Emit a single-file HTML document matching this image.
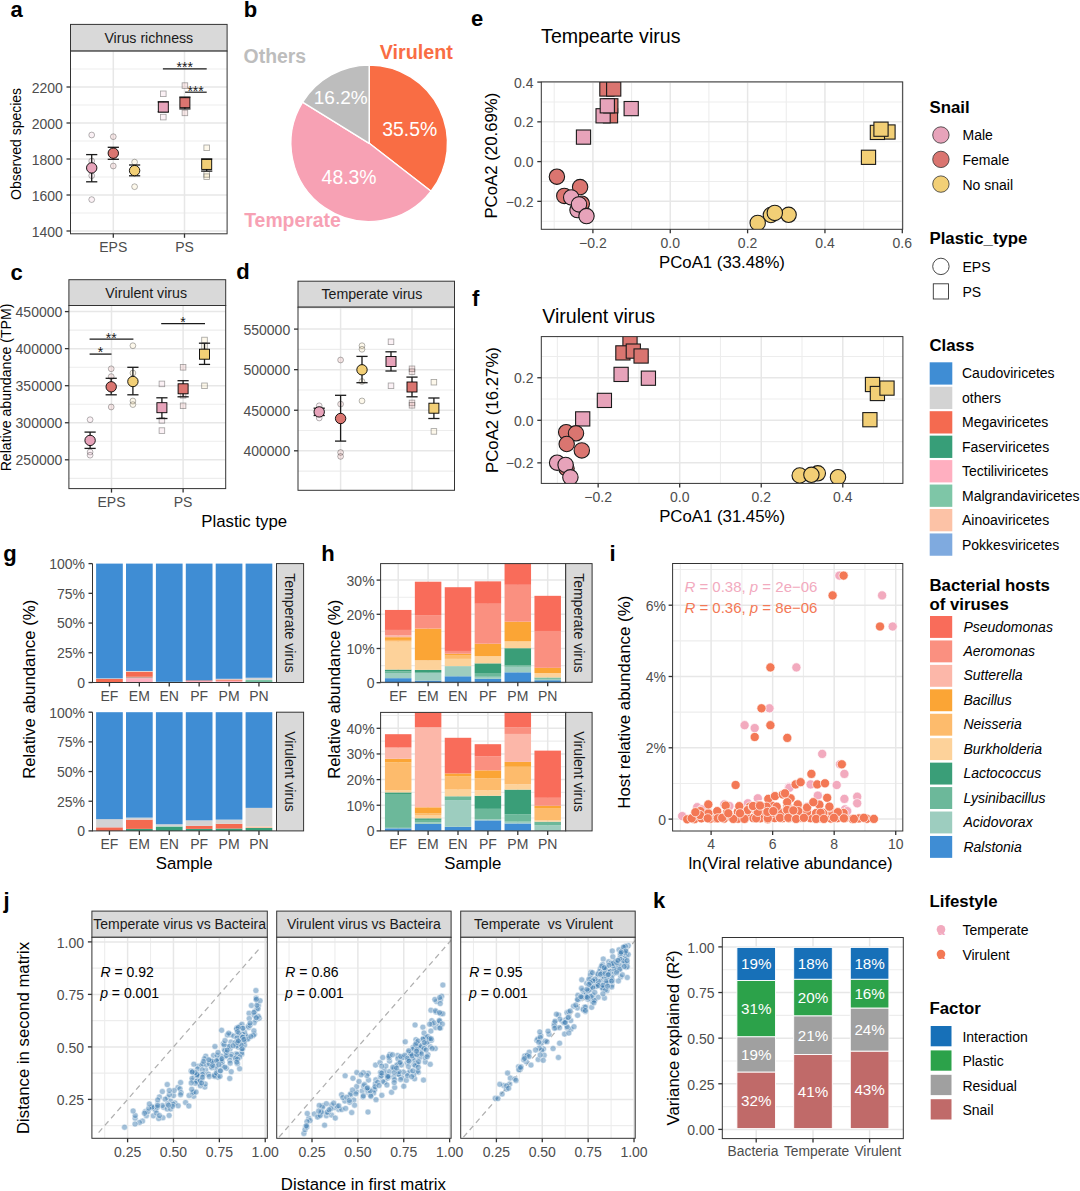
<!DOCTYPE html>
<html><head><meta charset="utf-8"><title>Figure</title>
<style>
html,body{margin:0;padding:0;background:#fff;}
body{width:1080px;height:1191px;overflow:hidden;}
svg{display:block;}
svg text{font-family:"Liberation Sans", Arial, sans-serif;}
</style></head>
<body>
<svg width="1080" height="1191" viewBox="0 0 1080 1191">
<rect x="0" y="0" width="1080" height="1191" fill="#fff"/>
<text x="10.5" y="16.7" font-size="22" font-weight="bold">a</text>
<rect x="70.5" y="24.4" width="156.6" height="26.7" fill="#D9D9D9" stroke="#333333" stroke-width="1"/>
<text x="148.8" y="42.75" font-size="14.2" text-anchor="middle" fill="#1A1A1A">Virus richness</text>
<rect x="70.5" y="51.1" width="156.6" height="182.7" fill="#fff"/>
<line x1="70.5" y1="69" x2="227.1" y2="69" stroke="#EDEDED" stroke-width="1.1"/>
<line x1="70.5" y1="87" x2="227.1" y2="87" stroke="#E7E7E7" stroke-width="1.5"/>
<line x1="70.5" y1="105" x2="227.1" y2="105" stroke="#EDEDED" stroke-width="1.1"/>
<line x1="70.5" y1="123" x2="227.1" y2="123" stroke="#E7E7E7" stroke-width="1.5"/>
<line x1="70.5" y1="141" x2="227.1" y2="141" stroke="#EDEDED" stroke-width="1.1"/>
<line x1="70.5" y1="159" x2="227.1" y2="159" stroke="#E7E7E7" stroke-width="1.5"/>
<line x1="70.5" y1="177" x2="227.1" y2="177" stroke="#EDEDED" stroke-width="1.1"/>
<line x1="70.5" y1="195" x2="227.1" y2="195" stroke="#E7E7E7" stroke-width="1.5"/>
<line x1="70.5" y1="213" x2="227.1" y2="213" stroke="#EDEDED" stroke-width="1.1"/>
<line x1="70.5" y1="231" x2="227.1" y2="231" stroke="#E7E7E7" stroke-width="1.5"/>
<line x1="113.3" y1="51.1" x2="113.3" y2="233.8" stroke="#E7E7E7" stroke-width="1.5"/>
<line x1="184.5" y1="51.1" x2="184.5" y2="233.8" stroke="#E7E7E7" stroke-width="1.5"/>
<line x1="66.5" y1="87" x2="70.5" y2="87" stroke="#333333" stroke-width="1.3"/>
<text x="62.8" y="92.5" font-size="14" text-anchor="end" fill="#4D4D4D">2200</text>
<line x1="66.5" y1="123" x2="70.5" y2="123" stroke="#333333" stroke-width="1.3"/>
<text x="62.8" y="128.5" font-size="14" text-anchor="end" fill="#4D4D4D">2000</text>
<line x1="66.5" y1="159" x2="70.5" y2="159" stroke="#333333" stroke-width="1.3"/>
<text x="62.8" y="164.5" font-size="14" text-anchor="end" fill="#4D4D4D">1800</text>
<line x1="66.5" y1="195" x2="70.5" y2="195" stroke="#333333" stroke-width="1.3"/>
<text x="62.8" y="200.5" font-size="14" text-anchor="end" fill="#4D4D4D">1600</text>
<line x1="66.5" y1="231" x2="70.5" y2="231" stroke="#333333" stroke-width="1.3"/>
<text x="62.8" y="236.5" font-size="14" text-anchor="end" fill="#4D4D4D">1400</text>
<line x1="113.3" y1="233.8" x2="113.3" y2="237.8" stroke="#333333" stroke-width="1.3"/>
<line x1="184.5" y1="233.8" x2="184.5" y2="237.8" stroke="#333333" stroke-width="1.3"/>
<circle cx="91.7" cy="135" r="2.9" fill="#E7A3BA" stroke="#333" stroke-width="0.8" fill-opacity="0.15" stroke-opacity="0.45"/>
<circle cx="91.7" cy="161" r="2.9" fill="#E7A3BA" stroke="#333" stroke-width="0.8" fill-opacity="0.15" stroke-opacity="0.45"/>
<circle cx="91.7" cy="175.7" r="2.9" fill="#E7A3BA" stroke="#333" stroke-width="0.8" fill-opacity="0.15" stroke-opacity="0.45"/>
<circle cx="91.7" cy="199.6" r="2.9" fill="#E7A3BA" stroke="#333" stroke-width="0.8" fill-opacity="0.15" stroke-opacity="0.45"/>
<line x1="91.7" y1="154.6" x2="91.7" y2="181.8" stroke="#1a1a1a" stroke-width="1.3"/>
<line x1="86.1" y1="154.6" x2="97.3" y2="154.6" stroke="#1a1a1a" stroke-width="1.3"/>
<line x1="86.1" y1="181.8" x2="97.3" y2="181.8" stroke="#1a1a1a" stroke-width="1.3"/>
<circle cx="91.7" cy="167.9" r="5.2" fill="#E7A3BA" stroke="#000" stroke-width="0.9"/>
<circle cx="113.3" cy="136.7" r="2.9" fill="#DA7570" stroke="#333" stroke-width="0.8" fill-opacity="0.15" stroke-opacity="0.45"/>
<circle cx="113.3" cy="166" r="2.9" fill="#DA7570" stroke="#333" stroke-width="0.8" fill-opacity="0.15" stroke-opacity="0.45"/>
<line x1="113.3" y1="147.3" x2="113.3" y2="159.3" stroke="#1a1a1a" stroke-width="1.3"/>
<line x1="107.7" y1="147.3" x2="118.9" y2="147.3" stroke="#1a1a1a" stroke-width="1.3"/>
<line x1="107.7" y1="159.3" x2="118.9" y2="159.3" stroke="#1a1a1a" stroke-width="1.3"/>
<circle cx="113.3" cy="153.2" r="5.2" fill="#DA7570" stroke="#000" stroke-width="0.9"/>
<circle cx="134.6" cy="162.1" r="2.9" fill="#F2CF76" stroke="#333" stroke-width="0.8" fill-opacity="0.15" stroke-opacity="0.45"/>
<circle cx="134.6" cy="186.7" r="2.9" fill="#F2CF76" stroke="#333" stroke-width="0.8" fill-opacity="0.15" stroke-opacity="0.45"/>
<line x1="134.6" y1="165" x2="134.6" y2="175.8" stroke="#1a1a1a" stroke-width="1.3"/>
<line x1="129" y1="165" x2="140.2" y2="165" stroke="#1a1a1a" stroke-width="1.3"/>
<line x1="129" y1="175.8" x2="140.2" y2="175.8" stroke="#1a1a1a" stroke-width="1.3"/>
<circle cx="134.6" cy="170.6" r="5.2" fill="#F2CF76" stroke="#000" stroke-width="0.9"/>
<rect x="160.5" y="91" width="5.6" height="5.6" fill="#E7A3BA" stroke="#333" stroke-width="0.8" fill-opacity="0.15" stroke-opacity="0.45"/>
<rect x="160.5" y="114.3" width="5.6" height="5.6" fill="#E7A3BA" stroke="#333" stroke-width="0.8" fill-opacity="0.15" stroke-opacity="0.45"/>
<line x1="163.3" y1="101.8" x2="163.3" y2="111.8" stroke="#1a1a1a" stroke-width="1.3"/>
<line x1="157.7" y1="101.8" x2="168.9" y2="101.8" stroke="#1a1a1a" stroke-width="1.3"/>
<line x1="157.7" y1="111.8" x2="168.9" y2="111.8" stroke="#1a1a1a" stroke-width="1.3"/>
<rect x="158.3" y="102.1" width="10" height="10" fill="#E7A3BA" stroke="#000" stroke-width="0.9"/>
<rect x="182.1" y="82.8" width="5.6" height="5.6" fill="#DA7570" stroke="#333" stroke-width="0.8" fill-opacity="0.15" stroke-opacity="0.45"/>
<rect x="182.1" y="110.1" width="5.6" height="5.6" fill="#DA7570" stroke="#333" stroke-width="0.8" fill-opacity="0.15" stroke-opacity="0.45"/>
<line x1="184.9" y1="97.1" x2="184.9" y2="108.9" stroke="#1a1a1a" stroke-width="1.3"/>
<line x1="179.3" y1="97.1" x2="190.5" y2="97.1" stroke="#1a1a1a" stroke-width="1.3"/>
<line x1="179.3" y1="108.9" x2="190.5" y2="108.9" stroke="#1a1a1a" stroke-width="1.3"/>
<rect x="179.9" y="97.7" width="10" height="10" fill="#DA7570" stroke="#000" stroke-width="0.9"/>
<rect x="203.9" y="145" width="5.6" height="5.6" fill="#F2CF76" stroke="#333" stroke-width="0.8" fill-opacity="0.15" stroke-opacity="0.45"/>
<rect x="203.9" y="171.6" width="5.6" height="5.6" fill="#F2CF76" stroke="#333" stroke-width="0.8" fill-opacity="0.15" stroke-opacity="0.45"/>
<rect x="203.9" y="173.9" width="5.6" height="5.6" fill="#F2CF76" stroke="#333" stroke-width="0.8" fill-opacity="0.15" stroke-opacity="0.45"/>
<line x1="206.7" y1="158.9" x2="206.7" y2="171.1" stroke="#1a1a1a" stroke-width="1.3"/>
<line x1="201.1" y1="158.9" x2="212.3" y2="158.9" stroke="#1a1a1a" stroke-width="1.3"/>
<line x1="201.1" y1="171.1" x2="212.3" y2="171.1" stroke="#1a1a1a" stroke-width="1.3"/>
<rect x="201.7" y="159.4" width="10" height="10" fill="#F2CF76" stroke="#000" stroke-width="0.9"/>
<rect x="70.5" y="51.1" width="156.6" height="182.7" fill="none" stroke="#333333" stroke-width="1"/>
<line x1="162.9" y1="68.9" x2="206.7" y2="68.9" stroke="#1a1a1a" stroke-width="1.2"/>
<text x="184.8" y="72" font-size="14" text-anchor="middle" fill="#1a1a1a">***</text>
<line x1="185.1" y1="92.2" x2="206.7" y2="92.2" stroke="#1a1a1a" stroke-width="1.2"/>
<text x="195.6" y="95.7" font-size="14" text-anchor="middle" fill="#1a1a1a">***</text>
<text x="113.3" y="252.2" font-size="14" text-anchor="middle" fill="#4D4D4D">EPS</text>
<text x="184.5" y="252.2" font-size="14" text-anchor="middle" fill="#4D4D4D">PS</text>
<text x="21" y="143.9" font-size="14" text-anchor="middle" transform="rotate(-90 21 143.9)">Observed species</text>
<text x="243.8" y="16.7" font-size="22" font-weight="bold">b</text>
<path d="M369.2,143.3 L369.2,65 A78.3,78.3 0 0 1 431.07,191.29 Z" fill="#F96D44" stroke="#fff" stroke-width="1.4" stroke-linejoin="round"/>
<path d="M369.2,143.3 L431.07,191.29 A78.3,78.3 0 0 1 302.57,102.18 Z" fill="#F7A1B4" stroke="#fff" stroke-width="1.4" stroke-linejoin="round"/>
<path d="M369.2,143.3 L302.57,102.18 A78.3,78.3 0 0 1 369.2,65 Z" fill="#BDBDBD" stroke="#fff" stroke-width="1.4" stroke-linejoin="round"/>
<text x="243.6" y="63.3" font-size="19.4" font-weight="bold" fill="#BDBDBD">Others</text>
<text x="379.8" y="58.9" font-size="19.7" font-weight="bold" fill="#F96D44">Virulent</text>
<text x="244.2" y="226.7" font-size="19.4" font-weight="bold" fill="#F7A1B4">Temperate</text>
<text x="313.8" y="104.2" font-size="19" fill="#fff">16.2%</text>
<text x="382.2" y="135.6" font-size="19.4" fill="#fff">35.5%</text>
<text x="321.6" y="184.4" font-size="19.4" fill="#fff">48.3%</text>
<text x="10.5" y="280.4" font-size="22" font-weight="bold">c</text>
<rect x="68.9" y="279.7" width="156.8" height="25.8" fill="#D9D9D9" stroke="#333333" stroke-width="1"/>
<text x="146.2" y="297.6" font-size="14.2" text-anchor="middle" fill="#1A1A1A">Virulent virus</text>
<rect x="68.9" y="305.5" width="156.8" height="183.1" fill="#fff"/>
<line x1="68.9" y1="311.6" x2="225.7" y2="311.6" stroke="#E7E7E7" stroke-width="1.5"/>
<line x1="68.9" y1="330.12" x2="225.7" y2="330.12" stroke="#EDEDED" stroke-width="1.1"/>
<line x1="68.9" y1="348.65" x2="225.7" y2="348.65" stroke="#E7E7E7" stroke-width="1.5"/>
<line x1="68.9" y1="367.18" x2="225.7" y2="367.18" stroke="#EDEDED" stroke-width="1.1"/>
<line x1="68.9" y1="385.7" x2="225.7" y2="385.7" stroke="#E7E7E7" stroke-width="1.5"/>
<line x1="68.9" y1="404.23" x2="225.7" y2="404.23" stroke="#EDEDED" stroke-width="1.1"/>
<line x1="68.9" y1="422.75" x2="225.7" y2="422.75" stroke="#E7E7E7" stroke-width="1.5"/>
<line x1="68.9" y1="441.27" x2="225.7" y2="441.27" stroke="#EDEDED" stroke-width="1.1"/>
<line x1="68.9" y1="459.8" x2="225.7" y2="459.8" stroke="#E7E7E7" stroke-width="1.5"/>
<line x1="68.9" y1="478.33" x2="225.7" y2="478.33" stroke="#EDEDED" stroke-width="1.1"/>
<line x1="111.5" y1="305.5" x2="111.5" y2="488.6" stroke="#E7E7E7" stroke-width="1.5"/>
<line x1="183.1" y1="305.5" x2="183.1" y2="488.6" stroke="#E7E7E7" stroke-width="1.5"/>
<line x1="64.9" y1="311.6" x2="68.9" y2="311.6" stroke="#333333" stroke-width="1.3"/>
<text x="62.3" y="317.1" font-size="14" text-anchor="end" fill="#4D4D4D">450000</text>
<line x1="64.9" y1="348.65" x2="68.9" y2="348.65" stroke="#333333" stroke-width="1.3"/>
<text x="62.3" y="354.15" font-size="14" text-anchor="end" fill="#4D4D4D">400000</text>
<line x1="64.9" y1="385.7" x2="68.9" y2="385.7" stroke="#333333" stroke-width="1.3"/>
<text x="62.3" y="391.2" font-size="14" text-anchor="end" fill="#4D4D4D">350000</text>
<line x1="64.9" y1="422.75" x2="68.9" y2="422.75" stroke="#333333" stroke-width="1.3"/>
<text x="62.3" y="428.25" font-size="14" text-anchor="end" fill="#4D4D4D">300000</text>
<line x1="64.9" y1="459.8" x2="68.9" y2="459.8" stroke="#333333" stroke-width="1.3"/>
<text x="62.3" y="465.3" font-size="14" text-anchor="end" fill="#4D4D4D">250000</text>
<line x1="111.5" y1="488.6" x2="111.5" y2="492.6" stroke="#333333" stroke-width="1.3"/>
<line x1="183.1" y1="488.6" x2="183.1" y2="492.6" stroke="#333333" stroke-width="1.3"/>
<circle cx="90.1" cy="419.7" r="2.9" fill="#E7A3BA" stroke="#333" stroke-width="0.8" fill-opacity="0.15" stroke-opacity="0.45"/>
<circle cx="90.1" cy="452" r="2.9" fill="#E7A3BA" stroke="#333" stroke-width="0.8" fill-opacity="0.15" stroke-opacity="0.45"/>
<circle cx="90.1" cy="455.2" r="2.9" fill="#E7A3BA" stroke="#333" stroke-width="0.8" fill-opacity="0.15" stroke-opacity="0.45"/>
<line x1="90.1" y1="432.1" x2="90.1" y2="448.4" stroke="#1a1a1a" stroke-width="1.3"/>
<line x1="84.5" y1="432.1" x2="95.7" y2="432.1" stroke="#1a1a1a" stroke-width="1.3"/>
<line x1="84.5" y1="448.4" x2="95.7" y2="448.4" stroke="#1a1a1a" stroke-width="1.3"/>
<circle cx="90.1" cy="440.4" r="5.2" fill="#E7A3BA" stroke="#000" stroke-width="0.9"/>
<circle cx="111.2" cy="368.8" r="2.9" fill="#DA7570" stroke="#333" stroke-width="0.8" fill-opacity="0.15" stroke-opacity="0.45"/>
<circle cx="111.2" cy="376.6" r="2.9" fill="#DA7570" stroke="#333" stroke-width="0.8" fill-opacity="0.15" stroke-opacity="0.45"/>
<circle cx="111.2" cy="407" r="2.9" fill="#DA7570" stroke="#333" stroke-width="0.8" fill-opacity="0.15" stroke-opacity="0.45"/>
<line x1="111.2" y1="378.3" x2="111.2" y2="394.8" stroke="#1a1a1a" stroke-width="1.3"/>
<line x1="105.6" y1="378.3" x2="116.8" y2="378.3" stroke="#1a1a1a" stroke-width="1.3"/>
<line x1="105.6" y1="394.8" x2="116.8" y2="394.8" stroke="#1a1a1a" stroke-width="1.3"/>
<circle cx="111.2" cy="386.8" r="5.2" fill="#DA7570" stroke="#000" stroke-width="0.9"/>
<circle cx="132.9" cy="345.7" r="2.9" fill="#F2CF76" stroke="#333" stroke-width="0.8" fill-opacity="0.15" stroke-opacity="0.45"/>
<circle cx="132.9" cy="373" r="2.9" fill="#F2CF76" stroke="#333" stroke-width="0.8" fill-opacity="0.15" stroke-opacity="0.45"/>
<circle cx="132.9" cy="401" r="2.9" fill="#F2CF76" stroke="#333" stroke-width="0.8" fill-opacity="0.15" stroke-opacity="0.45"/>
<circle cx="132.9" cy="404.6" r="2.9" fill="#F2CF76" stroke="#333" stroke-width="0.8" fill-opacity="0.15" stroke-opacity="0.45"/>
<line x1="132.9" y1="367.3" x2="132.9" y2="394.8" stroke="#1a1a1a" stroke-width="1.3"/>
<line x1="127.3" y1="367.3" x2="138.5" y2="367.3" stroke="#1a1a1a" stroke-width="1.3"/>
<line x1="127.3" y1="394.8" x2="138.5" y2="394.8" stroke="#1a1a1a" stroke-width="1.3"/>
<circle cx="132.9" cy="381.5" r="5.2" fill="#F2CF76" stroke="#000" stroke-width="0.9"/>
<rect x="159.1" y="381.1" width="5.6" height="5.6" fill="#E7A3BA" stroke="#333" stroke-width="0.8" fill-opacity="0.15" stroke-opacity="0.45"/>
<rect x="159.1" y="417.6" width="5.6" height="5.6" fill="#E7A3BA" stroke="#333" stroke-width="0.8" fill-opacity="0.15" stroke-opacity="0.45"/>
<rect x="159.1" y="427.8" width="5.6" height="5.6" fill="#E7A3BA" stroke="#333" stroke-width="0.8" fill-opacity="0.15" stroke-opacity="0.45"/>
<line x1="161.9" y1="397.8" x2="161.9" y2="418.5" stroke="#1a1a1a" stroke-width="1.3"/>
<line x1="156.3" y1="397.8" x2="167.5" y2="397.8" stroke="#1a1a1a" stroke-width="1.3"/>
<line x1="156.3" y1="418.5" x2="167.5" y2="418.5" stroke="#1a1a1a" stroke-width="1.3"/>
<rect x="156.9" y="402.7" width="10" height="10" fill="#E7A3BA" stroke="#000" stroke-width="0.9"/>
<rect x="180.3" y="364.5" width="5.6" height="5.6" fill="#DA7570" stroke="#333" stroke-width="0.8" fill-opacity="0.15" stroke-opacity="0.45"/>
<rect x="180.3" y="392.5" width="5.6" height="5.6" fill="#DA7570" stroke="#333" stroke-width="0.8" fill-opacity="0.15" stroke-opacity="0.45"/>
<rect x="180.3" y="403" width="5.6" height="5.6" fill="#DA7570" stroke="#333" stroke-width="0.8" fill-opacity="0.15" stroke-opacity="0.45"/>
<line x1="183.1" y1="380.7" x2="183.1" y2="396.8" stroke="#1a1a1a" stroke-width="1.3"/>
<line x1="177.5" y1="380.7" x2="188.7" y2="380.7" stroke="#1a1a1a" stroke-width="1.3"/>
<line x1="177.5" y1="396.8" x2="188.7" y2="396.8" stroke="#1a1a1a" stroke-width="1.3"/>
<rect x="178.1" y="383.8" width="10" height="10" fill="#DA7570" stroke="#000" stroke-width="0.9"/>
<rect x="201.7" y="337.2" width="5.6" height="5.6" fill="#F2CF76" stroke="#333" stroke-width="0.8" fill-opacity="0.15" stroke-opacity="0.45"/>
<rect x="201.7" y="343.4" width="5.6" height="5.6" fill="#F2CF76" stroke="#333" stroke-width="0.8" fill-opacity="0.15" stroke-opacity="0.45"/>
<rect x="201.7" y="383" width="5.6" height="5.6" fill="#F2CF76" stroke="#333" stroke-width="0.8" fill-opacity="0.15" stroke-opacity="0.45"/>
<line x1="204.5" y1="343.2" x2="204.5" y2="364.4" stroke="#1a1a1a" stroke-width="1.3"/>
<line x1="198.9" y1="343.2" x2="210.1" y2="343.2" stroke="#1a1a1a" stroke-width="1.3"/>
<line x1="198.9" y1="364.4" x2="210.1" y2="364.4" stroke="#1a1a1a" stroke-width="1.3"/>
<rect x="199.5" y="349.2" width="10" height="10" fill="#F2CF76" stroke="#000" stroke-width="0.9"/>
<rect x="68.9" y="305.5" width="156.8" height="183.1" fill="none" stroke="#333333" stroke-width="1"/>
<line x1="89.6" y1="339.1" x2="133.4" y2="339.1" stroke="#1a1a1a" stroke-width="1.3"/>
<text x="111.2" y="343.3" font-size="14" text-anchor="middle" fill="#1a1a1a">**</text>
<line x1="89.6" y1="354.1" x2="111.5" y2="354.1" stroke="#1a1a1a" stroke-width="1.3"/>
<text x="100.4" y="357.3" font-size="14" text-anchor="middle" fill="#1a1a1a">*</text>
<line x1="161.2" y1="323.6" x2="205" y2="323.6" stroke="#1a1a1a" stroke-width="1.3"/>
<text x="183.1" y="327.4" font-size="14" text-anchor="middle" fill="#1a1a1a">*</text>
<text x="111.5" y="506.8" font-size="14" text-anchor="middle" fill="#4D4D4D">EPS</text>
<text x="183.1" y="506.8" font-size="14" text-anchor="middle" fill="#4D4D4D">PS</text>
<text x="11.3" y="387.5" font-size="14.1" text-anchor="middle" transform="rotate(-90 11.3 387.5)">Relative abundance (TPM)</text>
<text x="201.3" y="527" font-size="16.8">Plastic type</text>
<text x="236.2" y="278.7" font-size="22" font-weight="bold">d</text>
<rect x="298" y="281.2" width="156.5" height="26" fill="#D9D9D9" stroke="#333333" stroke-width="1"/>
<text x="371.9" y="299.2" font-size="14.2" text-anchor="middle" fill="#1A1A1A">Temperate virus</text>
<rect x="298" y="307.2" width="156.5" height="183.1" fill="#fff"/>
<line x1="298" y1="308.81" x2="454.5" y2="308.81" stroke="#EDEDED" stroke-width="1.1"/>
<line x1="298" y1="329.1" x2="454.5" y2="329.1" stroke="#E7E7E7" stroke-width="1.5"/>
<line x1="298" y1="349.39" x2="454.5" y2="349.39" stroke="#EDEDED" stroke-width="1.1"/>
<line x1="298" y1="369.67" x2="454.5" y2="369.67" stroke="#E7E7E7" stroke-width="1.5"/>
<line x1="298" y1="389.96" x2="454.5" y2="389.96" stroke="#EDEDED" stroke-width="1.1"/>
<line x1="298" y1="410.24" x2="454.5" y2="410.24" stroke="#E7E7E7" stroke-width="1.5"/>
<line x1="298" y1="430.53" x2="454.5" y2="430.53" stroke="#EDEDED" stroke-width="1.1"/>
<line x1="298" y1="450.81" x2="454.5" y2="450.81" stroke="#E7E7E7" stroke-width="1.5"/>
<line x1="298" y1="471.1" x2="454.5" y2="471.1" stroke="#EDEDED" stroke-width="1.1"/>
<line x1="340.6" y1="307.2" x2="340.6" y2="490.3" stroke="#E7E7E7" stroke-width="1.5"/>
<line x1="412" y1="307.2" x2="412" y2="490.3" stroke="#E7E7E7" stroke-width="1.5"/>
<line x1="294" y1="329.1" x2="298" y2="329.1" stroke="#333333" stroke-width="1.3"/>
<text x="290.2" y="334.6" font-size="14" text-anchor="end" fill="#4D4D4D">550000</text>
<line x1="294" y1="369.67" x2="298" y2="369.67" stroke="#333333" stroke-width="1.3"/>
<text x="290.2" y="375.17" font-size="14" text-anchor="end" fill="#4D4D4D">500000</text>
<line x1="294" y1="410.24" x2="298" y2="410.24" stroke="#333333" stroke-width="1.3"/>
<text x="290.2" y="415.74" font-size="14" text-anchor="end" fill="#4D4D4D">450000</text>
<line x1="294" y1="450.81" x2="298" y2="450.81" stroke="#333333" stroke-width="1.3"/>
<text x="290.2" y="456.31" font-size="14" text-anchor="end" fill="#4D4D4D">400000</text>
<circle cx="319.2" cy="405.8" r="2.9" fill="#E7A3BA" stroke="#333" stroke-width="0.8" fill-opacity="0.15" stroke-opacity="0.45"/>
<circle cx="319.2" cy="418" r="2.9" fill="#E7A3BA" stroke="#333" stroke-width="0.8" fill-opacity="0.15" stroke-opacity="0.45"/>
<line x1="319.2" y1="408.2" x2="319.2" y2="415.5" stroke="#1a1a1a" stroke-width="1.3"/>
<line x1="313.6" y1="408.2" x2="324.8" y2="408.2" stroke="#1a1a1a" stroke-width="1.3"/>
<line x1="313.6" y1="415.5" x2="324.8" y2="415.5" stroke="#1a1a1a" stroke-width="1.3"/>
<circle cx="319.2" cy="411.9" r="5.2" fill="#E7A3BA" stroke="#000" stroke-width="0.9"/>
<circle cx="340.6" cy="360" r="2.9" fill="#DA7570" stroke="#333" stroke-width="0.8" fill-opacity="0.15" stroke-opacity="0.45"/>
<circle cx="340.6" cy="404.1" r="2.9" fill="#DA7570" stroke="#333" stroke-width="0.8" fill-opacity="0.15" stroke-opacity="0.45"/>
<circle cx="340.6" cy="452.5" r="2.9" fill="#DA7570" stroke="#333" stroke-width="0.8" fill-opacity="0.15" stroke-opacity="0.45"/>
<circle cx="340.6" cy="456.4" r="2.9" fill="#DA7570" stroke="#333" stroke-width="0.8" fill-opacity="0.15" stroke-opacity="0.45"/>
<line x1="340.6" y1="395.3" x2="340.6" y2="441.1" stroke="#1a1a1a" stroke-width="1.3"/>
<line x1="335" y1="395.3" x2="346.2" y2="395.3" stroke="#1a1a1a" stroke-width="1.3"/>
<line x1="335" y1="441.1" x2="346.2" y2="441.1" stroke="#1a1a1a" stroke-width="1.3"/>
<circle cx="340.6" cy="418.5" r="5.2" fill="#DA7570" stroke="#000" stroke-width="0.9"/>
<circle cx="362" cy="345.7" r="2.9" fill="#F2CF76" stroke="#333" stroke-width="0.8" fill-opacity="0.15" stroke-opacity="0.45"/>
<circle cx="362" cy="349.3" r="2.9" fill="#F2CF76" stroke="#333" stroke-width="0.8" fill-opacity="0.15" stroke-opacity="0.45"/>
<circle cx="362" cy="381.5" r="2.9" fill="#F2CF76" stroke="#333" stroke-width="0.8" fill-opacity="0.15" stroke-opacity="0.45"/>
<circle cx="362" cy="400.9" r="2.9" fill="#F2CF76" stroke="#333" stroke-width="0.8" fill-opacity="0.15" stroke-opacity="0.45"/>
<line x1="362" y1="356.4" x2="362" y2="382.7" stroke="#1a1a1a" stroke-width="1.3"/>
<line x1="356.4" y1="356.4" x2="367.6" y2="356.4" stroke="#1a1a1a" stroke-width="1.3"/>
<line x1="356.4" y1="382.7" x2="367.6" y2="382.7" stroke="#1a1a1a" stroke-width="1.3"/>
<circle cx="362" cy="369.8" r="5.2" fill="#F2CF76" stroke="#000" stroke-width="0.9"/>
<rect x="388.2" y="339" width="5.6" height="5.6" fill="#E7A3BA" stroke="#333" stroke-width="0.8" fill-opacity="0.15" stroke-opacity="0.45"/>
<rect x="388.2" y="383" width="5.6" height="5.6" fill="#E7A3BA" stroke="#333" stroke-width="0.8" fill-opacity="0.15" stroke-opacity="0.45"/>
<line x1="391" y1="351.8" x2="391" y2="371" stroke="#1a1a1a" stroke-width="1.3"/>
<line x1="385.4" y1="351.8" x2="396.6" y2="351.8" stroke="#1a1a1a" stroke-width="1.3"/>
<line x1="385.4" y1="371" x2="396.6" y2="371" stroke="#1a1a1a" stroke-width="1.3"/>
<rect x="386" y="356.5" width="10" height="10" fill="#E7A3BA" stroke="#000" stroke-width="0.9"/>
<rect x="409.2" y="366" width="5.6" height="5.6" fill="#DA7570" stroke="#333" stroke-width="0.8" fill-opacity="0.15" stroke-opacity="0.45"/>
<rect x="409.2" y="368.9" width="5.6" height="5.6" fill="#DA7570" stroke="#333" stroke-width="0.8" fill-opacity="0.15" stroke-opacity="0.45"/>
<rect x="409.2" y="400.1" width="5.6" height="5.6" fill="#DA7570" stroke="#333" stroke-width="0.8" fill-opacity="0.15" stroke-opacity="0.45"/>
<rect x="409.2" y="402.5" width="5.6" height="5.6" fill="#DA7570" stroke="#333" stroke-width="0.8" fill-opacity="0.15" stroke-opacity="0.45"/>
<line x1="412" y1="377.1" x2="412" y2="396.8" stroke="#1a1a1a" stroke-width="1.3"/>
<line x1="406.4" y1="377.1" x2="417.6" y2="377.1" stroke="#1a1a1a" stroke-width="1.3"/>
<line x1="406.4" y1="396.8" x2="417.6" y2="396.8" stroke="#1a1a1a" stroke-width="1.3"/>
<rect x="407" y="382" width="10" height="10" fill="#DA7570" stroke="#000" stroke-width="0.9"/>
<rect x="431.1" y="379.4" width="5.6" height="5.6" fill="#F2CF76" stroke="#333" stroke-width="0.8" fill-opacity="0.15" stroke-opacity="0.45"/>
<rect x="431.1" y="428.6" width="5.6" height="5.6" fill="#F2CF76" stroke="#333" stroke-width="0.8" fill-opacity="0.15" stroke-opacity="0.45"/>
<line x1="433.9" y1="398" x2="433.9" y2="418.5" stroke="#1a1a1a" stroke-width="1.3"/>
<line x1="428.3" y1="398" x2="439.5" y2="398" stroke="#1a1a1a" stroke-width="1.3"/>
<line x1="428.3" y1="418.5" x2="439.5" y2="418.5" stroke="#1a1a1a" stroke-width="1.3"/>
<rect x="428.9" y="403.2" width="10" height="10" fill="#F2CF76" stroke="#000" stroke-width="0.9"/>
<rect x="298" y="307.2" width="156.5" height="183.1" fill="none" stroke="#333333" stroke-width="1"/>
<text x="471" y="25.6" font-size="22" font-weight="bold">e</text>
<text x="541.1" y="42.7" font-size="19.6">Tempearte virus</text>
<rect x="541.3" y="81.9" width="361.4" height="147.4" fill="#fff"/>
<line x1="541.3" y1="101.96" x2="902.7" y2="101.96" stroke="#EDEDED" stroke-width="1.1"/>
<line x1="541.3" y1="141.72" x2="902.7" y2="141.72" stroke="#EDEDED" stroke-width="1.1"/>
<line x1="541.3" y1="181.48" x2="902.7" y2="181.48" stroke="#EDEDED" stroke-width="1.1"/>
<line x1="541.3" y1="221.24" x2="902.7" y2="221.24" stroke="#EDEDED" stroke-width="1.1"/>
<line x1="554.23" y1="81.9" x2="554.23" y2="229.3" stroke="#EDEDED" stroke-width="1.1"/>
<line x1="631.58" y1="81.9" x2="631.58" y2="229.3" stroke="#EDEDED" stroke-width="1.1"/>
<line x1="708.92" y1="81.9" x2="708.92" y2="229.3" stroke="#EDEDED" stroke-width="1.1"/>
<line x1="786.27" y1="81.9" x2="786.27" y2="229.3" stroke="#EDEDED" stroke-width="1.1"/>
<line x1="863.62" y1="81.9" x2="863.62" y2="229.3" stroke="#EDEDED" stroke-width="1.1"/>
<line x1="541.3" y1="82.08" x2="902.7" y2="82.08" stroke="#E7E7E7" stroke-width="1.5"/>
<line x1="541.3" y1="121.84" x2="902.7" y2="121.84" stroke="#E7E7E7" stroke-width="1.5"/>
<line x1="541.3" y1="161.6" x2="902.7" y2="161.6" stroke="#E7E7E7" stroke-width="1.5"/>
<line x1="541.3" y1="201.36" x2="902.7" y2="201.36" stroke="#E7E7E7" stroke-width="1.5"/>
<line x1="592.9" y1="81.9" x2="592.9" y2="229.3" stroke="#E7E7E7" stroke-width="1.5"/>
<line x1="670.25" y1="81.9" x2="670.25" y2="229.3" stroke="#E7E7E7" stroke-width="1.5"/>
<line x1="747.6" y1="81.9" x2="747.6" y2="229.3" stroke="#E7E7E7" stroke-width="1.5"/>
<line x1="824.95" y1="81.9" x2="824.95" y2="229.3" stroke="#E7E7E7" stroke-width="1.5"/>
<line x1="902.3" y1="81.9" x2="902.3" y2="229.3" stroke="#E7E7E7" stroke-width="1.5"/>
<clipPath id="clipe"><rect x="541.3" y="81.9" width="361.4000000000001" height="147.4"/></clipPath>
<g clip-path="url(#clipe)">
<rect x="599.8" y="81.9" width="14.2" height="14.2" fill="#DA7570" stroke="#1a1a1a" stroke-width="1.1"/>
<rect x="606.6" y="81.9" width="14.2" height="14.2" fill="#DA7570" stroke="#1a1a1a" stroke-width="1.1"/>
<rect x="603.4" y="108.7" width="14.2" height="14.2" fill="#DA7570" stroke="#1a1a1a" stroke-width="1.1"/>
<rect x="596" y="108.7" width="14.2" height="14.2" fill="#E7A3BA" stroke="#1a1a1a" stroke-width="1.1"/>
<rect x="603.7" y="98.7" width="14.2" height="14.2" fill="#DA7570" stroke="#1a1a1a" stroke-width="1.1"/>
<rect x="600.2" y="98.7" width="14.2" height="14.2" fill="#E7A3BA" stroke="#1a1a1a" stroke-width="1.1"/>
<rect x="624.1" y="101.5" width="14.2" height="14.2" fill="#E7A3BA" stroke="#1a1a1a" stroke-width="1.1"/>
<rect x="576.4" y="130" width="14.2" height="14.2" fill="#E7A3BA" stroke="#1a1a1a" stroke-width="1.1"/>
<circle cx="556.9" cy="176.7" r="7.7" fill="#DA7570" stroke="#1a1a1a" stroke-width="1.1"/>
<circle cx="580.1" cy="187.1" r="7.7" fill="#DA7570" stroke="#1a1a1a" stroke-width="1.1"/>
<circle cx="564.3" cy="195.9" r="7.7" fill="#DA7570" stroke="#1a1a1a" stroke-width="1.1"/>
<circle cx="571.2" cy="197.4" r="7.7" fill="#E7A3BA" stroke="#1a1a1a" stroke-width="1.1"/>
<circle cx="581.8" cy="203.7" r="7.7" fill="#DA7570" stroke="#1a1a1a" stroke-width="1.1"/>
<circle cx="577.5" cy="210.1" r="7.7" fill="#E7A3BA" stroke="#1a1a1a" stroke-width="1.1"/>
<circle cx="579" cy="204.4" r="7.7" fill="#E7A3BA" stroke="#1a1a1a" stroke-width="1.1"/>
<circle cx="586.5" cy="216.1" r="7.7" fill="#E7A3BA" stroke="#1a1a1a" stroke-width="1.1"/>
<rect x="880.9" y="124.9" width="14.2" height="14.2" fill="#F2CF76" stroke="#1a1a1a" stroke-width="1.1"/>
<rect x="870.3" y="125.3" width="14.2" height="14.2" fill="#F2CF76" stroke="#1a1a1a" stroke-width="1.1"/>
<rect x="873.9" y="122.1" width="14.2" height="14.2" fill="#F2CF76" stroke="#1a1a1a" stroke-width="1.1"/>
<rect x="861.4" y="150.2" width="14.2" height="14.2" fill="#F2CF76" stroke="#1a1a1a" stroke-width="1.1"/>
<circle cx="770.9" cy="215" r="7.7" fill="#F2CF76" stroke="#1a1a1a" stroke-width="1.1"/>
<circle cx="788.6" cy="214.8" r="7.7" fill="#F2CF76" stroke="#1a1a1a" stroke-width="1.1"/>
<circle cx="774.8" cy="212.9" r="7.7" fill="#F2CF76" stroke="#1a1a1a" stroke-width="1.1"/>
<circle cx="757.7" cy="222.9" r="7.7" fill="#F2CF76" stroke="#1a1a1a" stroke-width="1.1"/>
</g>
<rect x="541.3" y="81.9" width="361.4" height="147.4" fill="none" stroke="#333333" stroke-width="1"/>
<line x1="537.3" y1="82.08" x2="541.3" y2="82.08" stroke="#333333" stroke-width="1.3"/>
<text x="533.5" y="87.68" font-size="14" text-anchor="end" fill="#4D4D4D">0.4</text>
<line x1="537.3" y1="121.84" x2="541.3" y2="121.84" stroke="#333333" stroke-width="1.3"/>
<text x="533.5" y="127.44" font-size="14" text-anchor="end" fill="#4D4D4D">0.2</text>
<line x1="537.3" y1="161.6" x2="541.3" y2="161.6" stroke="#333333" stroke-width="1.3"/>
<text x="533.5" y="167.2" font-size="14" text-anchor="end" fill="#4D4D4D">0.0</text>
<line x1="537.3" y1="201.36" x2="541.3" y2="201.36" stroke="#333333" stroke-width="1.3"/>
<text x="533.5" y="206.96" font-size="14" text-anchor="end" fill="#4D4D4D">−0.2</text>
<line x1="592.9" y1="229.3" x2="592.9" y2="233.3" stroke="#333333" stroke-width="1.3"/>
<text x="592.9" y="248.1" font-size="14" text-anchor="middle" fill="#4D4D4D">−0.2</text>
<line x1="670.25" y1="229.3" x2="670.25" y2="233.3" stroke="#333333" stroke-width="1.3"/>
<text x="670.25" y="248.1" font-size="14" text-anchor="middle" fill="#4D4D4D">0.0</text>
<line x1="747.6" y1="229.3" x2="747.6" y2="233.3" stroke="#333333" stroke-width="1.3"/>
<text x="747.6" y="248.1" font-size="14" text-anchor="middle" fill="#4D4D4D">0.2</text>
<line x1="824.95" y1="229.3" x2="824.95" y2="233.3" stroke="#333333" stroke-width="1.3"/>
<text x="824.95" y="248.1" font-size="14" text-anchor="middle" fill="#4D4D4D">0.4</text>
<line x1="902.3" y1="229.3" x2="902.3" y2="233.3" stroke="#333333" stroke-width="1.3"/>
<text x="902.3" y="248.1" font-size="14" text-anchor="middle" fill="#4D4D4D">0.6</text>
<text x="722" y="267.8" font-size="16.8" text-anchor="middle">PCoA1 (33.48%)</text>
<text x="497" y="155.6" font-size="16.8" text-anchor="middle" transform="rotate(-90 497 155.6)">PCoA2 (20.69%)</text>
<text x="472" y="306.2" font-size="22" font-weight="bold">f</text>
<text x="542.2" y="323.3" font-size="19.6">Virulent virus</text>
<rect x="541.3" y="336.6" width="361.6" height="146.8" fill="#fff"/>
<line x1="541.3" y1="356.46" x2="902.9" y2="356.46" stroke="#EDEDED" stroke-width="1.1"/>
<line x1="541.3" y1="399.02" x2="902.9" y2="399.02" stroke="#EDEDED" stroke-width="1.1"/>
<line x1="541.3" y1="441.58" x2="902.9" y2="441.58" stroke="#EDEDED" stroke-width="1.1"/>
<line x1="557.39" y1="336.6" x2="557.39" y2="483.4" stroke="#EDEDED" stroke-width="1.1"/>
<line x1="638.93" y1="336.6" x2="638.93" y2="483.4" stroke="#EDEDED" stroke-width="1.1"/>
<line x1="720.47" y1="336.6" x2="720.47" y2="483.4" stroke="#EDEDED" stroke-width="1.1"/>
<line x1="802.01" y1="336.6" x2="802.01" y2="483.4" stroke="#EDEDED" stroke-width="1.1"/>
<line x1="883.55" y1="336.6" x2="883.55" y2="483.4" stroke="#EDEDED" stroke-width="1.1"/>
<line x1="541.3" y1="377.74" x2="902.9" y2="377.74" stroke="#E7E7E7" stroke-width="1.5"/>
<line x1="541.3" y1="420.3" x2="902.9" y2="420.3" stroke="#E7E7E7" stroke-width="1.5"/>
<line x1="541.3" y1="462.86" x2="902.9" y2="462.86" stroke="#E7E7E7" stroke-width="1.5"/>
<line x1="598.16" y1="336.6" x2="598.16" y2="483.4" stroke="#E7E7E7" stroke-width="1.5"/>
<line x1="679.7" y1="336.6" x2="679.7" y2="483.4" stroke="#E7E7E7" stroke-width="1.5"/>
<line x1="761.24" y1="336.6" x2="761.24" y2="483.4" stroke="#E7E7E7" stroke-width="1.5"/>
<line x1="842.78" y1="336.6" x2="842.78" y2="483.4" stroke="#E7E7E7" stroke-width="1.5"/>
<clipPath id="clipf"><rect x="541.3" y="336.6" width="361.6" height="146.79999999999995"/></clipPath>
<g clip-path="url(#clipf)">
<rect x="622.9" y="334.7" width="14.2" height="14.2" fill="#DA7570" stroke="#1a1a1a" stroke-width="1.1"/>
<rect x="615.8" y="345.8" width="14.2" height="14.2" fill="#DA7570" stroke="#1a1a1a" stroke-width="1.1"/>
<rect x="626.2" y="344" width="14.2" height="14.2" fill="#DA7570" stroke="#1a1a1a" stroke-width="1.1"/>
<rect x="634" y="348.9" width="14.2" height="14.2" fill="#DA7570" stroke="#1a1a1a" stroke-width="1.1"/>
<rect x="614" y="367.3" width="14.2" height="14.2" fill="#E7A3BA" stroke="#1a1a1a" stroke-width="1.1"/>
<rect x="641.3" y="371.1" width="14.2" height="14.2" fill="#E7A3BA" stroke="#1a1a1a" stroke-width="1.1"/>
<rect x="597.3" y="393.3" width="14.2" height="14.2" fill="#E7A3BA" stroke="#1a1a1a" stroke-width="1.1"/>
<rect x="575.6" y="411.8" width="14.2" height="14.2" fill="#E7A3BA" stroke="#1a1a1a" stroke-width="1.1"/>
<circle cx="566.2" cy="432.2" r="7.7" fill="#DA7570" stroke="#1a1a1a" stroke-width="1.1"/>
<circle cx="576" cy="433.3" r="7.7" fill="#DA7570" stroke="#1a1a1a" stroke-width="1.1"/>
<circle cx="566.7" cy="444" r="7.7" fill="#DA7570" stroke="#1a1a1a" stroke-width="1.1"/>
<circle cx="581.8" cy="450.4" r="7.7" fill="#DA7570" stroke="#1a1a1a" stroke-width="1.1"/>
<circle cx="566.5" cy="468.5" r="7.7" fill="#DA7570" stroke="#1a1a1a" stroke-width="1.1"/>
<circle cx="557.1" cy="462.7" r="7.7" fill="#E7A3BA" stroke="#1a1a1a" stroke-width="1.1"/>
<circle cx="565.6" cy="464.9" r="7.7" fill="#E7A3BA" stroke="#1a1a1a" stroke-width="1.1"/>
<circle cx="570.4" cy="477.3" r="7.7" fill="#E7A3BA" stroke="#1a1a1a" stroke-width="1.1"/>
<rect x="865.4" y="377.4" width="14.2" height="14.2" fill="#F2CF76" stroke="#1a1a1a" stroke-width="1.1"/>
<rect x="870.3" y="386.4" width="14.2" height="14.2" fill="#F2CF76" stroke="#1a1a1a" stroke-width="1.1"/>
<rect x="879.9" y="381" width="14.2" height="14.2" fill="#F2CF76" stroke="#1a1a1a" stroke-width="1.1"/>
<rect x="862.8" y="412.6" width="14.2" height="14.2" fill="#F2CF76" stroke="#1a1a1a" stroke-width="1.1"/>
<circle cx="799.7" cy="475.5" r="7.7" fill="#F2CF76" stroke="#1a1a1a" stroke-width="1.1"/>
<circle cx="817.8" cy="473.3" r="7.7" fill="#F2CF76" stroke="#1a1a1a" stroke-width="1.1"/>
<circle cx="811.4" cy="474.8" r="7.7" fill="#F2CF76" stroke="#1a1a1a" stroke-width="1.1"/>
<circle cx="838" cy="477.2" r="7.7" fill="#F2CF76" stroke="#1a1a1a" stroke-width="1.1"/>
</g>
<rect x="541.3" y="336.6" width="361.6" height="146.8" fill="none" stroke="#333333" stroke-width="1"/>
<line x1="537.3" y1="377.74" x2="541.3" y2="377.74" stroke="#333333" stroke-width="1.3"/>
<text x="533.5" y="383.34" font-size="14" text-anchor="end" fill="#4D4D4D">0.2</text>
<line x1="537.3" y1="420.3" x2="541.3" y2="420.3" stroke="#333333" stroke-width="1.3"/>
<text x="533.5" y="425.9" font-size="14" text-anchor="end" fill="#4D4D4D">0.0</text>
<line x1="537.3" y1="462.86" x2="541.3" y2="462.86" stroke="#333333" stroke-width="1.3"/>
<text x="533.5" y="468.46" font-size="14" text-anchor="end" fill="#4D4D4D">−0.2</text>
<line x1="598.16" y1="483.4" x2="598.16" y2="487.4" stroke="#333333" stroke-width="1.3"/>
<text x="598.16" y="502.3" font-size="14" text-anchor="middle" fill="#4D4D4D">−0.2</text>
<line x1="679.7" y1="483.4" x2="679.7" y2="487.4" stroke="#333333" stroke-width="1.3"/>
<text x="679.7" y="502.3" font-size="14" text-anchor="middle" fill="#4D4D4D">0.0</text>
<line x1="761.24" y1="483.4" x2="761.24" y2="487.4" stroke="#333333" stroke-width="1.3"/>
<text x="761.24" y="502.3" font-size="14" text-anchor="middle" fill="#4D4D4D">0.2</text>
<line x1="842.78" y1="483.4" x2="842.78" y2="487.4" stroke="#333333" stroke-width="1.3"/>
<text x="842.78" y="502.3" font-size="14" text-anchor="middle" fill="#4D4D4D">0.4</text>
<text x="722.1" y="521.7" font-size="16.8" text-anchor="middle">PCoA1 (31.45%)</text>
<text x="498.3" y="410" font-size="16.8" text-anchor="middle" transform="rotate(-90 498.3 410)">PCoA2 (16.27%)</text>
<text x="929.5" y="112.8" font-size="16.8" font-weight="bold">Snail</text>
<circle cx="940.9" cy="135" r="8.2" fill="#E7A3BA" stroke="#333" stroke-width="0.8"/>
<text x="962.5" y="140.4" font-size="14">Male</text>
<circle cx="940.9" cy="159.4" r="8.2" fill="#DA7570" stroke="#333" stroke-width="0.8"/>
<text x="962.5" y="164.8" font-size="14">Female</text>
<circle cx="940.9" cy="184.1" r="8.2" fill="#F2CF76" stroke="#333" stroke-width="0.8"/>
<text x="962.5" y="189.5" font-size="14">No snail</text>
<text x="929.5" y="244.2" font-size="16.8" font-weight="bold">Plastic_type</text>
<circle cx="940.9" cy="266.4" r="8.2" fill="#fff" stroke="#333" stroke-width="0.9"/>
<text x="962.5" y="271.8" font-size="14">EPS</text>
<rect x="933.3" y="283.8" width="15.2" height="15.2" fill="#fff" stroke="#333" stroke-width="0.9"/>
<text x="962.5" y="296.6" font-size="14">PS</text>
<text x="929.5" y="351.2" font-size="16.8" font-weight="bold">Class</text>
<rect x="929.7" y="362.3" width="22.6" height="22.3" fill="#3F8DD4"/>
<text x="962" y="378.4" font-size="14">Caudoviricetes</text>
<rect x="929.7" y="386.75" width="22.6" height="22.3" fill="#D3D3D3"/>
<text x="962" y="402.85" font-size="14">others</text>
<rect x="929.7" y="411.2" width="22.6" height="22.3" fill="#F46A50"/>
<text x="962" y="427.3" font-size="14">Megaviricetes</text>
<rect x="929.7" y="435.65" width="22.6" height="22.3" fill="#379E78"/>
<text x="962" y="451.75" font-size="14">Faserviricetes</text>
<rect x="929.7" y="460.1" width="22.6" height="22.3" fill="#FFAFC0"/>
<text x="962" y="476.2" font-size="14">Tectiliviricetes</text>
<rect x="929.7" y="484.55" width="22.6" height="22.3" fill="#7EC6A7"/>
<text x="962" y="500.65" font-size="14">Malgrandaviricetes</text>
<rect x="929.7" y="509" width="22.6" height="22.3" fill="#FCC2A6"/>
<text x="962" y="525.1" font-size="14">Ainoaviricetes</text>
<rect x="929.7" y="533.45" width="22.6" height="22.3" fill="#7FAADF"/>
<text x="962" y="549.55" font-size="14">Pokkesviricetes</text>
<text x="929.5" y="590.7" font-size="16.8" font-weight="bold">Bacterial hosts</text>
<text x="929.5" y="610.2" font-size="16.8" font-weight="bold">of viruses</text>
<rect x="930" y="616" width="22.2" height="21.9" fill="#F96C5A"/>
<text x="963.4" y="631.6" font-size="14" font-style="italic">Pseudomonas</text>
<rect x="930" y="640.44" width="22.2" height="21.9" fill="#FA9080"/>
<text x="963.4" y="656.04" font-size="14" font-style="italic">Aeromonas</text>
<rect x="930" y="664.88" width="22.2" height="21.9" fill="#FCB7A9"/>
<text x="963.4" y="680.48" font-size="14" font-style="italic">Sutterella</text>
<rect x="930" y="689.32" width="22.2" height="21.9" fill="#FBA535"/>
<text x="963.4" y="704.92" font-size="14" font-style="italic">Bacillus</text>
<rect x="930" y="713.76" width="22.2" height="21.9" fill="#FDBB6C"/>
<text x="963.4" y="729.36" font-size="14" font-style="italic">Neisseria</text>
<rect x="930" y="738.2" width="22.2" height="21.9" fill="#FDD29A"/>
<text x="963.4" y="753.8" font-size="14" font-style="italic">Burkholderia</text>
<rect x="930" y="762.64" width="22.2" height="21.9" fill="#3A9E78"/>
<text x="963.4" y="778.24" font-size="14" font-style="italic">Lactococcus</text>
<rect x="930" y="787.08" width="22.2" height="21.9" fill="#6CB89A"/>
<text x="963.4" y="802.68" font-size="14" font-style="italic">Lysinibacillus</text>
<rect x="930" y="811.52" width="22.2" height="21.9" fill="#9DCDBF"/>
<text x="963.4" y="827.12" font-size="14" font-style="italic">Acidovorax</text>
<rect x="930" y="835.96" width="22.2" height="21.9" fill="#3F8DD4"/>
<text x="963.4" y="851.56" font-size="14" font-style="italic">Ralstonia</text>
<text x="929.5" y="907.1" font-size="16.8" font-weight="bold">Lifestyle</text>
<circle cx="941" cy="929.4" r="4.3" fill="#F2AABE"/>
<text x="941.2" y="934.6" font-size="12.5" text-anchor="middle" font-weight="bold" fill="#F2AABE">a</text>
<text x="962.4" y="934.8" font-size="14">Temperate</text>
<circle cx="941" cy="954.1" r="4.3" fill="#F37855"/>
<text x="941.2" y="959.3" font-size="12.5" text-anchor="middle" font-weight="bold" fill="#F37855">a</text>
<text x="962.4" y="959.5" font-size="14">Virulent</text>
<text x="929.5" y="1014" font-size="16.8" font-weight="bold">Factor</text>
<rect x="930.7" y="1026" width="20.8" height="20.3" fill="#1770B8"/>
<text x="962.4" y="1041.8" font-size="14">Interaction</text>
<rect x="930.7" y="1050.4" width="20.8" height="20.3" fill="#2CA24A"/>
<text x="962.4" y="1066.2" font-size="14">Plastic</text>
<rect x="930.7" y="1074.8" width="20.8" height="20.3" fill="#A0A0A0"/>
<text x="962.4" y="1090.6" font-size="14">Residual</text>
<rect x="930.7" y="1099.2" width="20.8" height="20.3" fill="#C06A69"/>
<text x="962.4" y="1115" font-size="14">Snail</text>
<text x="3.3" y="560.8" font-size="22" font-weight="bold">g</text>
<rect x="96.1" y="678.93" width="26.7" height="3.57" fill="#F46A50"/>
<rect x="96.1" y="678.34" width="26.7" height="0.59" fill="#D3D3D3"/>
<rect x="96.1" y="563.6" width="26.7" height="114.74" fill="#3F8DD4"/>
<rect x="126" y="678.22" width="26.7" height="4.28" fill="#FFAFC0"/>
<rect x="126" y="676.79" width="26.7" height="1.43" fill="#C9A49A"/>
<rect x="126" y="671.68" width="26.7" height="5.11" fill="#F46A50"/>
<rect x="126" y="670.97" width="26.7" height="0.71" fill="#D3D3D3"/>
<rect x="126" y="563.6" width="26.7" height="107.37" fill="#3F8DD4"/>
<rect x="155.9" y="681.79" width="26.7" height="0.71" fill="#379E78"/>
<rect x="155.9" y="563.6" width="26.7" height="118.19" fill="#3F8DD4"/>
<rect x="185.8" y="681.07" width="26.7" height="1.43" fill="#FFAFC0"/>
<rect x="185.8" y="680.36" width="26.7" height="0.71" fill="#F46A50"/>
<rect x="185.8" y="563.6" width="26.7" height="116.76" fill="#3F8DD4"/>
<rect x="215.7" y="680.72" width="26.7" height="1.78" fill="#FFAFC0"/>
<rect x="215.7" y="679.53" width="26.7" height="1.19" fill="#F46A50"/>
<rect x="215.7" y="678.81" width="26.7" height="0.71" fill="#D3D3D3"/>
<rect x="215.7" y="563.6" width="26.7" height="115.21" fill="#3F8DD4"/>
<rect x="245.6" y="681.31" width="26.7" height="1.19" fill="#379E78"/>
<rect x="245.6" y="679.88" width="26.7" height="1.43" fill="#7EC6A7"/>
<rect x="245.6" y="677.74" width="26.7" height="2.14" fill="#D3D3D3"/>
<rect x="245.6" y="563.6" width="26.7" height="114.14" fill="#3F8DD4"/>
<line x1="92.5" y1="563.6" x2="92.5" y2="683" stroke="#333333" stroke-width="1"/>
<line x1="92.5" y1="682.5" x2="276" y2="682.5" stroke="#333333" stroke-width="1"/>
<line x1="88.5" y1="563.6" x2="92.5" y2="563.6" stroke="#333333" stroke-width="1.3"/>
<text x="85" y="569" font-size="14" text-anchor="end" fill="#4D4D4D">100%</text>
<line x1="88.5" y1="593.33" x2="92.5" y2="593.33" stroke="#333333" stroke-width="1.3"/>
<text x="85" y="598.73" font-size="14" text-anchor="end" fill="#4D4D4D">75%</text>
<line x1="88.5" y1="623.05" x2="92.5" y2="623.05" stroke="#333333" stroke-width="1.3"/>
<text x="85" y="628.45" font-size="14" text-anchor="end" fill="#4D4D4D">50%</text>
<line x1="88.5" y1="652.77" x2="92.5" y2="652.77" stroke="#333333" stroke-width="1.3"/>
<text x="85" y="658.17" font-size="14" text-anchor="end" fill="#4D4D4D">25%</text>
<line x1="88.5" y1="682.5" x2="92.5" y2="682.5" stroke="#333333" stroke-width="1.3"/>
<text x="85" y="687.9" font-size="14" text-anchor="end" fill="#4D4D4D">0</text>
<line x1="109.45" y1="682.5" x2="109.45" y2="686.5" stroke="#333333" stroke-width="1.3"/>
<text x="109.45" y="700.7" font-size="14" text-anchor="middle" fill="#4D4D4D">EF</text>
<line x1="139.35" y1="682.5" x2="139.35" y2="686.5" stroke="#333333" stroke-width="1.3"/>
<text x="139.35" y="700.7" font-size="14" text-anchor="middle" fill="#4D4D4D">EM</text>
<line x1="169.25" y1="682.5" x2="169.25" y2="686.5" stroke="#333333" stroke-width="1.3"/>
<text x="169.25" y="700.7" font-size="14" text-anchor="middle" fill="#4D4D4D">EN</text>
<line x1="199.15" y1="682.5" x2="199.15" y2="686.5" stroke="#333333" stroke-width="1.3"/>
<text x="199.15" y="700.7" font-size="14" text-anchor="middle" fill="#4D4D4D">PF</text>
<line x1="229.05" y1="682.5" x2="229.05" y2="686.5" stroke="#333333" stroke-width="1.3"/>
<text x="229.05" y="700.7" font-size="14" text-anchor="middle" fill="#4D4D4D">PM</text>
<line x1="258.95" y1="682.5" x2="258.95" y2="686.5" stroke="#333333" stroke-width="1.3"/>
<text x="258.95" y="700.7" font-size="14" text-anchor="middle" fill="#4D4D4D">PN</text>
<rect x="276.5" y="563.6" width="27.1" height="118.9" fill="#D9D9D9" stroke="#333333" stroke-width="1"/>
<text x="285.1" y="623.05" font-size="14" text-anchor="middle" fill="#1A1A1A" transform="rotate(90 285.1 623.05)">Temperate virus</text>
<rect x="96.1" y="827.34" width="26.7" height="3.56" fill="#F46A50"/>
<rect x="96.1" y="819.15" width="26.7" height="8.19" fill="#D3D3D3"/>
<rect x="96.1" y="712.2" width="26.7" height="106.95" fill="#3F8DD4"/>
<rect x="126" y="828.88" width="26.7" height="2.02" fill="#379E78"/>
<rect x="126" y="819.62" width="26.7" height="9.26" fill="#F46A50"/>
<rect x="126" y="817.61" width="26.7" height="2.02" fill="#D3D3D3"/>
<rect x="126" y="712.2" width="26.7" height="105.41" fill="#3F8DD4"/>
<rect x="155.9" y="826.75" width="26.7" height="4.15" fill="#379E78"/>
<rect x="155.9" y="826.27" width="26.7" height="0.47" fill="#7EC6A7"/>
<rect x="155.9" y="824.25" width="26.7" height="2.02" fill="#D3D3D3"/>
<rect x="155.9" y="712.2" width="26.7" height="112.05" fill="#3F8DD4"/>
<rect x="185.8" y="828.88" width="26.7" height="2.02" fill="#379E78"/>
<rect x="185.8" y="825.8" width="26.7" height="3.09" fill="#F46A50"/>
<rect x="185.8" y="820.34" width="26.7" height="5.46" fill="#D3D3D3"/>
<rect x="185.8" y="712.2" width="26.7" height="108.14" fill="#3F8DD4"/>
<rect x="215.7" y="828.53" width="26.7" height="2.37" fill="#379E78"/>
<rect x="215.7" y="823.78" width="26.7" height="4.75" fill="#F46A50"/>
<rect x="215.7" y="819.62" width="26.7" height="4.15" fill="#D3D3D3"/>
<rect x="215.7" y="712.2" width="26.7" height="107.42" fill="#3F8DD4"/>
<rect x="245.6" y="827.93" width="26.7" height="2.97" fill="#379E78"/>
<rect x="245.6" y="826.39" width="26.7" height="1.54" fill="#FCC2A6"/>
<rect x="245.6" y="807.87" width="26.7" height="18.52" fill="#D3D3D3"/>
<rect x="245.6" y="712.2" width="26.7" height="95.67" fill="#3F8DD4"/>
<line x1="92.5" y1="712.2" x2="92.5" y2="831.4" stroke="#333333" stroke-width="1"/>
<line x1="92.5" y1="830.9" x2="276" y2="830.9" stroke="#333333" stroke-width="1"/>
<line x1="88.5" y1="712.2" x2="92.5" y2="712.2" stroke="#333333" stroke-width="1.3"/>
<text x="85" y="717.6" font-size="14" text-anchor="end" fill="#4D4D4D">100%</text>
<line x1="88.5" y1="741.88" x2="92.5" y2="741.88" stroke="#333333" stroke-width="1.3"/>
<text x="85" y="747.27" font-size="14" text-anchor="end" fill="#4D4D4D">75%</text>
<line x1="88.5" y1="771.55" x2="92.5" y2="771.55" stroke="#333333" stroke-width="1.3"/>
<text x="85" y="776.95" font-size="14" text-anchor="end" fill="#4D4D4D">50%</text>
<line x1="88.5" y1="801.23" x2="92.5" y2="801.23" stroke="#333333" stroke-width="1.3"/>
<text x="85" y="806.62" font-size="14" text-anchor="end" fill="#4D4D4D">25%</text>
<line x1="88.5" y1="830.9" x2="92.5" y2="830.9" stroke="#333333" stroke-width="1.3"/>
<text x="85" y="836.3" font-size="14" text-anchor="end" fill="#4D4D4D">0</text>
<line x1="109.45" y1="830.9" x2="109.45" y2="834.9" stroke="#333333" stroke-width="1.3"/>
<text x="109.45" y="848.5" font-size="14" text-anchor="middle" fill="#4D4D4D">EF</text>
<line x1="139.35" y1="830.9" x2="139.35" y2="834.9" stroke="#333333" stroke-width="1.3"/>
<text x="139.35" y="848.5" font-size="14" text-anchor="middle" fill="#4D4D4D">EM</text>
<line x1="169.25" y1="830.9" x2="169.25" y2="834.9" stroke="#333333" stroke-width="1.3"/>
<text x="169.25" y="848.5" font-size="14" text-anchor="middle" fill="#4D4D4D">EN</text>
<line x1="199.15" y1="830.9" x2="199.15" y2="834.9" stroke="#333333" stroke-width="1.3"/>
<text x="199.15" y="848.5" font-size="14" text-anchor="middle" fill="#4D4D4D">PF</text>
<line x1="229.05" y1="830.9" x2="229.05" y2="834.9" stroke="#333333" stroke-width="1.3"/>
<text x="229.05" y="848.5" font-size="14" text-anchor="middle" fill="#4D4D4D">PM</text>
<line x1="258.95" y1="830.9" x2="258.95" y2="834.9" stroke="#333333" stroke-width="1.3"/>
<text x="258.95" y="848.5" font-size="14" text-anchor="middle" fill="#4D4D4D">PN</text>
<rect x="276.5" y="712.2" width="27.1" height="118.7" fill="#D9D9D9" stroke="#333333" stroke-width="1"/>
<text x="285.1" y="771.55" font-size="14" text-anchor="middle" fill="#1A1A1A" transform="rotate(90 285.1 771.55)">Virulent virus</text>
<text x="184.2" y="869" font-size="16.8" text-anchor="middle">Sample</text>
<text x="35.3" y="689.3" font-size="16.8" text-anchor="middle" transform="rotate(-90 35.3 689.3)">Relative abundance (%)</text>
<text x="321.2" y="560.8" font-size="22" font-weight="bold">h</text>
<rect x="380.6" y="563.6" width="185.1" height="118.7" fill="#fff"/>
<line x1="380.6" y1="665.6" x2="565.7" y2="665.6" stroke="#EDEDED" stroke-width="1.1"/>
<line x1="380.6" y1="631.4" x2="565.7" y2="631.4" stroke="#EDEDED" stroke-width="1.1"/>
<line x1="380.6" y1="597.2" x2="565.7" y2="597.2" stroke="#EDEDED" stroke-width="1.1"/>
<line x1="380.6" y1="580.1" x2="565.7" y2="580.1" stroke="#E7E7E7" stroke-width="1.5"/>
<line x1="380.6" y1="614.3" x2="565.7" y2="614.3" stroke="#E7E7E7" stroke-width="1.5"/>
<line x1="380.6" y1="648.5" x2="565.7" y2="648.5" stroke="#E7E7E7" stroke-width="1.5"/>
<line x1="380.6" y1="682.7" x2="565.7" y2="682.7" stroke="#E7E7E7" stroke-width="1.5"/>
<line x1="398.2" y1="563.6" x2="398.2" y2="682.3" stroke="#E7E7E7" stroke-width="1.5"/>
<line x1="428.1" y1="563.6" x2="428.1" y2="682.3" stroke="#E7E7E7" stroke-width="1.5"/>
<line x1="458" y1="563.6" x2="458" y2="682.3" stroke="#E7E7E7" stroke-width="1.5"/>
<line x1="487.9" y1="563.6" x2="487.9" y2="682.3" stroke="#E7E7E7" stroke-width="1.5"/>
<line x1="517.8" y1="563.6" x2="517.8" y2="682.3" stroke="#E7E7E7" stroke-width="1.5"/>
<line x1="547.7" y1="563.6" x2="547.7" y2="682.3" stroke="#E7E7E7" stroke-width="1.5"/>
<rect x="384.95" y="678.17" width="26.5" height="4.13" fill="#3F8DD4"/>
<rect x="384.95" y="673" width="26.5" height="5.17" fill="#9DCDBF"/>
<rect x="384.95" y="671.28" width="26.5" height="1.72" fill="#6CB89A"/>
<rect x="384.95" y="669.55" width="26.5" height="1.72" fill="#3A9E78"/>
<rect x="384.95" y="641.65" width="26.5" height="27.9" fill="#FDD29A"/>
<rect x="384.95" y="639.93" width="26.5" height="1.72" fill="#FDBB6C"/>
<rect x="384.95" y="637.17" width="26.5" height="2.76" fill="#FBA535"/>
<rect x="384.95" y="635.45" width="26.5" height="1.72" fill="#FCB7A9"/>
<rect x="384.95" y="629.94" width="26.5" height="5.51" fill="#FA9080"/>
<rect x="384.95" y="609.95" width="26.5" height="19.98" fill="#F96C5A"/>
<rect x="414.85" y="680.58" width="26.5" height="1.72" fill="#3F8DD4"/>
<rect x="414.85" y="672.65" width="26.5" height="7.92" fill="#9DCDBF"/>
<rect x="414.85" y="669.9" width="26.5" height="2.76" fill="#3A9E78"/>
<rect x="414.85" y="660.25" width="26.5" height="9.65" fill="#FDD29A"/>
<rect x="414.85" y="628.56" width="26.5" height="31.69" fill="#FBA535"/>
<rect x="414.85" y="615.12" width="26.5" height="13.44" fill="#FA9080"/>
<rect x="414.85" y="581.71" width="26.5" height="33.42" fill="#F96C5A"/>
<rect x="444.75" y="676.27" width="26.5" height="6.03" fill="#3F8DD4"/>
<rect x="444.75" y="666.11" width="26.5" height="10.16" fill="#9DCDBF"/>
<rect x="444.75" y="658.87" width="26.5" height="7.23" fill="#FDD29A"/>
<rect x="444.75" y="655.08" width="26.5" height="3.79" fill="#FDBB6C"/>
<rect x="444.75" y="653.71" width="26.5" height="1.38" fill="#FBA535"/>
<rect x="444.75" y="650.95" width="26.5" height="2.76" fill="#FA9080"/>
<rect x="444.75" y="587.22" width="26.5" height="63.73" fill="#F96C5A"/>
<rect x="474.65" y="678.85" width="26.5" height="3.45" fill="#3F8DD4"/>
<rect x="474.65" y="676.79" width="26.5" height="2.07" fill="#9DCDBF"/>
<rect x="474.65" y="673" width="26.5" height="3.79" fill="#6CB89A"/>
<rect x="474.65" y="663.35" width="26.5" height="9.65" fill="#3A9E78"/>
<rect x="474.65" y="656.12" width="26.5" height="7.23" fill="#FDD29A"/>
<rect x="474.65" y="643.72" width="26.5" height="12.4" fill="#FBA535"/>
<rect x="474.65" y="603.75" width="26.5" height="39.96" fill="#FA9080"/>
<rect x="474.65" y="581.36" width="26.5" height="22.39" fill="#F96C5A"/>
<rect x="504.55" y="672.31" width="26.5" height="9.99" fill="#3F8DD4"/>
<rect x="504.55" y="666.8" width="26.5" height="5.51" fill="#9DCDBF"/>
<rect x="504.55" y="665.42" width="26.5" height="1.38" fill="#6CB89A"/>
<rect x="504.55" y="648.19" width="26.5" height="17.23" fill="#3A9E78"/>
<rect x="504.55" y="641.3" width="26.5" height="6.89" fill="#FDD29A"/>
<rect x="504.55" y="621.67" width="26.5" height="19.64" fill="#FBA535"/>
<rect x="504.55" y="584.81" width="26.5" height="36.86" fill="#FA9080"/>
<rect x="504.55" y="563.6" width="26.5" height="21.21" fill="#F96C5A"/>
<rect x="534.45" y="680.23" width="26.5" height="2.07" fill="#3F8DD4"/>
<rect x="534.45" y="678.85" width="26.5" height="1.38" fill="#9DCDBF"/>
<rect x="534.45" y="677.48" width="26.5" height="1.38" fill="#6CB89A"/>
<rect x="534.45" y="673" width="26.5" height="4.48" fill="#FDD29A"/>
<rect x="534.45" y="667.83" width="26.5" height="5.17" fill="#FBA535"/>
<rect x="534.45" y="630.97" width="26.5" height="36.86" fill="#FA9080"/>
<rect x="534.45" y="595.83" width="26.5" height="35.14" fill="#F96C5A"/>
<rect x="380.6" y="563.6" width="185.1" height="118.7" fill="none" stroke="#333333" stroke-width="1"/>
<line x1="376.6" y1="580.1" x2="380.6" y2="580.1" stroke="#333333" stroke-width="1.3"/>
<text x="374.6" y="585.5" font-size="14" text-anchor="end" fill="#4D4D4D">30%</text>
<line x1="376.6" y1="614.3" x2="380.6" y2="614.3" stroke="#333333" stroke-width="1.3"/>
<text x="374.6" y="619.7" font-size="14" text-anchor="end" fill="#4D4D4D">20%</text>
<line x1="376.6" y1="648.5" x2="380.6" y2="648.5" stroke="#333333" stroke-width="1.3"/>
<text x="374.6" y="653.9" font-size="14" text-anchor="end" fill="#4D4D4D">10%</text>
<line x1="376.6" y1="682.7" x2="380.6" y2="682.7" stroke="#333333" stroke-width="1.3"/>
<text x="374.6" y="688.1" font-size="14" text-anchor="end" fill="#4D4D4D">0</text>
<line x1="398.2" y1="682.3" x2="398.2" y2="686.3" stroke="#333333" stroke-width="1.3"/>
<text x="398.2" y="700.6" font-size="14" text-anchor="middle" fill="#4D4D4D">EF</text>
<line x1="428.1" y1="682.3" x2="428.1" y2="686.3" stroke="#333333" stroke-width="1.3"/>
<text x="428.1" y="700.6" font-size="14" text-anchor="middle" fill="#4D4D4D">EM</text>
<line x1="458" y1="682.3" x2="458" y2="686.3" stroke="#333333" stroke-width="1.3"/>
<text x="458" y="700.6" font-size="14" text-anchor="middle" fill="#4D4D4D">EN</text>
<line x1="487.9" y1="682.3" x2="487.9" y2="686.3" stroke="#333333" stroke-width="1.3"/>
<text x="487.9" y="700.6" font-size="14" text-anchor="middle" fill="#4D4D4D">PF</text>
<line x1="517.8" y1="682.3" x2="517.8" y2="686.3" stroke="#333333" stroke-width="1.3"/>
<text x="517.8" y="700.6" font-size="14" text-anchor="middle" fill="#4D4D4D">PM</text>
<line x1="547.7" y1="682.3" x2="547.7" y2="686.3" stroke="#333333" stroke-width="1.3"/>
<text x="547.7" y="700.6" font-size="14" text-anchor="middle" fill="#4D4D4D">PN</text>
<rect x="565.7" y="563.6" width="26.4" height="118.7" fill="#D9D9D9" stroke="#333333" stroke-width="1"/>
<text x="574.3" y="622.95" font-size="14" text-anchor="middle" fill="#1A1A1A" transform="rotate(90 574.3 622.95)">Temperate virus</text>
<rect x="380.6" y="712.4" width="185.1" height="118.5" fill="#fff"/>
<line x1="380.6" y1="818.07" x2="565.7" y2="818.07" stroke="#EDEDED" stroke-width="1.1"/>
<line x1="380.6" y1="792.42" x2="565.7" y2="792.42" stroke="#EDEDED" stroke-width="1.1"/>
<line x1="380.6" y1="766.77" x2="565.7" y2="766.77" stroke="#EDEDED" stroke-width="1.1"/>
<line x1="380.6" y1="741.12" x2="565.7" y2="741.12" stroke="#EDEDED" stroke-width="1.1"/>
<line x1="380.6" y1="715.48" x2="565.7" y2="715.48" stroke="#EDEDED" stroke-width="1.1"/>
<line x1="380.6" y1="728.3" x2="565.7" y2="728.3" stroke="#E7E7E7" stroke-width="1.5"/>
<line x1="380.6" y1="753.95" x2="565.7" y2="753.95" stroke="#E7E7E7" stroke-width="1.5"/>
<line x1="380.6" y1="779.6" x2="565.7" y2="779.6" stroke="#E7E7E7" stroke-width="1.5"/>
<line x1="380.6" y1="805.25" x2="565.7" y2="805.25" stroke="#E7E7E7" stroke-width="1.5"/>
<line x1="380.6" y1="830.9" x2="565.7" y2="830.9" stroke="#E7E7E7" stroke-width="1.5"/>
<line x1="398.2" y1="712.4" x2="398.2" y2="830.9" stroke="#E7E7E7" stroke-width="1.5"/>
<line x1="428.1" y1="712.4" x2="428.1" y2="830.9" stroke="#E7E7E7" stroke-width="1.5"/>
<line x1="458" y1="712.4" x2="458" y2="830.9" stroke="#E7E7E7" stroke-width="1.5"/>
<line x1="487.9" y1="712.4" x2="487.9" y2="830.9" stroke="#E7E7E7" stroke-width="1.5"/>
<line x1="517.8" y1="712.4" x2="517.8" y2="830.9" stroke="#E7E7E7" stroke-width="1.5"/>
<line x1="547.7" y1="712.4" x2="547.7" y2="830.9" stroke="#E7E7E7" stroke-width="1.5"/>
<rect x="384.95" y="828.33" width="26.5" height="2.57" fill="#3F8DD4"/>
<rect x="384.95" y="827.82" width="26.5" height="0.51" fill="#9DCDBF"/>
<rect x="384.95" y="793.96" width="26.5" height="33.86" fill="#6CB89A"/>
<rect x="384.95" y="792.42" width="26.5" height="1.54" fill="#3A9E78"/>
<rect x="384.95" y="790.37" width="26.5" height="2.05" fill="#FDD29A"/>
<rect x="384.95" y="762.41" width="26.5" height="27.96" fill="#FDBB6C"/>
<rect x="384.95" y="758.82" width="26.5" height="3.59" fill="#FBA535"/>
<rect x="384.95" y="747.54" width="26.5" height="11.29" fill="#FCB7A9"/>
<rect x="384.95" y="734.2" width="26.5" height="13.34" fill="#F96C5A"/>
<rect x="414.85" y="823.97" width="26.5" height="6.93" fill="#3F8DD4"/>
<rect x="414.85" y="822.18" width="26.5" height="1.8" fill="#9DCDBF"/>
<rect x="414.85" y="819.87" width="26.5" height="2.31" fill="#6CB89A"/>
<rect x="414.85" y="818.33" width="26.5" height="1.54" fill="#3A9E78"/>
<rect x="414.85" y="815" width="26.5" height="3.33" fill="#FDD29A"/>
<rect x="414.85" y="813.46" width="26.5" height="1.54" fill="#FDBB6C"/>
<rect x="414.85" y="807.3" width="26.5" height="6.16" fill="#FBA535"/>
<rect x="414.85" y="727.27" width="26.5" height="80.03" fill="#FCB7A9"/>
<rect x="414.85" y="712.4" width="26.5" height="14.87" fill="#F96C5A"/>
<rect x="444.75" y="826.8" width="26.5" height="4.1" fill="#3F8DD4"/>
<rect x="444.75" y="800.12" width="26.5" height="26.68" fill="#9DCDBF"/>
<rect x="444.75" y="796.27" width="26.5" height="3.85" fill="#6CB89A"/>
<rect x="444.75" y="789.6" width="26.5" height="6.67" fill="#FDD29A"/>
<rect x="444.75" y="776.52" width="26.5" height="13.08" fill="#FDBB6C"/>
<rect x="444.75" y="773.44" width="26.5" height="3.08" fill="#FBA535"/>
<rect x="444.75" y="737.79" width="26.5" height="35.65" fill="#F96C5A"/>
<rect x="474.65" y="820.38" width="26.5" height="10.52" fill="#3F8DD4"/>
<rect x="474.65" y="819.1" width="26.5" height="1.28" fill="#9DCDBF"/>
<rect x="474.65" y="808.84" width="26.5" height="10.26" fill="#6CB89A"/>
<rect x="474.65" y="795.76" width="26.5" height="13.08" fill="#3A9E78"/>
<rect x="474.65" y="790.37" width="26.5" height="5.39" fill="#FDD29A"/>
<rect x="474.65" y="778.32" width="26.5" height="12.06" fill="#FDBB6C"/>
<rect x="474.65" y="770.37" width="26.5" height="7.95" fill="#FBA535"/>
<rect x="474.65" y="756.26" width="26.5" height="14.11" fill="#FA9080"/>
<rect x="474.65" y="744.2" width="26.5" height="12.06" fill="#F96C5A"/>
<rect x="504.55" y="823.46" width="26.5" height="7.44" fill="#3F8DD4"/>
<rect x="504.55" y="821.67" width="26.5" height="1.8" fill="#9DCDBF"/>
<rect x="504.55" y="814.23" width="26.5" height="7.44" fill="#6CB89A"/>
<rect x="504.55" y="789.6" width="26.5" height="24.62" fill="#3A9E78"/>
<rect x="504.55" y="784.22" width="26.5" height="5.39" fill="#FDD29A"/>
<rect x="504.55" y="766.77" width="26.5" height="17.44" fill="#FDBB6C"/>
<rect x="504.55" y="761.9" width="26.5" height="4.87" fill="#FBA535"/>
<rect x="504.55" y="733.94" width="26.5" height="27.96" fill="#FCB7A9"/>
<rect x="504.55" y="727.27" width="26.5" height="6.67" fill="#FA9080"/>
<rect x="504.55" y="712.4" width="26.5" height="14.87" fill="#F96C5A"/>
<rect x="534.45" y="825.26" width="26.5" height="5.64" fill="#9DCDBF"/>
<rect x="534.45" y="821.67" width="26.5" height="3.59" fill="#6CB89A"/>
<rect x="534.45" y="820.38" width="26.5" height="1.28" fill="#FDD29A"/>
<rect x="534.45" y="808.07" width="26.5" height="12.31" fill="#FDBB6C"/>
<rect x="534.45" y="805.76" width="26.5" height="2.31" fill="#FBA535"/>
<rect x="534.45" y="797.81" width="26.5" height="7.95" fill="#FA9080"/>
<rect x="534.45" y="750.62" width="26.5" height="47.2" fill="#F96C5A"/>
<rect x="380.6" y="712.4" width="185.1" height="118.5" fill="none" stroke="#333333" stroke-width="1"/>
<line x1="376.6" y1="728.3" x2="380.6" y2="728.3" stroke="#333333" stroke-width="1.3"/>
<text x="374.6" y="733.7" font-size="14" text-anchor="end" fill="#4D4D4D">40%</text>
<line x1="376.6" y1="753.95" x2="380.6" y2="753.95" stroke="#333333" stroke-width="1.3"/>
<text x="374.6" y="759.35" font-size="14" text-anchor="end" fill="#4D4D4D">30%</text>
<line x1="376.6" y1="779.6" x2="380.6" y2="779.6" stroke="#333333" stroke-width="1.3"/>
<text x="374.6" y="785" font-size="14" text-anchor="end" fill="#4D4D4D">20%</text>
<line x1="376.6" y1="805.25" x2="380.6" y2="805.25" stroke="#333333" stroke-width="1.3"/>
<text x="374.6" y="810.65" font-size="14" text-anchor="end" fill="#4D4D4D">10%</text>
<line x1="376.6" y1="830.9" x2="380.6" y2="830.9" stroke="#333333" stroke-width="1.3"/>
<text x="374.6" y="836.3" font-size="14" text-anchor="end" fill="#4D4D4D">0</text>
<line x1="398.2" y1="830.9" x2="398.2" y2="834.9" stroke="#333333" stroke-width="1.3"/>
<text x="398.2" y="849.2" font-size="14" text-anchor="middle" fill="#4D4D4D">EF</text>
<line x1="428.1" y1="830.9" x2="428.1" y2="834.9" stroke="#333333" stroke-width="1.3"/>
<text x="428.1" y="849.2" font-size="14" text-anchor="middle" fill="#4D4D4D">EM</text>
<line x1="458" y1="830.9" x2="458" y2="834.9" stroke="#333333" stroke-width="1.3"/>
<text x="458" y="849.2" font-size="14" text-anchor="middle" fill="#4D4D4D">EN</text>
<line x1="487.9" y1="830.9" x2="487.9" y2="834.9" stroke="#333333" stroke-width="1.3"/>
<text x="487.9" y="849.2" font-size="14" text-anchor="middle" fill="#4D4D4D">PF</text>
<line x1="517.8" y1="830.9" x2="517.8" y2="834.9" stroke="#333333" stroke-width="1.3"/>
<text x="517.8" y="849.2" font-size="14" text-anchor="middle" fill="#4D4D4D">PM</text>
<line x1="547.7" y1="830.9" x2="547.7" y2="834.9" stroke="#333333" stroke-width="1.3"/>
<text x="547.7" y="849.2" font-size="14" text-anchor="middle" fill="#4D4D4D">PN</text>
<rect x="565.7" y="712.4" width="26.4" height="118.5" fill="#D9D9D9" stroke="#333333" stroke-width="1"/>
<text x="574.3" y="771.65" font-size="14" text-anchor="middle" fill="#1A1A1A" transform="rotate(90 574.3 771.65)">Virulent virus</text>
<text x="472.8" y="868.6" font-size="16.8" text-anchor="middle">Sample</text>
<text x="340.3" y="689.3" font-size="16.8" text-anchor="middle" transform="rotate(-90 340.3 689.3)">Relative abundance (%)</text>
<text x="609.5" y="560.7" font-size="22" font-weight="bold">i</text>
<rect x="672.6" y="563.5" width="230.2" height="267.5" fill="#fff"/>
<line x1="672.6" y1="783.45" x2="902.8" y2="783.45" stroke="#EDEDED" stroke-width="1.1"/>
<line x1="672.6" y1="712.15" x2="902.8" y2="712.15" stroke="#EDEDED" stroke-width="1.1"/>
<line x1="672.6" y1="640.85" x2="902.8" y2="640.85" stroke="#EDEDED" stroke-width="1.1"/>
<line x1="672.6" y1="569.55" x2="902.8" y2="569.55" stroke="#EDEDED" stroke-width="1.1"/>
<line x1="680.33" y1="563.5" x2="680.33" y2="831" stroke="#EDEDED" stroke-width="1.1"/>
<line x1="741.87" y1="563.5" x2="741.87" y2="831" stroke="#EDEDED" stroke-width="1.1"/>
<line x1="803.41" y1="563.5" x2="803.41" y2="831" stroke="#EDEDED" stroke-width="1.1"/>
<line x1="864.95" y1="563.5" x2="864.95" y2="831" stroke="#EDEDED" stroke-width="1.1"/>
<line x1="672.6" y1="819.1" x2="902.8" y2="819.1" stroke="#E7E7E7" stroke-width="1.5"/>
<line x1="672.6" y1="747.8" x2="902.8" y2="747.8" stroke="#E7E7E7" stroke-width="1.5"/>
<line x1="672.6" y1="676.5" x2="902.8" y2="676.5" stroke="#E7E7E7" stroke-width="1.5"/>
<line x1="672.6" y1="605.2" x2="902.8" y2="605.2" stroke="#E7E7E7" stroke-width="1.5"/>
<line x1="711.1" y1="563.5" x2="711.1" y2="831" stroke="#E7E7E7" stroke-width="1.5"/>
<line x1="772.64" y1="563.5" x2="772.64" y2="831" stroke="#E7E7E7" stroke-width="1.5"/>
<line x1="834.18" y1="563.5" x2="834.18" y2="831" stroke="#E7E7E7" stroke-width="1.5"/>
<line x1="895.72" y1="563.5" x2="895.72" y2="831" stroke="#E7E7E7" stroke-width="1.5"/>
<circle cx="839.4" cy="575.6" r="4.6" fill="#F2AABE" stroke="#fff" stroke-width="0.7"/>
<circle cx="882.1" cy="595.4" r="4.6" fill="#F2AABE" stroke="#fff" stroke-width="0.7"/>
<circle cx="892.7" cy="626.5" r="4.6" fill="#F2AABE" stroke="#fff" stroke-width="0.7"/>
<circle cx="796.4" cy="667.4" r="4.6" fill="#F2AABE" stroke="#fff" stroke-width="0.7"/>
<circle cx="769.5" cy="708.3" r="4.6" fill="#F2AABE" stroke="#fff" stroke-width="0.7"/>
<circle cx="744.6" cy="725.2" r="4.6" fill="#F2AABE" stroke="#fff" stroke-width="0.7"/>
<circle cx="754.7" cy="728.1" r="4.6" fill="#F2AABE" stroke="#fff" stroke-width="0.7"/>
<circle cx="822.2" cy="753.9" r="4.6" fill="#F2AABE" stroke="#fff" stroke-width="0.7"/>
<circle cx="840" cy="764.3" r="4.6" fill="#F2AABE" stroke="#fff" stroke-width="0.7"/>
<circle cx="844.4" cy="773.9" r="4.6" fill="#F2AABE" stroke="#fff" stroke-width="0.7"/>
<circle cx="682.2" cy="816.1" r="4.6" fill="#F2AABE" stroke="#fff" stroke-width="0.7"/>
<circle cx="697.2" cy="807.2" r="4.6" fill="#F2AABE" stroke="#fff" stroke-width="0.7"/>
<circle cx="701.7" cy="809.4" r="4.6" fill="#F2AABE" stroke="#fff" stroke-width="0.7"/>
<circle cx="724.4" cy="804.4" r="4.6" fill="#F2AABE" stroke="#fff" stroke-width="0.7"/>
<circle cx="729.4" cy="806.1" r="4.6" fill="#F2AABE" stroke="#fff" stroke-width="0.7"/>
<circle cx="739.4" cy="809.4" r="4.6" fill="#F2AABE" stroke="#fff" stroke-width="0.7"/>
<circle cx="747.8" cy="803.3" r="4.6" fill="#F2AABE" stroke="#fff" stroke-width="0.7"/>
<circle cx="757.8" cy="798.3" r="4.6" fill="#F2AABE" stroke="#fff" stroke-width="0.7"/>
<circle cx="788.9" cy="787.2" r="4.6" fill="#F2AABE" stroke="#fff" stroke-width="0.7"/>
<circle cx="789.4" cy="787.8" r="4.6" fill="#F2AABE" stroke="#fff" stroke-width="0.7"/>
<circle cx="810.6" cy="784.4" r="4.6" fill="#F2AABE" stroke="#fff" stroke-width="0.7"/>
<circle cx="836.7" cy="785" r="4.6" fill="#F2AABE" stroke="#fff" stroke-width="0.7"/>
<circle cx="817.8" cy="795.6" r="4.6" fill="#F2AABE" stroke="#fff" stroke-width="0.7"/>
<circle cx="844.4" cy="798.9" r="4.6" fill="#F2AABE" stroke="#fff" stroke-width="0.7"/>
<circle cx="857.2" cy="796.7" r="4.6" fill="#F2AABE" stroke="#fff" stroke-width="0.7"/>
<circle cx="857.2" cy="803.3" r="4.6" fill="#F2AABE" stroke="#fff" stroke-width="0.7"/>
<circle cx="819.4" cy="804.4" r="4.6" fill="#F2AABE" stroke="#fff" stroke-width="0.7"/>
<circle cx="845" cy="809.4" r="4.6" fill="#F2AABE" stroke="#fff" stroke-width="0.7"/>
<circle cx="847.2" cy="811.1" r="4.6" fill="#F2AABE" stroke="#fff" stroke-width="0.7"/>
<circle cx="807.2" cy="806.7" r="4.6" fill="#F2AABE" stroke="#fff" stroke-width="0.7"/>
<circle cx="712" cy="815" r="4.6" fill="#F2AABE" stroke="#fff" stroke-width="0.7"/>
<circle cx="760" cy="812" r="4.6" fill="#F2AABE" stroke="#fff" stroke-width="0.7"/>
<circle cx="800" cy="815" r="4.6" fill="#F2AABE" stroke="#fff" stroke-width="0.7"/>
<circle cx="687.18" cy="819.32" r="4.6" fill="#F37855" stroke="#fff" stroke-width="0.7"/>
<circle cx="694.43" cy="819.15" r="4.6" fill="#F37855" stroke="#fff" stroke-width="0.7"/>
<circle cx="701.3" cy="818.36" r="4.6" fill="#F37855" stroke="#fff" stroke-width="0.7"/>
<circle cx="710.29" cy="818.86" r="4.6" fill="#F37855" stroke="#fff" stroke-width="0.7"/>
<circle cx="716.25" cy="818.45" r="4.6" fill="#F37855" stroke="#fff" stroke-width="0.7"/>
<circle cx="723.99" cy="818.65" r="4.6" fill="#F37855" stroke="#fff" stroke-width="0.7"/>
<circle cx="731.79" cy="817.87" r="4.6" fill="#F37855" stroke="#fff" stroke-width="0.7"/>
<circle cx="738.13" cy="818.71" r="4.6" fill="#F37855" stroke="#fff" stroke-width="0.7"/>
<circle cx="744.84" cy="818.17" r="4.6" fill="#F37855" stroke="#fff" stroke-width="0.7"/>
<circle cx="753.23" cy="818.11" r="4.6" fill="#F37855" stroke="#fff" stroke-width="0.7"/>
<circle cx="760.35" cy="818.29" r="4.6" fill="#F37855" stroke="#fff" stroke-width="0.7"/>
<circle cx="767.74" cy="819.29" r="4.6" fill="#F37855" stroke="#fff" stroke-width="0.7"/>
<circle cx="774.68" cy="818.12" r="4.6" fill="#F37855" stroke="#fff" stroke-width="0.7"/>
<circle cx="782.54" cy="818.15" r="4.6" fill="#F37855" stroke="#fff" stroke-width="0.7"/>
<circle cx="788.9" cy="818.28" r="4.6" fill="#F37855" stroke="#fff" stroke-width="0.7"/>
<circle cx="795.31" cy="818.46" r="4.6" fill="#F37855" stroke="#fff" stroke-width="0.7"/>
<circle cx="802.03" cy="817.97" r="4.6" fill="#F37855" stroke="#fff" stroke-width="0.7"/>
<circle cx="810.55" cy="818.21" r="4.6" fill="#F37855" stroke="#fff" stroke-width="0.7"/>
<circle cx="818.12" cy="818.28" r="4.6" fill="#F37855" stroke="#fff" stroke-width="0.7"/>
<circle cx="823.2" cy="818.46" r="4.6" fill="#F37855" stroke="#fff" stroke-width="0.7"/>
<circle cx="830.86" cy="818.57" r="4.6" fill="#F37855" stroke="#fff" stroke-width="0.7"/>
<circle cx="837.28" cy="818.16" r="4.6" fill="#F37855" stroke="#fff" stroke-width="0.7"/>
<circle cx="845.15" cy="818.08" r="4.6" fill="#F37855" stroke="#fff" stroke-width="0.7"/>
<circle cx="852.5" cy="819.08" r="4.6" fill="#F37855" stroke="#fff" stroke-width="0.7"/>
<circle cx="858.93" cy="818.47" r="4.6" fill="#F37855" stroke="#fff" stroke-width="0.7"/>
<circle cx="866.96" cy="818.82" r="4.6" fill="#F37855" stroke="#fff" stroke-width="0.7"/>
<circle cx="700.43" cy="811.1" r="4.6" fill="#F37855" stroke="#fff" stroke-width="0.7"/>
<circle cx="708.37" cy="813.35" r="4.6" fill="#F37855" stroke="#fff" stroke-width="0.7"/>
<circle cx="717.22" cy="811.13" r="4.6" fill="#F37855" stroke="#fff" stroke-width="0.7"/>
<circle cx="727.19" cy="812.12" r="4.6" fill="#F37855" stroke="#fff" stroke-width="0.7"/>
<circle cx="737.81" cy="811.84" r="4.6" fill="#F37855" stroke="#fff" stroke-width="0.7"/>
<circle cx="746.02" cy="813.46" r="4.6" fill="#F37855" stroke="#fff" stroke-width="0.7"/>
<circle cx="756.43" cy="811.26" r="4.6" fill="#F37855" stroke="#fff" stroke-width="0.7"/>
<circle cx="765.44" cy="811.74" r="4.6" fill="#F37855" stroke="#fff" stroke-width="0.7"/>
<circle cx="772.03" cy="813.12" r="4.6" fill="#F37855" stroke="#fff" stroke-width="0.7"/>
<circle cx="780.49" cy="812.63" r="4.6" fill="#F37855" stroke="#fff" stroke-width="0.7"/>
<circle cx="788.96" cy="811.93" r="4.6" fill="#F37855" stroke="#fff" stroke-width="0.7"/>
<circle cx="798.55" cy="811.78" r="4.6" fill="#F37855" stroke="#fff" stroke-width="0.7"/>
<circle cx="807.13" cy="811.78" r="4.6" fill="#F37855" stroke="#fff" stroke-width="0.7"/>
<circle cx="816.08" cy="813.1" r="4.6" fill="#F37855" stroke="#fff" stroke-width="0.7"/>
<circle cx="823.71" cy="812.75" r="4.6" fill="#F37855" stroke="#fff" stroke-width="0.7"/>
<circle cx="832.39" cy="812.76" r="4.6" fill="#F37855" stroke="#fff" stroke-width="0.7"/>
<circle cx="843.55" cy="812.96" r="4.6" fill="#F37855" stroke="#fff" stroke-width="0.7"/>
<circle cx="725.68" cy="805.59" r="4.6" fill="#F37855" stroke="#fff" stroke-width="0.7"/>
<circle cx="739.29" cy="806.16" r="4.6" fill="#F37855" stroke="#fff" stroke-width="0.7"/>
<circle cx="749.87" cy="806.66" r="4.6" fill="#F37855" stroke="#fff" stroke-width="0.7"/>
<circle cx="760.09" cy="805.57" r="4.6" fill="#F37855" stroke="#fff" stroke-width="0.7"/>
<circle cx="772.36" cy="805.73" r="4.6" fill="#F37855" stroke="#fff" stroke-width="0.7"/>
<circle cx="787.35" cy="805.28" r="4.6" fill="#F37855" stroke="#fff" stroke-width="0.7"/>
<circle cx="796.74" cy="806.35" r="4.6" fill="#F37855" stroke="#fff" stroke-width="0.7"/>
<circle cx="807.06" cy="807.48" r="4.6" fill="#F37855" stroke="#fff" stroke-width="0.7"/>
<circle cx="819.36" cy="804.69" r="4.6" fill="#F37855" stroke="#fff" stroke-width="0.7"/>
<circle cx="829.69" cy="807.39" r="4.6" fill="#F37855" stroke="#fff" stroke-width="0.7"/>
<circle cx="843.6" cy="575.6" r="4.6" fill="#F37855" stroke="#fff" stroke-width="0.7"/>
<circle cx="832.6" cy="595.4" r="4.6" fill="#F37855" stroke="#fff" stroke-width="0.7"/>
<circle cx="880" cy="626.5" r="4.6" fill="#F37855" stroke="#fff" stroke-width="0.7"/>
<circle cx="770.4" cy="667.4" r="4.6" fill="#F37855" stroke="#fff" stroke-width="0.7"/>
<circle cx="761.5" cy="708.3" r="4.6" fill="#F37855" stroke="#fff" stroke-width="0.7"/>
<circle cx="770.4" cy="725.2" r="4.6" fill="#F37855" stroke="#fff" stroke-width="0.7"/>
<circle cx="754.7" cy="737" r="4.6" fill="#F37855" stroke="#fff" stroke-width="0.7"/>
<circle cx="787.3" cy="737.9" r="4.6" fill="#F37855" stroke="#fff" stroke-width="0.7"/>
<circle cx="841.8" cy="764.3" r="4.6" fill="#F37855" stroke="#fff" stroke-width="0.7"/>
<circle cx="811.4" cy="773.9" r="4.6" fill="#F37855" stroke="#fff" stroke-width="0.7"/>
<circle cx="735.6" cy="785" r="4.6" fill="#F37855" stroke="#fff" stroke-width="0.7"/>
<circle cx="708.3" cy="804.4" r="4.6" fill="#F37855" stroke="#fff" stroke-width="0.7"/>
<circle cx="691.7" cy="818.3" r="4.6" fill="#F37855" stroke="#fff" stroke-width="0.7"/>
<circle cx="700" cy="815" r="4.6" fill="#F37855" stroke="#fff" stroke-width="0.7"/>
<circle cx="707.8" cy="818.3" r="4.6" fill="#F37855" stroke="#fff" stroke-width="0.7"/>
<circle cx="717.8" cy="818.3" r="4.6" fill="#F37855" stroke="#fff" stroke-width="0.7"/>
<circle cx="722.2" cy="817.8" r="4.6" fill="#F37855" stroke="#fff" stroke-width="0.7"/>
<circle cx="733.3" cy="818.9" r="4.6" fill="#F37855" stroke="#fff" stroke-width="0.7"/>
<circle cx="744.4" cy="818.9" r="4.6" fill="#F37855" stroke="#fff" stroke-width="0.7"/>
<circle cx="747.8" cy="810" r="4.6" fill="#F37855" stroke="#fff" stroke-width="0.7"/>
<circle cx="752.8" cy="806.7" r="4.6" fill="#F37855" stroke="#fff" stroke-width="0.7"/>
<circle cx="758.9" cy="805" r="4.6" fill="#F37855" stroke="#fff" stroke-width="0.7"/>
<circle cx="756.1" cy="818.3" r="4.6" fill="#F37855" stroke="#fff" stroke-width="0.7"/>
<circle cx="767.8" cy="818.3" r="4.6" fill="#F37855" stroke="#fff" stroke-width="0.7"/>
<circle cx="768.3" cy="798.9" r="4.6" fill="#F37855" stroke="#fff" stroke-width="0.7"/>
<circle cx="775" cy="796.1" r="4.6" fill="#F37855" stroke="#fff" stroke-width="0.7"/>
<circle cx="776.7" cy="806.7" r="4.6" fill="#F37855" stroke="#fff" stroke-width="0.7"/>
<circle cx="782.8" cy="794.4" r="4.6" fill="#F37855" stroke="#fff" stroke-width="0.7"/>
<circle cx="780" cy="817.8" r="4.6" fill="#F37855" stroke="#fff" stroke-width="0.7"/>
<circle cx="786.7" cy="809.4" r="4.6" fill="#F37855" stroke="#fff" stroke-width="0.7"/>
<circle cx="766.7" cy="806.7" r="4.6" fill="#F37855" stroke="#fff" stroke-width="0.7"/>
<circle cx="728.3" cy="813.3" r="4.6" fill="#F37855" stroke="#fff" stroke-width="0.7"/>
<circle cx="795.6" cy="784.4" r="4.6" fill="#F37855" stroke="#fff" stroke-width="0.7"/>
<circle cx="800.6" cy="782.2" r="4.6" fill="#F37855" stroke="#fff" stroke-width="0.7"/>
<circle cx="817.2" cy="784.4" r="4.6" fill="#F37855" stroke="#fff" stroke-width="0.7"/>
<circle cx="825" cy="783.3" r="4.6" fill="#F37855" stroke="#fff" stroke-width="0.7"/>
<circle cx="827.2" cy="797.8" r="4.6" fill="#F37855" stroke="#fff" stroke-width="0.7"/>
<circle cx="813.3" cy="802.2" r="4.6" fill="#F37855" stroke="#fff" stroke-width="0.7"/>
<circle cx="829.4" cy="806.7" r="4.6" fill="#F37855" stroke="#fff" stroke-width="0.7"/>
<circle cx="820.6" cy="812.8" r="4.6" fill="#F37855" stroke="#fff" stroke-width="0.7"/>
<circle cx="837.8" cy="812.2" r="4.6" fill="#F37855" stroke="#fff" stroke-width="0.7"/>
<circle cx="790.6" cy="798.3" r="4.6" fill="#F37855" stroke="#fff" stroke-width="0.7"/>
<circle cx="787.2" cy="802.2" r="4.6" fill="#F37855" stroke="#fff" stroke-width="0.7"/>
<circle cx="797.8" cy="804.4" r="4.6" fill="#F37855" stroke="#fff" stroke-width="0.7"/>
<circle cx="787.2" cy="810" r="4.6" fill="#F37855" stroke="#fff" stroke-width="0.7"/>
<circle cx="793.9" cy="811.1" r="4.6" fill="#F37855" stroke="#fff" stroke-width="0.7"/>
<circle cx="798.3" cy="811.1" r="4.6" fill="#F37855" stroke="#fff" stroke-width="0.7"/>
<circle cx="788.3" cy="817.8" r="4.6" fill="#F37855" stroke="#fff" stroke-width="0.7"/>
<circle cx="796.1" cy="818.9" r="4.6" fill="#F37855" stroke="#fff" stroke-width="0.7"/>
<circle cx="803.9" cy="817.8" r="4.6" fill="#F37855" stroke="#fff" stroke-width="0.7"/>
<circle cx="816.1" cy="818.9" r="4.6" fill="#F37855" stroke="#fff" stroke-width="0.7"/>
<circle cx="823.9" cy="818.9" r="4.6" fill="#F37855" stroke="#fff" stroke-width="0.7"/>
<circle cx="833.9" cy="817.8" r="4.6" fill="#F37855" stroke="#fff" stroke-width="0.7"/>
<circle cx="843.9" cy="818.3" r="4.6" fill="#F37855" stroke="#fff" stroke-width="0.7"/>
<circle cx="853.9" cy="818.9" r="4.6" fill="#F37855" stroke="#fff" stroke-width="0.7"/>
<circle cx="863.9" cy="817.8" r="4.6" fill="#F37855" stroke="#fff" stroke-width="0.7"/>
<circle cx="873.9" cy="818.9" r="4.6" fill="#F37855" stroke="#fff" stroke-width="0.7"/>
<circle cx="785" cy="793.3" r="4.6" fill="#F37855" stroke="#fff" stroke-width="0.7"/>
<circle cx="740" cy="813.3" r="4.6" fill="#F37855" stroke="#fff" stroke-width="0.7"/>
<circle cx="757.8" cy="811.9" r="4.6" fill="#F37855" stroke="#fff" stroke-width="0.7"/>
<circle cx="767.4" cy="811.9" r="4.6" fill="#F37855" stroke="#fff" stroke-width="0.7"/>
<circle cx="773.3" cy="811.1" r="4.6" fill="#F37855" stroke="#fff" stroke-width="0.7"/>
<circle cx="695.4" cy="812.2" r="4.6" fill="#F37855" stroke="#fff" stroke-width="0.7"/>
<circle cx="793.3" cy="810.4" r="4.6" fill="#F37855" stroke="#fff" stroke-width="0.7"/>
<circle cx="753" cy="806" r="4.6" fill="#F37855" stroke="#fff" stroke-width="0.7"/>
<circle cx="760" cy="805.6" r="4.6" fill="#F37855" stroke="#fff" stroke-width="0.7"/>
<rect x="672.6" y="563.5" width="230.2" height="267.5" fill="none" stroke="#333333" stroke-width="1"/>
<line x1="668.6" y1="819.1" x2="672.6" y2="819.1" stroke="#333333" stroke-width="1.3"/>
<text x="666" y="824.5" font-size="14" text-anchor="end" fill="#4D4D4D">0</text>
<line x1="668.6" y1="747.8" x2="672.6" y2="747.8" stroke="#333333" stroke-width="1.3"/>
<text x="666" y="753.2" font-size="14" text-anchor="end" fill="#4D4D4D">2%</text>
<line x1="668.6" y1="676.5" x2="672.6" y2="676.5" stroke="#333333" stroke-width="1.3"/>
<text x="666" y="681.9" font-size="14" text-anchor="end" fill="#4D4D4D">4%</text>
<line x1="668.6" y1="605.2" x2="672.6" y2="605.2" stroke="#333333" stroke-width="1.3"/>
<text x="666" y="610.6" font-size="14" text-anchor="end" fill="#4D4D4D">6%</text>
<line x1="711.1" y1="831" x2="711.1" y2="835" stroke="#333333" stroke-width="1.3"/>
<text x="711.1" y="849" font-size="14" text-anchor="middle" fill="#4D4D4D">4</text>
<line x1="772.64" y1="831" x2="772.64" y2="835" stroke="#333333" stroke-width="1.3"/>
<text x="772.64" y="849" font-size="14" text-anchor="middle" fill="#4D4D4D">6</text>
<line x1="834.18" y1="831" x2="834.18" y2="835" stroke="#333333" stroke-width="1.3"/>
<text x="834.18" y="849" font-size="14" text-anchor="middle" fill="#4D4D4D">8</text>
<line x1="895.72" y1="831" x2="895.72" y2="835" stroke="#333333" stroke-width="1.3"/>
<text x="895.72" y="849" font-size="14" text-anchor="middle" fill="#4D4D4D">10</text>
<text x="790.6" y="869.3" font-size="16.8" text-anchor="middle">ln(Viral relative abundance)</text>
<text x="629.8" y="702.2" font-size="16.9" text-anchor="middle" transform="rotate(-90 629.8 702.2)">Host relative abundance (%)</text>
<text x="684.4" y="591.9" font-size="15" fill="#F2AABE"><tspan font-style="italic">R</tspan> = 0.38, <tspan font-style="italic">p</tspan> = 2e−06</text>
<text x="684.4" y="612.6" font-size="15" fill="#F37855"><tspan font-style="italic">R</tspan> = 0.36, <tspan font-style="italic">p</tspan> = 8e−06</text>
<text x="3.5" y="908" font-size="22" font-weight="bold">j</text>
<rect x="91.9" y="911.1" width="175.4" height="26.2" fill="#D9D9D9" stroke="#333333" stroke-width="1"/>
<text x="179.6" y="928.9" font-size="14" text-anchor="middle" fill="#1A1A1A">Temperate virus vs Bacteira</text>
<rect x="91.9" y="937.3" width="175.4" height="201" fill="#fff"/>
<line x1="91.9" y1="1125.65" x2="267.3" y2="1125.65" stroke="#EDEDED" stroke-width="1.1"/>
<line x1="104.66" y1="937.3" x2="104.66" y2="1138.3" stroke="#EDEDED" stroke-width="1.1"/>
<line x1="91.9" y1="1073.15" x2="267.3" y2="1073.15" stroke="#EDEDED" stroke-width="1.1"/>
<line x1="150.54" y1="937.3" x2="150.54" y2="1138.3" stroke="#EDEDED" stroke-width="1.1"/>
<line x1="91.9" y1="1020.65" x2="267.3" y2="1020.65" stroke="#EDEDED" stroke-width="1.1"/>
<line x1="196.41" y1="937.3" x2="196.41" y2="1138.3" stroke="#EDEDED" stroke-width="1.1"/>
<line x1="91.9" y1="968.15" x2="267.3" y2="968.15" stroke="#EDEDED" stroke-width="1.1"/>
<line x1="242.29" y1="937.3" x2="242.29" y2="1138.3" stroke="#EDEDED" stroke-width="1.1"/>
<line x1="91.9" y1="1099.4" x2="267.3" y2="1099.4" stroke="#E7E7E7" stroke-width="1.5"/>
<line x1="127.6" y1="937.3" x2="127.6" y2="1138.3" stroke="#E7E7E7" stroke-width="1.5"/>
<line x1="91.9" y1="1046.9" x2="267.3" y2="1046.9" stroke="#E7E7E7" stroke-width="1.5"/>
<line x1="173.47" y1="937.3" x2="173.47" y2="1138.3" stroke="#E7E7E7" stroke-width="1.5"/>
<line x1="91.9" y1="994.4" x2="267.3" y2="994.4" stroke="#E7E7E7" stroke-width="1.5"/>
<line x1="219.35" y1="937.3" x2="219.35" y2="1138.3" stroke="#E7E7E7" stroke-width="1.5"/>
<line x1="91.9" y1="941.9" x2="267.3" y2="941.9" stroke="#E7E7E7" stroke-width="1.5"/>
<line x1="265.23" y1="937.3" x2="265.23" y2="1138.3" stroke="#E7E7E7" stroke-width="1.5"/>
<clipPath id="clipj0"><rect x="91.9" y="937.3" width="175.4" height="201.0"/></clipPath>
<g clip-path="url(#clipj0)">
<line x1="98.61" y1="1132.58" x2="260.64" y2="947.15" stroke="#B0B0B0" stroke-width="1.25" stroke-dasharray="5.5,4"/>
<circle cx="173.49" cy="1095.58" r="3" fill="#4682B4" stroke="#fff" stroke-width="0.6" fill-opacity="0.5" stroke-opacity="0.8"/>
<circle cx="214.1" cy="1076.35" r="3" fill="#4682B4" stroke="#fff" stroke-width="0.6" fill-opacity="0.5" stroke-opacity="0.8"/>
<circle cx="249.07" cy="1013.22" r="3" fill="#4682B4" stroke="#fff" stroke-width="0.6" fill-opacity="0.5" stroke-opacity="0.8"/>
<circle cx="152.91" cy="1108.23" r="3" fill="#4682B4" stroke="#fff" stroke-width="0.6" fill-opacity="0.5" stroke-opacity="0.8"/>
<circle cx="244.17" cy="1041.76" r="3" fill="#4682B4" stroke="#fff" stroke-width="0.6" fill-opacity="0.5" stroke-opacity="0.8"/>
<circle cx="162.33" cy="1091.58" r="3" fill="#4682B4" stroke="#fff" stroke-width="0.6" fill-opacity="0.5" stroke-opacity="0.8"/>
<circle cx="169.13" cy="1115.43" r="3" fill="#4682B4" stroke="#fff" stroke-width="0.6" fill-opacity="0.5" stroke-opacity="0.8"/>
<circle cx="193.72" cy="1096.26" r="3" fill="#4682B4" stroke="#fff" stroke-width="0.6" fill-opacity="0.5" stroke-opacity="0.8"/>
<circle cx="238.13" cy="1041.23" r="3" fill="#4682B4" stroke="#fff" stroke-width="0.6" fill-opacity="0.5" stroke-opacity="0.8"/>
<circle cx="198.2" cy="1081.28" r="3" fill="#4682B4" stroke="#fff" stroke-width="0.6" fill-opacity="0.5" stroke-opacity="0.8"/>
<circle cx="135.16" cy="1118.27" r="3" fill="#4682B4" stroke="#fff" stroke-width="0.6" fill-opacity="0.5" stroke-opacity="0.8"/>
<circle cx="189.08" cy="1095.53" r="3" fill="#4682B4" stroke="#fff" stroke-width="0.6" fill-opacity="0.5" stroke-opacity="0.8"/>
<circle cx="241.74" cy="1054.2" r="3" fill="#4682B4" stroke="#fff" stroke-width="0.6" fill-opacity="0.5" stroke-opacity="0.8"/>
<circle cx="239" cy="1037.35" r="3" fill="#4682B4" stroke="#fff" stroke-width="0.6" fill-opacity="0.5" stroke-opacity="0.8"/>
<circle cx="241.59" cy="1053.04" r="3" fill="#4682B4" stroke="#fff" stroke-width="0.6" fill-opacity="0.5" stroke-opacity="0.8"/>
<circle cx="248.43" cy="1038.03" r="3" fill="#4682B4" stroke="#fff" stroke-width="0.6" fill-opacity="0.5" stroke-opacity="0.8"/>
<circle cx="222.16" cy="1065.84" r="3" fill="#4682B4" stroke="#fff" stroke-width="0.6" fill-opacity="0.5" stroke-opacity="0.8"/>
<circle cx="244.86" cy="1035.23" r="3" fill="#4682B4" stroke="#fff" stroke-width="0.6" fill-opacity="0.5" stroke-opacity="0.8"/>
<circle cx="230.95" cy="1042.1" r="3" fill="#4682B4" stroke="#fff" stroke-width="0.6" fill-opacity="0.5" stroke-opacity="0.8"/>
<circle cx="204.8" cy="1086.99" r="3" fill="#4682B4" stroke="#fff" stroke-width="0.6" fill-opacity="0.5" stroke-opacity="0.8"/>
<circle cx="258.39" cy="1005.52" r="3" fill="#4682B4" stroke="#fff" stroke-width="0.6" fill-opacity="0.5" stroke-opacity="0.8"/>
<circle cx="217.18" cy="1075.38" r="3" fill="#4682B4" stroke="#fff" stroke-width="0.6" fill-opacity="0.5" stroke-opacity="0.8"/>
<circle cx="199.39" cy="1083.17" r="3" fill="#4682B4" stroke="#fff" stroke-width="0.6" fill-opacity="0.5" stroke-opacity="0.8"/>
<circle cx="185.56" cy="1102.54" r="3" fill="#4682B4" stroke="#fff" stroke-width="0.6" fill-opacity="0.5" stroke-opacity="0.8"/>
<circle cx="198.04" cy="1066.18" r="3" fill="#4682B4" stroke="#fff" stroke-width="0.6" fill-opacity="0.5" stroke-opacity="0.8"/>
<circle cx="167.63" cy="1097.77" r="3" fill="#4682B4" stroke="#fff" stroke-width="0.6" fill-opacity="0.5" stroke-opacity="0.8"/>
<circle cx="225.26" cy="1056.39" r="3" fill="#4682B4" stroke="#fff" stroke-width="0.6" fill-opacity="0.5" stroke-opacity="0.8"/>
<circle cx="192.47" cy="1092.9" r="3" fill="#4682B4" stroke="#fff" stroke-width="0.6" fill-opacity="0.5" stroke-opacity="0.8"/>
<circle cx="162.91" cy="1117.79" r="3" fill="#4682B4" stroke="#fff" stroke-width="0.6" fill-opacity="0.5" stroke-opacity="0.8"/>
<circle cx="170.86" cy="1101.21" r="3" fill="#4682B4" stroke="#fff" stroke-width="0.6" fill-opacity="0.5" stroke-opacity="0.8"/>
<circle cx="245.79" cy="1035.58" r="3" fill="#4682B4" stroke="#fff" stroke-width="0.6" fill-opacity="0.5" stroke-opacity="0.8"/>
<circle cx="216.32" cy="1073.28" r="3" fill="#4682B4" stroke="#fff" stroke-width="0.6" fill-opacity="0.5" stroke-opacity="0.8"/>
<circle cx="227.83" cy="1046.72" r="3" fill="#4682B4" stroke="#fff" stroke-width="0.6" fill-opacity="0.5" stroke-opacity="0.8"/>
<circle cx="237.03" cy="1027.63" r="3" fill="#4682B4" stroke="#fff" stroke-width="0.6" fill-opacity="0.5" stroke-opacity="0.8"/>
<circle cx="165.17" cy="1099.18" r="3" fill="#4682B4" stroke="#fff" stroke-width="0.6" fill-opacity="0.5" stroke-opacity="0.8"/>
<circle cx="198.15" cy="1074.24" r="3" fill="#4682B4" stroke="#fff" stroke-width="0.6" fill-opacity="0.5" stroke-opacity="0.8"/>
<circle cx="153.34" cy="1115.85" r="3" fill="#4682B4" stroke="#fff" stroke-width="0.6" fill-opacity="0.5" stroke-opacity="0.8"/>
<circle cx="209.48" cy="1060.38" r="3" fill="#4682B4" stroke="#fff" stroke-width="0.6" fill-opacity="0.5" stroke-opacity="0.8"/>
<circle cx="201.8" cy="1079.07" r="3" fill="#4682B4" stroke="#fff" stroke-width="0.6" fill-opacity="0.5" stroke-opacity="0.8"/>
<circle cx="163.55" cy="1107.18" r="3" fill="#4682B4" stroke="#fff" stroke-width="0.6" fill-opacity="0.5" stroke-opacity="0.8"/>
<circle cx="239.63" cy="1068.72" r="3" fill="#4682B4" stroke="#fff" stroke-width="0.6" fill-opacity="0.5" stroke-opacity="0.8"/>
<circle cx="205.21" cy="1083.97" r="3" fill="#4682B4" stroke="#fff" stroke-width="0.6" fill-opacity="0.5" stroke-opacity="0.8"/>
<circle cx="201.61" cy="1065.28" r="3" fill="#4682B4" stroke="#fff" stroke-width="0.6" fill-opacity="0.5" stroke-opacity="0.8"/>
<circle cx="205.76" cy="1069.94" r="3" fill="#4682B4" stroke="#fff" stroke-width="0.6" fill-opacity="0.5" stroke-opacity="0.8"/>
<circle cx="239.95" cy="1026.17" r="3" fill="#4682B4" stroke="#fff" stroke-width="0.6" fill-opacity="0.5" stroke-opacity="0.8"/>
<circle cx="155.52" cy="1109.95" r="3" fill="#4682B4" stroke="#fff" stroke-width="0.6" fill-opacity="0.5" stroke-opacity="0.8"/>
<circle cx="167.15" cy="1108.99" r="3" fill="#4682B4" stroke="#fff" stroke-width="0.6" fill-opacity="0.5" stroke-opacity="0.8"/>
<circle cx="256.2" cy="1019.51" r="3" fill="#4682B4" stroke="#fff" stroke-width="0.6" fill-opacity="0.5" stroke-opacity="0.8"/>
<circle cx="226.45" cy="1068.3" r="3" fill="#4682B4" stroke="#fff" stroke-width="0.6" fill-opacity="0.5" stroke-opacity="0.8"/>
<circle cx="194.55" cy="1075.46" r="3" fill="#4682B4" stroke="#fff" stroke-width="0.6" fill-opacity="0.5" stroke-opacity="0.8"/>
<circle cx="142.5" cy="1121.12" r="3" fill="#4682B4" stroke="#fff" stroke-width="0.6" fill-opacity="0.5" stroke-opacity="0.8"/>
<circle cx="191.09" cy="1071.12" r="3" fill="#4682B4" stroke="#fff" stroke-width="0.6" fill-opacity="0.5" stroke-opacity="0.8"/>
<circle cx="146.38" cy="1115.63" r="3" fill="#4682B4" stroke="#fff" stroke-width="0.6" fill-opacity="0.5" stroke-opacity="0.8"/>
<circle cx="170.55" cy="1108.88" r="3" fill="#4682B4" stroke="#fff" stroke-width="0.6" fill-opacity="0.5" stroke-opacity="0.8"/>
<circle cx="202.75" cy="1064.03" r="3" fill="#4682B4" stroke="#fff" stroke-width="0.6" fill-opacity="0.5" stroke-opacity="0.8"/>
<circle cx="205.74" cy="1056.17" r="3" fill="#4682B4" stroke="#fff" stroke-width="0.6" fill-opacity="0.5" stroke-opacity="0.8"/>
<circle cx="224.35" cy="1049.57" r="3" fill="#4682B4" stroke="#fff" stroke-width="0.6" fill-opacity="0.5" stroke-opacity="0.8"/>
<circle cx="197.53" cy="1068.98" r="3" fill="#4682B4" stroke="#fff" stroke-width="0.6" fill-opacity="0.5" stroke-opacity="0.8"/>
<circle cx="236.18" cy="1053.72" r="3" fill="#4682B4" stroke="#fff" stroke-width="0.6" fill-opacity="0.5" stroke-opacity="0.8"/>
<circle cx="215.38" cy="1065.37" r="3" fill="#4682B4" stroke="#fff" stroke-width="0.6" fill-opacity="0.5" stroke-opacity="0.8"/>
<circle cx="236.05" cy="1043.4" r="3" fill="#4682B4" stroke="#fff" stroke-width="0.6" fill-opacity="0.5" stroke-opacity="0.8"/>
<circle cx="192.85" cy="1080.3" r="3" fill="#4682B4" stroke="#fff" stroke-width="0.6" fill-opacity="0.5" stroke-opacity="0.8"/>
<circle cx="159.41" cy="1096.96" r="3" fill="#4682B4" stroke="#fff" stroke-width="0.6" fill-opacity="0.5" stroke-opacity="0.8"/>
<circle cx="178" cy="1087.46" r="3" fill="#4682B4" stroke="#fff" stroke-width="0.6" fill-opacity="0.5" stroke-opacity="0.8"/>
<circle cx="239.34" cy="1041.29" r="3" fill="#4682B4" stroke="#fff" stroke-width="0.6" fill-opacity="0.5" stroke-opacity="0.8"/>
<circle cx="193.47" cy="1092.2" r="3" fill="#4682B4" stroke="#fff" stroke-width="0.6" fill-opacity="0.5" stroke-opacity="0.8"/>
<circle cx="211.32" cy="1062.07" r="3" fill="#4682B4" stroke="#fff" stroke-width="0.6" fill-opacity="0.5" stroke-opacity="0.8"/>
<circle cx="256.73" cy="1008.83" r="3" fill="#4682B4" stroke="#fff" stroke-width="0.6" fill-opacity="0.5" stroke-opacity="0.8"/>
<circle cx="192.08" cy="1078.41" r="3" fill="#4682B4" stroke="#fff" stroke-width="0.6" fill-opacity="0.5" stroke-opacity="0.8"/>
<circle cx="229.76" cy="1078.47" r="3" fill="#4682B4" stroke="#fff" stroke-width="0.6" fill-opacity="0.5" stroke-opacity="0.8"/>
<circle cx="244.49" cy="1031.98" r="3" fill="#4682B4" stroke="#fff" stroke-width="0.6" fill-opacity="0.5" stroke-opacity="0.8"/>
<circle cx="219.98" cy="1059.32" r="3" fill="#4682B4" stroke="#fff" stroke-width="0.6" fill-opacity="0.5" stroke-opacity="0.8"/>
<circle cx="180.6" cy="1082.52" r="3" fill="#4682B4" stroke="#fff" stroke-width="0.6" fill-opacity="0.5" stroke-opacity="0.8"/>
<circle cx="202.28" cy="1069.94" r="3" fill="#4682B4" stroke="#fff" stroke-width="0.6" fill-opacity="0.5" stroke-opacity="0.8"/>
<circle cx="151.92" cy="1107.34" r="3" fill="#4682B4" stroke="#fff" stroke-width="0.6" fill-opacity="0.5" stroke-opacity="0.8"/>
<circle cx="139.45" cy="1122.45" r="3" fill="#4682B4" stroke="#fff" stroke-width="0.6" fill-opacity="0.5" stroke-opacity="0.8"/>
<circle cx="254.87" cy="1011.24" r="3" fill="#4682B4" stroke="#fff" stroke-width="0.6" fill-opacity="0.5" stroke-opacity="0.8"/>
<circle cx="203.78" cy="1073.87" r="3" fill="#4682B4" stroke="#fff" stroke-width="0.6" fill-opacity="0.5" stroke-opacity="0.8"/>
<circle cx="236.14" cy="1042.28" r="3" fill="#4682B4" stroke="#fff" stroke-width="0.6" fill-opacity="0.5" stroke-opacity="0.8"/>
<circle cx="167.24" cy="1084.54" r="3" fill="#4682B4" stroke="#fff" stroke-width="0.6" fill-opacity="0.5" stroke-opacity="0.8"/>
<circle cx="237.12" cy="1054.48" r="3" fill="#4682B4" stroke="#fff" stroke-width="0.6" fill-opacity="0.5" stroke-opacity="0.8"/>
<circle cx="158.69" cy="1118.54" r="3" fill="#4682B4" stroke="#fff" stroke-width="0.6" fill-opacity="0.5" stroke-opacity="0.8"/>
<circle cx="231.19" cy="1071.66" r="3" fill="#4682B4" stroke="#fff" stroke-width="0.6" fill-opacity="0.5" stroke-opacity="0.8"/>
<circle cx="196.03" cy="1092.12" r="3" fill="#4682B4" stroke="#fff" stroke-width="0.6" fill-opacity="0.5" stroke-opacity="0.8"/>
<circle cx="202.29" cy="1074.4" r="3" fill="#4682B4" stroke="#fff" stroke-width="0.6" fill-opacity="0.5" stroke-opacity="0.8"/>
<circle cx="230.7" cy="1034.69" r="3" fill="#4682B4" stroke="#fff" stroke-width="0.6" fill-opacity="0.5" stroke-opacity="0.8"/>
<circle cx="152.11" cy="1106.93" r="3" fill="#4682B4" stroke="#fff" stroke-width="0.6" fill-opacity="0.5" stroke-opacity="0.8"/>
<circle cx="236.91" cy="1029.11" r="3" fill="#4682B4" stroke="#fff" stroke-width="0.6" fill-opacity="0.5" stroke-opacity="0.8"/>
<circle cx="241.92" cy="1024.26" r="3" fill="#4682B4" stroke="#fff" stroke-width="0.6" fill-opacity="0.5" stroke-opacity="0.8"/>
<circle cx="211.43" cy="1064.56" r="3" fill="#4682B4" stroke="#fff" stroke-width="0.6" fill-opacity="0.5" stroke-opacity="0.8"/>
<circle cx="162.41" cy="1105.49" r="3" fill="#4682B4" stroke="#fff" stroke-width="0.6" fill-opacity="0.5" stroke-opacity="0.8"/>
<circle cx="238.16" cy="1035.87" r="3" fill="#4682B4" stroke="#fff" stroke-width="0.6" fill-opacity="0.5" stroke-opacity="0.8"/>
<circle cx="242.3" cy="1028.31" r="3" fill="#4682B4" stroke="#fff" stroke-width="0.6" fill-opacity="0.5" stroke-opacity="0.8"/>
<circle cx="240.23" cy="1039.16" r="3" fill="#4682B4" stroke="#fff" stroke-width="0.6" fill-opacity="0.5" stroke-opacity="0.8"/>
<circle cx="196.6" cy="1081.3" r="3" fill="#4682B4" stroke="#fff" stroke-width="0.6" fill-opacity="0.5" stroke-opacity="0.8"/>
<circle cx="210.85" cy="1061.28" r="3" fill="#4682B4" stroke="#fff" stroke-width="0.6" fill-opacity="0.5" stroke-opacity="0.8"/>
<circle cx="248.7" cy="1027.52" r="3" fill="#4682B4" stroke="#fff" stroke-width="0.6" fill-opacity="0.5" stroke-opacity="0.8"/>
<circle cx="236.83" cy="1044.3" r="3" fill="#4682B4" stroke="#fff" stroke-width="0.6" fill-opacity="0.5" stroke-opacity="0.8"/>
<circle cx="242.58" cy="1034.2" r="3" fill="#4682B4" stroke="#fff" stroke-width="0.6" fill-opacity="0.5" stroke-opacity="0.8"/>
<circle cx="242.26" cy="1048.16" r="3" fill="#4682B4" stroke="#fff" stroke-width="0.6" fill-opacity="0.5" stroke-opacity="0.8"/>
<circle cx="221.39" cy="1060" r="3" fill="#4682B4" stroke="#fff" stroke-width="0.6" fill-opacity="0.5" stroke-opacity="0.8"/>
<circle cx="208.5" cy="1074.15" r="3" fill="#4682B4" stroke="#fff" stroke-width="0.6" fill-opacity="0.5" stroke-opacity="0.8"/>
<circle cx="254.15" cy="1022.65" r="3" fill="#4682B4" stroke="#fff" stroke-width="0.6" fill-opacity="0.5" stroke-opacity="0.8"/>
<circle cx="204.51" cy="1058.75" r="3" fill="#4682B4" stroke="#fff" stroke-width="0.6" fill-opacity="0.5" stroke-opacity="0.8"/>
<circle cx="196.84" cy="1077.2" r="3" fill="#4682B4" stroke="#fff" stroke-width="0.6" fill-opacity="0.5" stroke-opacity="0.8"/>
<circle cx="179.97" cy="1088.83" r="3" fill="#4682B4" stroke="#fff" stroke-width="0.6" fill-opacity="0.5" stroke-opacity="0.8"/>
<circle cx="256.54" cy="1000.26" r="3" fill="#4682B4" stroke="#fff" stroke-width="0.6" fill-opacity="0.5" stroke-opacity="0.8"/>
<circle cx="227.35" cy="1034.96" r="3" fill="#4682B4" stroke="#fff" stroke-width="0.6" fill-opacity="0.5" stroke-opacity="0.8"/>
<circle cx="216.29" cy="1068.52" r="3" fill="#4682B4" stroke="#fff" stroke-width="0.6" fill-opacity="0.5" stroke-opacity="0.8"/>
<circle cx="217.98" cy="1077.3" r="3" fill="#4682B4" stroke="#fff" stroke-width="0.6" fill-opacity="0.5" stroke-opacity="0.8"/>
<circle cx="254.35" cy="1034.32" r="3" fill="#4682B4" stroke="#fff" stroke-width="0.6" fill-opacity="0.5" stroke-opacity="0.8"/>
<circle cx="193.86" cy="1064.17" r="3" fill="#4682B4" stroke="#fff" stroke-width="0.6" fill-opacity="0.5" stroke-opacity="0.8"/>
<circle cx="259.22" cy="1018.14" r="3" fill="#4682B4" stroke="#fff" stroke-width="0.6" fill-opacity="0.5" stroke-opacity="0.8"/>
<circle cx="196.89" cy="1081.04" r="3" fill="#4682B4" stroke="#fff" stroke-width="0.6" fill-opacity="0.5" stroke-opacity="0.8"/>
<circle cx="251.42" cy="1005.54" r="3" fill="#4682B4" stroke="#fff" stroke-width="0.6" fill-opacity="0.5" stroke-opacity="0.8"/>
<circle cx="231.37" cy="1054.22" r="3" fill="#4682B4" stroke="#fff" stroke-width="0.6" fill-opacity="0.5" stroke-opacity="0.8"/>
<circle cx="236.66" cy="1028.65" r="3" fill="#4682B4" stroke="#fff" stroke-width="0.6" fill-opacity="0.5" stroke-opacity="0.8"/>
<circle cx="240.38" cy="1035.76" r="3" fill="#4682B4" stroke="#fff" stroke-width="0.6" fill-opacity="0.5" stroke-opacity="0.8"/>
<circle cx="174.93" cy="1102.9" r="3" fill="#4682B4" stroke="#fff" stroke-width="0.6" fill-opacity="0.5" stroke-opacity="0.8"/>
<circle cx="209.23" cy="1076.41" r="3" fill="#4682B4" stroke="#fff" stroke-width="0.6" fill-opacity="0.5" stroke-opacity="0.8"/>
<circle cx="242.6" cy="1048.74" r="3" fill="#4682B4" stroke="#fff" stroke-width="0.6" fill-opacity="0.5" stroke-opacity="0.8"/>
<circle cx="240.26" cy="1041.16" r="3" fill="#4682B4" stroke="#fff" stroke-width="0.6" fill-opacity="0.5" stroke-opacity="0.8"/>
<circle cx="234.96" cy="1042.71" r="3" fill="#4682B4" stroke="#fff" stroke-width="0.6" fill-opacity="0.5" stroke-opacity="0.8"/>
<circle cx="214.94" cy="1076.3" r="3" fill="#4682B4" stroke="#fff" stroke-width="0.6" fill-opacity="0.5" stroke-opacity="0.8"/>
<circle cx="235.9" cy="1058.06" r="3" fill="#4682B4" stroke="#fff" stroke-width="0.6" fill-opacity="0.5" stroke-opacity="0.8"/>
<circle cx="206.59" cy="1064.83" r="3" fill="#4682B4" stroke="#fff" stroke-width="0.6" fill-opacity="0.5" stroke-opacity="0.8"/>
<circle cx="173.21" cy="1104.24" r="3" fill="#4682B4" stroke="#fff" stroke-width="0.6" fill-opacity="0.5" stroke-opacity="0.8"/>
<circle cx="247.58" cy="1039.22" r="3" fill="#4682B4" stroke="#fff" stroke-width="0.6" fill-opacity="0.5" stroke-opacity="0.8"/>
<circle cx="181.05" cy="1092.69" r="3" fill="#4682B4" stroke="#fff" stroke-width="0.6" fill-opacity="0.5" stroke-opacity="0.8"/>
<circle cx="197.52" cy="1076.18" r="3" fill="#4682B4" stroke="#fff" stroke-width="0.6" fill-opacity="0.5" stroke-opacity="0.8"/>
<circle cx="238.24" cy="1047.13" r="3" fill="#4682B4" stroke="#fff" stroke-width="0.6" fill-opacity="0.5" stroke-opacity="0.8"/>
<circle cx="188.85" cy="1105.96" r="3" fill="#4682B4" stroke="#fff" stroke-width="0.6" fill-opacity="0.5" stroke-opacity="0.8"/>
<circle cx="241.82" cy="1045.35" r="3" fill="#4682B4" stroke="#fff" stroke-width="0.6" fill-opacity="0.5" stroke-opacity="0.8"/>
<circle cx="218.77" cy="1059.53" r="3" fill="#4682B4" stroke="#fff" stroke-width="0.6" fill-opacity="0.5" stroke-opacity="0.8"/>
<circle cx="211.82" cy="1067.82" r="3" fill="#4682B4" stroke="#fff" stroke-width="0.6" fill-opacity="0.5" stroke-opacity="0.8"/>
<circle cx="178.16" cy="1105.8" r="3" fill="#4682B4" stroke="#fff" stroke-width="0.6" fill-opacity="0.5" stroke-opacity="0.8"/>
<circle cx="236.66" cy="1045.91" r="3" fill="#4682B4" stroke="#fff" stroke-width="0.6" fill-opacity="0.5" stroke-opacity="0.8"/>
<circle cx="211.46" cy="1066.7" r="3" fill="#4682B4" stroke="#fff" stroke-width="0.6" fill-opacity="0.5" stroke-opacity="0.8"/>
<circle cx="124.55" cy="1127.21" r="3" fill="#4682B4" stroke="#fff" stroke-width="0.6" fill-opacity="0.5" stroke-opacity="0.8"/>
<circle cx="200.19" cy="1080.75" r="3" fill="#4682B4" stroke="#fff" stroke-width="0.6" fill-opacity="0.5" stroke-opacity="0.8"/>
<circle cx="239.87" cy="1041.14" r="3" fill="#4682B4" stroke="#fff" stroke-width="0.6" fill-opacity="0.5" stroke-opacity="0.8"/>
<circle cx="244.54" cy="1045.08" r="3" fill="#4682B4" stroke="#fff" stroke-width="0.6" fill-opacity="0.5" stroke-opacity="0.8"/>
<circle cx="213.52" cy="1055.42" r="3" fill="#4682B4" stroke="#fff" stroke-width="0.6" fill-opacity="0.5" stroke-opacity="0.8"/>
<circle cx="219.72" cy="1060.57" r="3" fill="#4682B4" stroke="#fff" stroke-width="0.6" fill-opacity="0.5" stroke-opacity="0.8"/>
<circle cx="230.81" cy="1056.33" r="3" fill="#4682B4" stroke="#fff" stroke-width="0.6" fill-opacity="0.5" stroke-opacity="0.8"/>
<circle cx="214.34" cy="1075.33" r="3" fill="#4682B4" stroke="#fff" stroke-width="0.6" fill-opacity="0.5" stroke-opacity="0.8"/>
<circle cx="248.11" cy="1026.23" r="3" fill="#4682B4" stroke="#fff" stroke-width="0.6" fill-opacity="0.5" stroke-opacity="0.8"/>
<circle cx="135.03" cy="1124.04" r="3" fill="#4682B4" stroke="#fff" stroke-width="0.6" fill-opacity="0.5" stroke-opacity="0.8"/>
<circle cx="212.32" cy="1063.2" r="3" fill="#4682B4" stroke="#fff" stroke-width="0.6" fill-opacity="0.5" stroke-opacity="0.8"/>
<circle cx="145.42" cy="1111.45" r="3" fill="#4682B4" stroke="#fff" stroke-width="0.6" fill-opacity="0.5" stroke-opacity="0.8"/>
<circle cx="233.75" cy="1036.01" r="3" fill="#4682B4" stroke="#fff" stroke-width="0.6" fill-opacity="0.5" stroke-opacity="0.8"/>
<circle cx="258.23" cy="1016.37" r="3" fill="#4682B4" stroke="#fff" stroke-width="0.6" fill-opacity="0.5" stroke-opacity="0.8"/>
<circle cx="256.18" cy="998.03" r="3" fill="#4682B4" stroke="#fff" stroke-width="0.6" fill-opacity="0.5" stroke-opacity="0.8"/>
<circle cx="257.99" cy="1008.74" r="3" fill="#4682B4" stroke="#fff" stroke-width="0.6" fill-opacity="0.5" stroke-opacity="0.8"/>
<circle cx="256.91" cy="1005.19" r="3" fill="#4682B4" stroke="#fff" stroke-width="0.6" fill-opacity="0.5" stroke-opacity="0.8"/>
<circle cx="239.67" cy="1057.01" r="3" fill="#4682B4" stroke="#fff" stroke-width="0.6" fill-opacity="0.5" stroke-opacity="0.8"/>
<circle cx="224.96" cy="1050.46" r="3" fill="#4682B4" stroke="#fff" stroke-width="0.6" fill-opacity="0.5" stroke-opacity="0.8"/>
<circle cx="167.66" cy="1103.95" r="3" fill="#4682B4" stroke="#fff" stroke-width="0.6" fill-opacity="0.5" stroke-opacity="0.8"/>
<circle cx="217.9" cy="1060.28" r="3" fill="#4682B4" stroke="#fff" stroke-width="0.6" fill-opacity="0.5" stroke-opacity="0.8"/>
<circle cx="174.13" cy="1090.56" r="3" fill="#4682B4" stroke="#fff" stroke-width="0.6" fill-opacity="0.5" stroke-opacity="0.8"/>
<circle cx="169.36" cy="1094.55" r="3" fill="#4682B4" stroke="#fff" stroke-width="0.6" fill-opacity="0.5" stroke-opacity="0.8"/>
<circle cx="203.63" cy="1061.29" r="3" fill="#4682B4" stroke="#fff" stroke-width="0.6" fill-opacity="0.5" stroke-opacity="0.8"/>
<circle cx="242.91" cy="1028.19" r="3" fill="#4682B4" stroke="#fff" stroke-width="0.6" fill-opacity="0.5" stroke-opacity="0.8"/>
<circle cx="222.14" cy="1062.19" r="3" fill="#4682B4" stroke="#fff" stroke-width="0.6" fill-opacity="0.5" stroke-opacity="0.8"/>
<circle cx="209.22" cy="1063.69" r="3" fill="#4682B4" stroke="#fff" stroke-width="0.6" fill-opacity="0.5" stroke-opacity="0.8"/>
<circle cx="216.59" cy="1073.11" r="3" fill="#4682B4" stroke="#fff" stroke-width="0.6" fill-opacity="0.5" stroke-opacity="0.8"/>
<circle cx="212.78" cy="1065.44" r="3" fill="#4682B4" stroke="#fff" stroke-width="0.6" fill-opacity="0.5" stroke-opacity="0.8"/>
<circle cx="253.9" cy="1030.84" r="3" fill="#4682B4" stroke="#fff" stroke-width="0.6" fill-opacity="0.5" stroke-opacity="0.8"/>
<circle cx="244" cy="1041.46" r="3" fill="#4682B4" stroke="#fff" stroke-width="0.6" fill-opacity="0.5" stroke-opacity="0.8"/>
<circle cx="221.63" cy="1030.24" r="3" fill="#4682B4" stroke="#fff" stroke-width="0.6" fill-opacity="0.5" stroke-opacity="0.8"/>
<circle cx="238.96" cy="1033.11" r="3" fill="#4682B4" stroke="#fff" stroke-width="0.6" fill-opacity="0.5" stroke-opacity="0.8"/>
<circle cx="157.61" cy="1104.34" r="3" fill="#4682B4" stroke="#fff" stroke-width="0.6" fill-opacity="0.5" stroke-opacity="0.8"/>
<circle cx="220.12" cy="1071.04" r="3" fill="#4682B4" stroke="#fff" stroke-width="0.6" fill-opacity="0.5" stroke-opacity="0.8"/>
<circle cx="212.17" cy="1061.17" r="3" fill="#4682B4" stroke="#fff" stroke-width="0.6" fill-opacity="0.5" stroke-opacity="0.8"/>
<circle cx="224.92" cy="1067.18" r="3" fill="#4682B4" stroke="#fff" stroke-width="0.6" fill-opacity="0.5" stroke-opacity="0.8"/>
<circle cx="221.03" cy="1056.12" r="3" fill="#4682B4" stroke="#fff" stroke-width="0.6" fill-opacity="0.5" stroke-opacity="0.8"/>
<circle cx="147.86" cy="1111.62" r="3" fill="#4682B4" stroke="#fff" stroke-width="0.6" fill-opacity="0.5" stroke-opacity="0.8"/>
<circle cx="221.17" cy="1060.61" r="3" fill="#4682B4" stroke="#fff" stroke-width="0.6" fill-opacity="0.5" stroke-opacity="0.8"/>
<circle cx="192.65" cy="1071.56" r="3" fill="#4682B4" stroke="#fff" stroke-width="0.6" fill-opacity="0.5" stroke-opacity="0.8"/>
<circle cx="197.23" cy="1075.36" r="3" fill="#4682B4" stroke="#fff" stroke-width="0.6" fill-opacity="0.5" stroke-opacity="0.8"/>
<circle cx="238.29" cy="1027.47" r="3" fill="#4682B4" stroke="#fff" stroke-width="0.6" fill-opacity="0.5" stroke-opacity="0.8"/>
<circle cx="235.81" cy="1059.86" r="3" fill="#4682B4" stroke="#fff" stroke-width="0.6" fill-opacity="0.5" stroke-opacity="0.8"/>
<circle cx="223.25" cy="1043.71" r="3" fill="#4682B4" stroke="#fff" stroke-width="0.6" fill-opacity="0.5" stroke-opacity="0.8"/>
<circle cx="157.15" cy="1107.34" r="3" fill="#4682B4" stroke="#fff" stroke-width="0.6" fill-opacity="0.5" stroke-opacity="0.8"/>
<circle cx="237.38" cy="1063.66" r="3" fill="#4682B4" stroke="#fff" stroke-width="0.6" fill-opacity="0.5" stroke-opacity="0.8"/>
<circle cx="219.98" cy="1076.31" r="3" fill="#4682B4" stroke="#fff" stroke-width="0.6" fill-opacity="0.5" stroke-opacity="0.8"/>
<circle cx="254.28" cy="1015.3" r="3" fill="#4682B4" stroke="#fff" stroke-width="0.6" fill-opacity="0.5" stroke-opacity="0.8"/>
<circle cx="253.91" cy="1012.39" r="3" fill="#4682B4" stroke="#fff" stroke-width="0.6" fill-opacity="0.5" stroke-opacity="0.8"/>
<circle cx="226.12" cy="1055.81" r="3" fill="#4682B4" stroke="#fff" stroke-width="0.6" fill-opacity="0.5" stroke-opacity="0.8"/>
<circle cx="135.21" cy="1115.53" r="3" fill="#4682B4" stroke="#fff" stroke-width="0.6" fill-opacity="0.5" stroke-opacity="0.8"/>
<circle cx="197.06" cy="1074.51" r="3" fill="#4682B4" stroke="#fff" stroke-width="0.6" fill-opacity="0.5" stroke-opacity="0.8"/>
<circle cx="148.84" cy="1108.19" r="3" fill="#4682B4" stroke="#fff" stroke-width="0.6" fill-opacity="0.5" stroke-opacity="0.8"/>
<circle cx="191.72" cy="1089.24" r="3" fill="#4682B4" stroke="#fff" stroke-width="0.6" fill-opacity="0.5" stroke-opacity="0.8"/>
<circle cx="180.56" cy="1094.72" r="3" fill="#4682B4" stroke="#fff" stroke-width="0.6" fill-opacity="0.5" stroke-opacity="0.8"/>
<circle cx="133.11" cy="1110.93" r="3" fill="#4682B4" stroke="#fff" stroke-width="0.6" fill-opacity="0.5" stroke-opacity="0.8"/>
<circle cx="221.83" cy="1058.68" r="3" fill="#4682B4" stroke="#fff" stroke-width="0.6" fill-opacity="0.5" stroke-opacity="0.8"/>
<circle cx="230.09" cy="1048.82" r="3" fill="#4682B4" stroke="#fff" stroke-width="0.6" fill-opacity="0.5" stroke-opacity="0.8"/>
<circle cx="260.04" cy="1000.69" r="3" fill="#4682B4" stroke="#fff" stroke-width="0.6" fill-opacity="0.5" stroke-opacity="0.8"/>
<circle cx="208.83" cy="1059.73" r="3" fill="#4682B4" stroke="#fff" stroke-width="0.6" fill-opacity="0.5" stroke-opacity="0.8"/>
<circle cx="144.48" cy="1113.28" r="3" fill="#4682B4" stroke="#fff" stroke-width="0.6" fill-opacity="0.5" stroke-opacity="0.8"/>
<circle cx="229.39" cy="1046.38" r="3" fill="#4682B4" stroke="#fff" stroke-width="0.6" fill-opacity="0.5" stroke-opacity="0.8"/>
<circle cx="229.82" cy="1060.4" r="3" fill="#4682B4" stroke="#fff" stroke-width="0.6" fill-opacity="0.5" stroke-opacity="0.8"/>
<circle cx="195.04" cy="1072.64" r="3" fill="#4682B4" stroke="#fff" stroke-width="0.6" fill-opacity="0.5" stroke-opacity="0.8"/>
<circle cx="235.62" cy="1058.1" r="3" fill="#4682B4" stroke="#fff" stroke-width="0.6" fill-opacity="0.5" stroke-opacity="0.8"/>
<circle cx="156.5" cy="1113.01" r="3" fill="#4682B4" stroke="#fff" stroke-width="0.6" fill-opacity="0.5" stroke-opacity="0.8"/>
<circle cx="220.51" cy="1070.78" r="3" fill="#4682B4" stroke="#fff" stroke-width="0.6" fill-opacity="0.5" stroke-opacity="0.8"/>
<circle cx="256.31" cy="1017.76" r="3" fill="#4682B4" stroke="#fff" stroke-width="0.6" fill-opacity="0.5" stroke-opacity="0.8"/>
<circle cx="200.32" cy="1085.77" r="3" fill="#4682B4" stroke="#fff" stroke-width="0.6" fill-opacity="0.5" stroke-opacity="0.8"/>
<circle cx="237.04" cy="1037.97" r="3" fill="#4682B4" stroke="#fff" stroke-width="0.6" fill-opacity="0.5" stroke-opacity="0.8"/>
<circle cx="237.48" cy="1031.69" r="3" fill="#4682B4" stroke="#fff" stroke-width="0.6" fill-opacity="0.5" stroke-opacity="0.8"/>
<circle cx="217.08" cy="1055.4" r="3" fill="#4682B4" stroke="#fff" stroke-width="0.6" fill-opacity="0.5" stroke-opacity="0.8"/>
<circle cx="228.66" cy="1033.13" r="3" fill="#4682B4" stroke="#fff" stroke-width="0.6" fill-opacity="0.5" stroke-opacity="0.8"/>
<circle cx="214.94" cy="1046.5" r="3" fill="#4682B4" stroke="#fff" stroke-width="0.6" fill-opacity="0.5" stroke-opacity="0.8"/>
<circle cx="149.37" cy="1103.92" r="3" fill="#4682B4" stroke="#fff" stroke-width="0.6" fill-opacity="0.5" stroke-opacity="0.8"/>
<circle cx="172.47" cy="1106.29" r="3" fill="#4682B4" stroke="#fff" stroke-width="0.6" fill-opacity="0.5" stroke-opacity="0.8"/>
<circle cx="226.57" cy="1052.44" r="3" fill="#4682B4" stroke="#fff" stroke-width="0.6" fill-opacity="0.5" stroke-opacity="0.8"/>
<circle cx="195.22" cy="1083.24" r="3" fill="#4682B4" stroke="#fff" stroke-width="0.6" fill-opacity="0.5" stroke-opacity="0.8"/>
<circle cx="249.25" cy="1018.59" r="3" fill="#4682B4" stroke="#fff" stroke-width="0.6" fill-opacity="0.5" stroke-opacity="0.8"/>
<circle cx="241.08" cy="1045.03" r="3" fill="#4682B4" stroke="#fff" stroke-width="0.6" fill-opacity="0.5" stroke-opacity="0.8"/>
<circle cx="201.62" cy="1082.98" r="3" fill="#4682B4" stroke="#fff" stroke-width="0.6" fill-opacity="0.5" stroke-opacity="0.8"/>
<circle cx="237.53" cy="1059.16" r="3" fill="#4682B4" stroke="#fff" stroke-width="0.6" fill-opacity="0.5" stroke-opacity="0.8"/>
<circle cx="242.28" cy="1036.9" r="3" fill="#4682B4" stroke="#fff" stroke-width="0.6" fill-opacity="0.5" stroke-opacity="0.8"/>
<circle cx="237.16" cy="1042.53" r="3" fill="#4682B4" stroke="#fff" stroke-width="0.6" fill-opacity="0.5" stroke-opacity="0.8"/>
<circle cx="216.57" cy="1060.67" r="3" fill="#4682B4" stroke="#fff" stroke-width="0.6" fill-opacity="0.5" stroke-opacity="0.8"/>
<circle cx="249.98" cy="1025.34" r="3" fill="#4682B4" stroke="#fff" stroke-width="0.6" fill-opacity="0.5" stroke-opacity="0.8"/>
<circle cx="224.09" cy="1044.85" r="3" fill="#4682B4" stroke="#fff" stroke-width="0.6" fill-opacity="0.5" stroke-opacity="0.8"/>
<circle cx="157.7" cy="1099.95" r="3" fill="#4682B4" stroke="#fff" stroke-width="0.6" fill-opacity="0.5" stroke-opacity="0.8"/>
<circle cx="159.43" cy="1115.61" r="3" fill="#4682B4" stroke="#fff" stroke-width="0.6" fill-opacity="0.5" stroke-opacity="0.8"/>
<circle cx="253.42" cy="1035.3" r="3" fill="#4682B4" stroke="#fff" stroke-width="0.6" fill-opacity="0.5" stroke-opacity="0.8"/>
<circle cx="256.27" cy="999.21" r="3" fill="#4682B4" stroke="#fff" stroke-width="0.6" fill-opacity="0.5" stroke-opacity="0.8"/>
<circle cx="255.91" cy="990.54" r="3" fill="#4682B4" stroke="#fff" stroke-width="0.6" fill-opacity="0.5" stroke-opacity="0.8"/>
<circle cx="191.24" cy="1082.92" r="3" fill="#4682B4" stroke="#fff" stroke-width="0.6" fill-opacity="0.5" stroke-opacity="0.8"/>
<circle cx="250.89" cy="1036.55" r="3" fill="#4682B4" stroke="#fff" stroke-width="0.6" fill-opacity="0.5" stroke-opacity="0.8"/>
<circle cx="227.23" cy="1050.14" r="3" fill="#4682B4" stroke="#fff" stroke-width="0.6" fill-opacity="0.5" stroke-opacity="0.8"/>
<circle cx="236.81" cy="1062.16" r="3" fill="#4682B4" stroke="#fff" stroke-width="0.6" fill-opacity="0.5" stroke-opacity="0.8"/>
<circle cx="169.32" cy="1090.49" r="3" fill="#4682B4" stroke="#fff" stroke-width="0.6" fill-opacity="0.5" stroke-opacity="0.8"/>
<circle cx="250.02" cy="1023.11" r="3" fill="#4682B4" stroke="#fff" stroke-width="0.6" fill-opacity="0.5" stroke-opacity="0.8"/>
<circle cx="218" cy="1052.4" r="3" fill="#4682B4" stroke="#fff" stroke-width="0.6" fill-opacity="0.5" stroke-opacity="0.8"/>
<circle cx="242.01" cy="1048.82" r="3" fill="#4682B4" stroke="#fff" stroke-width="0.6" fill-opacity="0.5" stroke-opacity="0.8"/>
<circle cx="225.02" cy="1040.6" r="3" fill="#4682B4" stroke="#fff" stroke-width="0.6" fill-opacity="0.5" stroke-opacity="0.8"/>
<circle cx="238.36" cy="1040.88" r="3" fill="#4682B4" stroke="#fff" stroke-width="0.6" fill-opacity="0.5" stroke-opacity="0.8"/>
<circle cx="157.65" cy="1105.66" r="3" fill="#4682B4" stroke="#fff" stroke-width="0.6" fill-opacity="0.5" stroke-opacity="0.8"/>
<circle cx="192.11" cy="1072.02" r="3" fill="#4682B4" stroke="#fff" stroke-width="0.6" fill-opacity="0.5" stroke-opacity="0.8"/>
<circle cx="230.16" cy="1063.14" r="3" fill="#4682B4" stroke="#fff" stroke-width="0.6" fill-opacity="0.5" stroke-opacity="0.8"/>
<circle cx="242.87" cy="1037.27" r="3" fill="#4682B4" stroke="#fff" stroke-width="0.6" fill-opacity="0.5" stroke-opacity="0.8"/>
<circle cx="218.85" cy="1064.68" r="3" fill="#4682B4" stroke="#fff" stroke-width="0.6" fill-opacity="0.5" stroke-opacity="0.8"/>
<circle cx="202.47" cy="1077.17" r="3" fill="#4682B4" stroke="#fff" stroke-width="0.6" fill-opacity="0.5" stroke-opacity="0.8"/>
<circle cx="233.13" cy="1045.75" r="3" fill="#4682B4" stroke="#fff" stroke-width="0.6" fill-opacity="0.5" stroke-opacity="0.8"/>
<circle cx="168.41" cy="1105.15" r="3" fill="#4682B4" stroke="#fff" stroke-width="0.6" fill-opacity="0.5" stroke-opacity="0.8"/>
<circle cx="243.91" cy="1039.41" r="3" fill="#4682B4" stroke="#fff" stroke-width="0.6" fill-opacity="0.5" stroke-opacity="0.8"/>
</g>
<rect x="91.9" y="937.3" width="175.4" height="201" fill="none" stroke="#333333" stroke-width="1"/>
<line x1="127.6" y1="1138.3" x2="127.6" y2="1142.3" stroke="#333333" stroke-width="1.3"/>
<text x="127.6" y="1156.8" font-size="14" text-anchor="middle" fill="#4D4D4D">0.25</text>
<line x1="173.47" y1="1138.3" x2="173.47" y2="1142.3" stroke="#333333" stroke-width="1.3"/>
<text x="173.47" y="1156.8" font-size="14" text-anchor="middle" fill="#4D4D4D">0.50</text>
<line x1="219.35" y1="1138.3" x2="219.35" y2="1142.3" stroke="#333333" stroke-width="1.3"/>
<text x="219.35" y="1156.8" font-size="14" text-anchor="middle" fill="#4D4D4D">0.75</text>
<line x1="265.23" y1="1138.3" x2="265.23" y2="1142.3" stroke="#333333" stroke-width="1.3"/>
<text x="265.23" y="1156.8" font-size="14" text-anchor="middle" fill="#4D4D4D">1.00</text>
<text x="100.5" y="977.2" font-size="14"><tspan font-style="italic">R</tspan> = 0.92</text>
<text x="100.2" y="998" font-size="14"><tspan font-style="italic">p</tspan> = 0.001</text>
<rect x="276.7" y="911.1" width="174.4" height="26.2" fill="#D9D9D9" stroke="#333333" stroke-width="1"/>
<text x="363.9" y="928.9" font-size="14" text-anchor="middle" fill="#1A1A1A">Virulent virus vs Bacteira</text>
<rect x="276.7" y="937.3" width="174.4" height="201" fill="#fff"/>
<line x1="276.7" y1="1125.65" x2="451.1" y2="1125.65" stroke="#EDEDED" stroke-width="1.1"/>
<line x1="289.06" y1="937.3" x2="289.06" y2="1138.3" stroke="#EDEDED" stroke-width="1.1"/>
<line x1="276.7" y1="1073.15" x2="451.1" y2="1073.15" stroke="#EDEDED" stroke-width="1.1"/>
<line x1="334.94" y1="937.3" x2="334.94" y2="1138.3" stroke="#EDEDED" stroke-width="1.1"/>
<line x1="276.7" y1="1020.65" x2="451.1" y2="1020.65" stroke="#EDEDED" stroke-width="1.1"/>
<line x1="380.81" y1="937.3" x2="380.81" y2="1138.3" stroke="#EDEDED" stroke-width="1.1"/>
<line x1="276.7" y1="968.15" x2="451.1" y2="968.15" stroke="#EDEDED" stroke-width="1.1"/>
<line x1="426.69" y1="937.3" x2="426.69" y2="1138.3" stroke="#EDEDED" stroke-width="1.1"/>
<line x1="276.7" y1="1099.4" x2="451.1" y2="1099.4" stroke="#E7E7E7" stroke-width="1.5"/>
<line x1="312" y1="937.3" x2="312" y2="1138.3" stroke="#E7E7E7" stroke-width="1.5"/>
<line x1="276.7" y1="1046.9" x2="451.1" y2="1046.9" stroke="#E7E7E7" stroke-width="1.5"/>
<line x1="357.88" y1="937.3" x2="357.88" y2="1138.3" stroke="#E7E7E7" stroke-width="1.5"/>
<line x1="276.7" y1="994.4" x2="451.1" y2="994.4" stroke="#E7E7E7" stroke-width="1.5"/>
<line x1="403.75" y1="937.3" x2="403.75" y2="1138.3" stroke="#E7E7E7" stroke-width="1.5"/>
<line x1="276.7" y1="941.9" x2="451.1" y2="941.9" stroke="#E7E7E7" stroke-width="1.5"/>
<line x1="449.62" y1="937.3" x2="449.62" y2="1138.3" stroke="#E7E7E7" stroke-width="1.5"/>
<clipPath id="clipj1"><rect x="276.7" y="937.3" width="174.40000000000003" height="201.0"/></clipPath>
<g clip-path="url(#clipj1)">
<line x1="247.78" y1="1172.9" x2="486.32" y2="899.9" stroke="#B0B0B0" stroke-width="1.25" stroke-dasharray="5.5,4"/>
<circle cx="389.9" cy="1054.44" r="3" fill="#4682B4" stroke="#fff" stroke-width="0.6" fill-opacity="0.5" stroke-opacity="0.8"/>
<circle cx="413.98" cy="1064.6" r="3" fill="#4682B4" stroke="#fff" stroke-width="0.6" fill-opacity="0.5" stroke-opacity="0.8"/>
<circle cx="353.77" cy="1099.98" r="3" fill="#4682B4" stroke="#fff" stroke-width="0.6" fill-opacity="0.5" stroke-opacity="0.8"/>
<circle cx="389.53" cy="1061.08" r="3" fill="#4682B4" stroke="#fff" stroke-width="0.6" fill-opacity="0.5" stroke-opacity="0.8"/>
<circle cx="322.47" cy="1105.81" r="3" fill="#4682B4" stroke="#fff" stroke-width="0.6" fill-opacity="0.5" stroke-opacity="0.8"/>
<circle cx="404.13" cy="1057.03" r="3" fill="#4682B4" stroke="#fff" stroke-width="0.6" fill-opacity="0.5" stroke-opacity="0.8"/>
<circle cx="373.61" cy="1089.21" r="3" fill="#4682B4" stroke="#fff" stroke-width="0.6" fill-opacity="0.5" stroke-opacity="0.8"/>
<circle cx="395.53" cy="1067.03" r="3" fill="#4682B4" stroke="#fff" stroke-width="0.6" fill-opacity="0.5" stroke-opacity="0.8"/>
<circle cx="338.66" cy="1109.42" r="3" fill="#4682B4" stroke="#fff" stroke-width="0.6" fill-opacity="0.5" stroke-opacity="0.8"/>
<circle cx="425.24" cy="1061.88" r="3" fill="#4682B4" stroke="#fff" stroke-width="0.6" fill-opacity="0.5" stroke-opacity="0.8"/>
<circle cx="401.63" cy="1077.44" r="3" fill="#4682B4" stroke="#fff" stroke-width="0.6" fill-opacity="0.5" stroke-opacity="0.8"/>
<circle cx="308.79" cy="1118.17" r="3" fill="#4682B4" stroke="#fff" stroke-width="0.6" fill-opacity="0.5" stroke-opacity="0.8"/>
<circle cx="397.65" cy="1055.47" r="3" fill="#4682B4" stroke="#fff" stroke-width="0.6" fill-opacity="0.5" stroke-opacity="0.8"/>
<circle cx="310.07" cy="1120.59" r="3" fill="#4682B4" stroke="#fff" stroke-width="0.6" fill-opacity="0.5" stroke-opacity="0.8"/>
<circle cx="344.84" cy="1100.98" r="3" fill="#4682B4" stroke="#fff" stroke-width="0.6" fill-opacity="0.5" stroke-opacity="0.8"/>
<circle cx="375.87" cy="1079.87" r="3" fill="#4682B4" stroke="#fff" stroke-width="0.6" fill-opacity="0.5" stroke-opacity="0.8"/>
<circle cx="398.53" cy="1074.32" r="3" fill="#4682B4" stroke="#fff" stroke-width="0.6" fill-opacity="0.5" stroke-opacity="0.8"/>
<circle cx="424.9" cy="1057.44" r="3" fill="#4682B4" stroke="#fff" stroke-width="0.6" fill-opacity="0.5" stroke-opacity="0.8"/>
<circle cx="384.7" cy="1082.1" r="3" fill="#4682B4" stroke="#fff" stroke-width="0.6" fill-opacity="0.5" stroke-opacity="0.8"/>
<circle cx="303.9" cy="1133.44" r="3" fill="#4682B4" stroke="#fff" stroke-width="0.6" fill-opacity="0.5" stroke-opacity="0.8"/>
<circle cx="307.27" cy="1113.46" r="3" fill="#4682B4" stroke="#fff" stroke-width="0.6" fill-opacity="0.5" stroke-opacity="0.8"/>
<circle cx="416.63" cy="1064.48" r="3" fill="#4682B4" stroke="#fff" stroke-width="0.6" fill-opacity="0.5" stroke-opacity="0.8"/>
<circle cx="419.69" cy="1045.35" r="3" fill="#4682B4" stroke="#fff" stroke-width="0.6" fill-opacity="0.5" stroke-opacity="0.8"/>
<circle cx="351.73" cy="1112.58" r="3" fill="#4682B4" stroke="#fff" stroke-width="0.6" fill-opacity="0.5" stroke-opacity="0.8"/>
<circle cx="435.95" cy="1012.04" r="3" fill="#4682B4" stroke="#fff" stroke-width="0.6" fill-opacity="0.5" stroke-opacity="0.8"/>
<circle cx="417.27" cy="1063.92" r="3" fill="#4682B4" stroke="#fff" stroke-width="0.6" fill-opacity="0.5" stroke-opacity="0.8"/>
<circle cx="440.52" cy="1013.45" r="3" fill="#4682B4" stroke="#fff" stroke-width="0.6" fill-opacity="0.5" stroke-opacity="0.8"/>
<circle cx="415.31" cy="1053.38" r="3" fill="#4682B4" stroke="#fff" stroke-width="0.6" fill-opacity="0.5" stroke-opacity="0.8"/>
<circle cx="382.85" cy="1081.38" r="3" fill="#4682B4" stroke="#fff" stroke-width="0.6" fill-opacity="0.5" stroke-opacity="0.8"/>
<circle cx="341.58" cy="1094.69" r="3" fill="#4682B4" stroke="#fff" stroke-width="0.6" fill-opacity="0.5" stroke-opacity="0.8"/>
<circle cx="352.95" cy="1078.33" r="3" fill="#4682B4" stroke="#fff" stroke-width="0.6" fill-opacity="0.5" stroke-opacity="0.8"/>
<circle cx="422.88" cy="1027.14" r="3" fill="#4682B4" stroke="#fff" stroke-width="0.6" fill-opacity="0.5" stroke-opacity="0.8"/>
<circle cx="334.29" cy="1107.47" r="3" fill="#4682B4" stroke="#fff" stroke-width="0.6" fill-opacity="0.5" stroke-opacity="0.8"/>
<circle cx="423.91" cy="1049.03" r="3" fill="#4682B4" stroke="#fff" stroke-width="0.6" fill-opacity="0.5" stroke-opacity="0.8"/>
<circle cx="409.15" cy="1059.7" r="3" fill="#4682B4" stroke="#fff" stroke-width="0.6" fill-opacity="0.5" stroke-opacity="0.8"/>
<circle cx="374.7" cy="1089.69" r="3" fill="#4682B4" stroke="#fff" stroke-width="0.6" fill-opacity="0.5" stroke-opacity="0.8"/>
<circle cx="407.4" cy="1073.46" r="3" fill="#4682B4" stroke="#fff" stroke-width="0.6" fill-opacity="0.5" stroke-opacity="0.8"/>
<circle cx="375.58" cy="1065.11" r="3" fill="#4682B4" stroke="#fff" stroke-width="0.6" fill-opacity="0.5" stroke-opacity="0.8"/>
<circle cx="425.43" cy="1036.8" r="3" fill="#4682B4" stroke="#fff" stroke-width="0.6" fill-opacity="0.5" stroke-opacity="0.8"/>
<circle cx="321.31" cy="1112.79" r="3" fill="#4682B4" stroke="#fff" stroke-width="0.6" fill-opacity="0.5" stroke-opacity="0.8"/>
<circle cx="326.3" cy="1115.7" r="3" fill="#4682B4" stroke="#fff" stroke-width="0.6" fill-opacity="0.5" stroke-opacity="0.8"/>
<circle cx="414.66" cy="1048.1" r="3" fill="#4682B4" stroke="#fff" stroke-width="0.6" fill-opacity="0.5" stroke-opacity="0.8"/>
<circle cx="398.62" cy="1074.31" r="3" fill="#4682B4" stroke="#fff" stroke-width="0.6" fill-opacity="0.5" stroke-opacity="0.8"/>
<circle cx="331.53" cy="1115.07" r="3" fill="#4682B4" stroke="#fff" stroke-width="0.6" fill-opacity="0.5" stroke-opacity="0.8"/>
<circle cx="375.44" cy="1083.72" r="3" fill="#4682B4" stroke="#fff" stroke-width="0.6" fill-opacity="0.5" stroke-opacity="0.8"/>
<circle cx="403.27" cy="1072.09" r="3" fill="#4682B4" stroke="#fff" stroke-width="0.6" fill-opacity="0.5" stroke-opacity="0.8"/>
<circle cx="345.13" cy="1075.8" r="3" fill="#4682B4" stroke="#fff" stroke-width="0.6" fill-opacity="0.5" stroke-opacity="0.8"/>
<circle cx="402.44" cy="1057.6" r="3" fill="#4682B4" stroke="#fff" stroke-width="0.6" fill-opacity="0.5" stroke-opacity="0.8"/>
<circle cx="393.72" cy="1076.92" r="3" fill="#4682B4" stroke="#fff" stroke-width="0.6" fill-opacity="0.5" stroke-opacity="0.8"/>
<circle cx="403.79" cy="1086.23" r="3" fill="#4682B4" stroke="#fff" stroke-width="0.6" fill-opacity="0.5" stroke-opacity="0.8"/>
<circle cx="441.69" cy="996.2" r="3" fill="#4682B4" stroke="#fff" stroke-width="0.6" fill-opacity="0.5" stroke-opacity="0.8"/>
<circle cx="393.98" cy="1068.17" r="3" fill="#4682B4" stroke="#fff" stroke-width="0.6" fill-opacity="0.5" stroke-opacity="0.8"/>
<circle cx="387.27" cy="1075.96" r="3" fill="#4682B4" stroke="#fff" stroke-width="0.6" fill-opacity="0.5" stroke-opacity="0.8"/>
<circle cx="335.29" cy="1118.09" r="3" fill="#4682B4" stroke="#fff" stroke-width="0.6" fill-opacity="0.5" stroke-opacity="0.8"/>
<circle cx="373.65" cy="1092.95" r="3" fill="#4682B4" stroke="#fff" stroke-width="0.6" fill-opacity="0.5" stroke-opacity="0.8"/>
<circle cx="423.5" cy="1080.11" r="3" fill="#4682B4" stroke="#fff" stroke-width="0.6" fill-opacity="0.5" stroke-opacity="0.8"/>
<circle cx="387.44" cy="1077.62" r="3" fill="#4682B4" stroke="#fff" stroke-width="0.6" fill-opacity="0.5" stroke-opacity="0.8"/>
<circle cx="354.57" cy="1105.15" r="3" fill="#4682B4" stroke="#fff" stroke-width="0.6" fill-opacity="0.5" stroke-opacity="0.8"/>
<circle cx="381.19" cy="1074.2" r="3" fill="#4682B4" stroke="#fff" stroke-width="0.6" fill-opacity="0.5" stroke-opacity="0.8"/>
<circle cx="350.74" cy="1095" r="3" fill="#4682B4" stroke="#fff" stroke-width="0.6" fill-opacity="0.5" stroke-opacity="0.8"/>
<circle cx="410.07" cy="1070.96" r="3" fill="#4682B4" stroke="#fff" stroke-width="0.6" fill-opacity="0.5" stroke-opacity="0.8"/>
<circle cx="381.84" cy="1095.35" r="3" fill="#4682B4" stroke="#fff" stroke-width="0.6" fill-opacity="0.5" stroke-opacity="0.8"/>
<circle cx="367.84" cy="1092.15" r="3" fill="#4682B4" stroke="#fff" stroke-width="0.6" fill-opacity="0.5" stroke-opacity="0.8"/>
<circle cx="391.55" cy="1092.24" r="3" fill="#4682B4" stroke="#fff" stroke-width="0.6" fill-opacity="0.5" stroke-opacity="0.8"/>
<circle cx="427.92" cy="1054.66" r="3" fill="#4682B4" stroke="#fff" stroke-width="0.6" fill-opacity="0.5" stroke-opacity="0.8"/>
<circle cx="430.92" cy="1010.18" r="3" fill="#4682B4" stroke="#fff" stroke-width="0.6" fill-opacity="0.5" stroke-opacity="0.8"/>
<circle cx="386.52" cy="1074.16" r="3" fill="#4682B4" stroke="#fff" stroke-width="0.6" fill-opacity="0.5" stroke-opacity="0.8"/>
<circle cx="416.51" cy="1053.93" r="3" fill="#4682B4" stroke="#fff" stroke-width="0.6" fill-opacity="0.5" stroke-opacity="0.8"/>
<circle cx="431.72" cy="1020.65" r="3" fill="#4682B4" stroke="#fff" stroke-width="0.6" fill-opacity="0.5" stroke-opacity="0.8"/>
<circle cx="319.04" cy="1115.78" r="3" fill="#4682B4" stroke="#fff" stroke-width="0.6" fill-opacity="0.5" stroke-opacity="0.8"/>
<circle cx="368.52" cy="1080.07" r="3" fill="#4682B4" stroke="#fff" stroke-width="0.6" fill-opacity="0.5" stroke-opacity="0.8"/>
<circle cx="377.7" cy="1082.31" r="3" fill="#4682B4" stroke="#fff" stroke-width="0.6" fill-opacity="0.5" stroke-opacity="0.8"/>
<circle cx="408.58" cy="1052.2" r="3" fill="#4682B4" stroke="#fff" stroke-width="0.6" fill-opacity="0.5" stroke-opacity="0.8"/>
<circle cx="436.48" cy="1001.5" r="3" fill="#4682B4" stroke="#fff" stroke-width="0.6" fill-opacity="0.5" stroke-opacity="0.8"/>
<circle cx="423.3" cy="1038.59" r="3" fill="#4682B4" stroke="#fff" stroke-width="0.6" fill-opacity="0.5" stroke-opacity="0.8"/>
<circle cx="427.57" cy="1038.96" r="3" fill="#4682B4" stroke="#fff" stroke-width="0.6" fill-opacity="0.5" stroke-opacity="0.8"/>
<circle cx="350.41" cy="1093.98" r="3" fill="#4682B4" stroke="#fff" stroke-width="0.6" fill-opacity="0.5" stroke-opacity="0.8"/>
<circle cx="440.5" cy="999.68" r="3" fill="#4682B4" stroke="#fff" stroke-width="0.6" fill-opacity="0.5" stroke-opacity="0.8"/>
<circle cx="418.74" cy="1046.4" r="3" fill="#4682B4" stroke="#fff" stroke-width="0.6" fill-opacity="0.5" stroke-opacity="0.8"/>
<circle cx="368.28" cy="1073.36" r="3" fill="#4682B4" stroke="#fff" stroke-width="0.6" fill-opacity="0.5" stroke-opacity="0.8"/>
<circle cx="314.29" cy="1113.92" r="3" fill="#4682B4" stroke="#fff" stroke-width="0.6" fill-opacity="0.5" stroke-opacity="0.8"/>
<circle cx="412.98" cy="1047.49" r="3" fill="#4682B4" stroke="#fff" stroke-width="0.6" fill-opacity="0.5" stroke-opacity="0.8"/>
<circle cx="398.87" cy="1062.88" r="3" fill="#4682B4" stroke="#fff" stroke-width="0.6" fill-opacity="0.5" stroke-opacity="0.8"/>
<circle cx="430.23" cy="1064.35" r="3" fill="#4682B4" stroke="#fff" stroke-width="0.6" fill-opacity="0.5" stroke-opacity="0.8"/>
<circle cx="414.66" cy="1060.47" r="3" fill="#4682B4" stroke="#fff" stroke-width="0.6" fill-opacity="0.5" stroke-opacity="0.8"/>
<circle cx="398.97" cy="1071.69" r="3" fill="#4682B4" stroke="#fff" stroke-width="0.6" fill-opacity="0.5" stroke-opacity="0.8"/>
<circle cx="414.32" cy="1054.75" r="3" fill="#4682B4" stroke="#fff" stroke-width="0.6" fill-opacity="0.5" stroke-opacity="0.8"/>
<circle cx="317.57" cy="1117.09" r="3" fill="#4682B4" stroke="#fff" stroke-width="0.6" fill-opacity="0.5" stroke-opacity="0.8"/>
<circle cx="342.84" cy="1097.59" r="3" fill="#4682B4" stroke="#fff" stroke-width="0.6" fill-opacity="0.5" stroke-opacity="0.8"/>
<circle cx="376" cy="1099.65" r="3" fill="#4682B4" stroke="#fff" stroke-width="0.6" fill-opacity="0.5" stroke-opacity="0.8"/>
<circle cx="435.6" cy="1027.45" r="3" fill="#4682B4" stroke="#fff" stroke-width="0.6" fill-opacity="0.5" stroke-opacity="0.8"/>
<circle cx="415.06" cy="1024.96" r="3" fill="#4682B4" stroke="#fff" stroke-width="0.6" fill-opacity="0.5" stroke-opacity="0.8"/>
<circle cx="362.15" cy="1090.93" r="3" fill="#4682B4" stroke="#fff" stroke-width="0.6" fill-opacity="0.5" stroke-opacity="0.8"/>
<circle cx="427.15" cy="1056.72" r="3" fill="#4682B4" stroke="#fff" stroke-width="0.6" fill-opacity="0.5" stroke-opacity="0.8"/>
<circle cx="424.03" cy="1033.04" r="3" fill="#4682B4" stroke="#fff" stroke-width="0.6" fill-opacity="0.5" stroke-opacity="0.8"/>
<circle cx="380.44" cy="1076.8" r="3" fill="#4682B4" stroke="#fff" stroke-width="0.6" fill-opacity="0.5" stroke-opacity="0.8"/>
<circle cx="394.59" cy="1079.72" r="3" fill="#4682B4" stroke="#fff" stroke-width="0.6" fill-opacity="0.5" stroke-opacity="0.8"/>
<circle cx="341.75" cy="1109.55" r="3" fill="#4682B4" stroke="#fff" stroke-width="0.6" fill-opacity="0.5" stroke-opacity="0.8"/>
<circle cx="349.7" cy="1102.29" r="3" fill="#4682B4" stroke="#fff" stroke-width="0.6" fill-opacity="0.5" stroke-opacity="0.8"/>
<circle cx="337.07" cy="1106.15" r="3" fill="#4682B4" stroke="#fff" stroke-width="0.6" fill-opacity="0.5" stroke-opacity="0.8"/>
<circle cx="331.41" cy="1105.04" r="3" fill="#4682B4" stroke="#fff" stroke-width="0.6" fill-opacity="0.5" stroke-opacity="0.8"/>
<circle cx="438.83" cy="1024.24" r="3" fill="#4682B4" stroke="#fff" stroke-width="0.6" fill-opacity="0.5" stroke-opacity="0.8"/>
<circle cx="346.84" cy="1097.32" r="3" fill="#4682B4" stroke="#fff" stroke-width="0.6" fill-opacity="0.5" stroke-opacity="0.8"/>
<circle cx="435.21" cy="1048.61" r="3" fill="#4682B4" stroke="#fff" stroke-width="0.6" fill-opacity="0.5" stroke-opacity="0.8"/>
<circle cx="429.11" cy="1039.59" r="3" fill="#4682B4" stroke="#fff" stroke-width="0.6" fill-opacity="0.5" stroke-opacity="0.8"/>
<circle cx="414.63" cy="1078.85" r="3" fill="#4682B4" stroke="#fff" stroke-width="0.6" fill-opacity="0.5" stroke-opacity="0.8"/>
<circle cx="409.91" cy="1054.64" r="3" fill="#4682B4" stroke="#fff" stroke-width="0.6" fill-opacity="0.5" stroke-opacity="0.8"/>
<circle cx="407.08" cy="1062.64" r="3" fill="#4682B4" stroke="#fff" stroke-width="0.6" fill-opacity="0.5" stroke-opacity="0.8"/>
<circle cx="394.66" cy="1087.54" r="3" fill="#4682B4" stroke="#fff" stroke-width="0.6" fill-opacity="0.5" stroke-opacity="0.8"/>
<circle cx="430.16" cy="1046.71" r="3" fill="#4682B4" stroke="#fff" stroke-width="0.6" fill-opacity="0.5" stroke-opacity="0.8"/>
<circle cx="384.38" cy="1070.29" r="3" fill="#4682B4" stroke="#fff" stroke-width="0.6" fill-opacity="0.5" stroke-opacity="0.8"/>
<circle cx="416.65" cy="1043.89" r="3" fill="#4682B4" stroke="#fff" stroke-width="0.6" fill-opacity="0.5" stroke-opacity="0.8"/>
<circle cx="367.04" cy="1090.02" r="3" fill="#4682B4" stroke="#fff" stroke-width="0.6" fill-opacity="0.5" stroke-opacity="0.8"/>
<circle cx="363.45" cy="1086.07" r="3" fill="#4682B4" stroke="#fff" stroke-width="0.6" fill-opacity="0.5" stroke-opacity="0.8"/>
<circle cx="418.27" cy="1052.93" r="3" fill="#4682B4" stroke="#fff" stroke-width="0.6" fill-opacity="0.5" stroke-opacity="0.8"/>
<circle cx="375.1" cy="1086.57" r="3" fill="#4682B4" stroke="#fff" stroke-width="0.6" fill-opacity="0.5" stroke-opacity="0.8"/>
<circle cx="306.96" cy="1121.7" r="3" fill="#4682B4" stroke="#fff" stroke-width="0.6" fill-opacity="0.5" stroke-opacity="0.8"/>
<circle cx="417.89" cy="1047.58" r="3" fill="#4682B4" stroke="#fff" stroke-width="0.6" fill-opacity="0.5" stroke-opacity="0.8"/>
<circle cx="426.66" cy="1042.14" r="3" fill="#4682B4" stroke="#fff" stroke-width="0.6" fill-opacity="0.5" stroke-opacity="0.8"/>
<circle cx="380.06" cy="1062.62" r="3" fill="#4682B4" stroke="#fff" stroke-width="0.6" fill-opacity="0.5" stroke-opacity="0.8"/>
<circle cx="397.9" cy="1058.69" r="3" fill="#4682B4" stroke="#fff" stroke-width="0.6" fill-opacity="0.5" stroke-opacity="0.8"/>
<circle cx="370.55" cy="1095.1" r="3" fill="#4682B4" stroke="#fff" stroke-width="0.6" fill-opacity="0.5" stroke-opacity="0.8"/>
<circle cx="356.83" cy="1072.57" r="3" fill="#4682B4" stroke="#fff" stroke-width="0.6" fill-opacity="0.5" stroke-opacity="0.8"/>
<circle cx="386.92" cy="1084.94" r="3" fill="#4682B4" stroke="#fff" stroke-width="0.6" fill-opacity="0.5" stroke-opacity="0.8"/>
<circle cx="380.47" cy="1072.59" r="3" fill="#4682B4" stroke="#fff" stroke-width="0.6" fill-opacity="0.5" stroke-opacity="0.8"/>
<circle cx="440.18" cy="1003.58" r="3" fill="#4682B4" stroke="#fff" stroke-width="0.6" fill-opacity="0.5" stroke-opacity="0.8"/>
<circle cx="364.45" cy="1084.62" r="3" fill="#4682B4" stroke="#fff" stroke-width="0.6" fill-opacity="0.5" stroke-opacity="0.8"/>
<circle cx="328.16" cy="1112.54" r="3" fill="#4682B4" stroke="#fff" stroke-width="0.6" fill-opacity="0.5" stroke-opacity="0.8"/>
<circle cx="424.74" cy="1044.92" r="3" fill="#4682B4" stroke="#fff" stroke-width="0.6" fill-opacity="0.5" stroke-opacity="0.8"/>
<circle cx="349.32" cy="1100.48" r="3" fill="#4682B4" stroke="#fff" stroke-width="0.6" fill-opacity="0.5" stroke-opacity="0.8"/>
<circle cx="400.75" cy="1056.39" r="3" fill="#4682B4" stroke="#fff" stroke-width="0.6" fill-opacity="0.5" stroke-opacity="0.8"/>
<circle cx="415.19" cy="1065.42" r="3" fill="#4682B4" stroke="#fff" stroke-width="0.6" fill-opacity="0.5" stroke-opacity="0.8"/>
<circle cx="385.89" cy="1065.97" r="3" fill="#4682B4" stroke="#fff" stroke-width="0.6" fill-opacity="0.5" stroke-opacity="0.8"/>
<circle cx="418.31" cy="1072.16" r="3" fill="#4682B4" stroke="#fff" stroke-width="0.6" fill-opacity="0.5" stroke-opacity="0.8"/>
<circle cx="326.88" cy="1112.22" r="3" fill="#4682B4" stroke="#fff" stroke-width="0.6" fill-opacity="0.5" stroke-opacity="0.8"/>
<circle cx="439.67" cy="1021.25" r="3" fill="#4682B4" stroke="#fff" stroke-width="0.6" fill-opacity="0.5" stroke-opacity="0.8"/>
<circle cx="404.77" cy="1055.23" r="3" fill="#4682B4" stroke="#fff" stroke-width="0.6" fill-opacity="0.5" stroke-opacity="0.8"/>
<circle cx="366.86" cy="1075.48" r="3" fill="#4682B4" stroke="#fff" stroke-width="0.6" fill-opacity="0.5" stroke-opacity="0.8"/>
<circle cx="412.55" cy="1058.14" r="3" fill="#4682B4" stroke="#fff" stroke-width="0.6" fill-opacity="0.5" stroke-opacity="0.8"/>
<circle cx="363.24" cy="1072.71" r="3" fill="#4682B4" stroke="#fff" stroke-width="0.6" fill-opacity="0.5" stroke-opacity="0.8"/>
<circle cx="415.93" cy="1039.66" r="3" fill="#4682B4" stroke="#fff" stroke-width="0.6" fill-opacity="0.5" stroke-opacity="0.8"/>
<circle cx="421.04" cy="1047.81" r="3" fill="#4682B4" stroke="#fff" stroke-width="0.6" fill-opacity="0.5" stroke-opacity="0.8"/>
<circle cx="409.25" cy="1058.82" r="3" fill="#4682B4" stroke="#fff" stroke-width="0.6" fill-opacity="0.5" stroke-opacity="0.8"/>
<circle cx="427.53" cy="1042.02" r="3" fill="#4682B4" stroke="#fff" stroke-width="0.6" fill-opacity="0.5" stroke-opacity="0.8"/>
<circle cx="356.3" cy="1091.71" r="3" fill="#4682B4" stroke="#fff" stroke-width="0.6" fill-opacity="0.5" stroke-opacity="0.8"/>
<circle cx="389.1" cy="1057.87" r="3" fill="#4682B4" stroke="#fff" stroke-width="0.6" fill-opacity="0.5" stroke-opacity="0.8"/>
<circle cx="394.55" cy="1068.66" r="3" fill="#4682B4" stroke="#fff" stroke-width="0.6" fill-opacity="0.5" stroke-opacity="0.8"/>
<circle cx="417.42" cy="1071.32" r="3" fill="#4682B4" stroke="#fff" stroke-width="0.6" fill-opacity="0.5" stroke-opacity="0.8"/>
<circle cx="381.33" cy="1075.69" r="3" fill="#4682B4" stroke="#fff" stroke-width="0.6" fill-opacity="0.5" stroke-opacity="0.8"/>
<circle cx="356.68" cy="1086.56" r="3" fill="#4682B4" stroke="#fff" stroke-width="0.6" fill-opacity="0.5" stroke-opacity="0.8"/>
<circle cx="418.27" cy="1067.32" r="3" fill="#4682B4" stroke="#fff" stroke-width="0.6" fill-opacity="0.5" stroke-opacity="0.8"/>
<circle cx="419.98" cy="1045.63" r="3" fill="#4682B4" stroke="#fff" stroke-width="0.6" fill-opacity="0.5" stroke-opacity="0.8"/>
<circle cx="413.66" cy="1074.71" r="3" fill="#4682B4" stroke="#fff" stroke-width="0.6" fill-opacity="0.5" stroke-opacity="0.8"/>
<circle cx="358.98" cy="1081.51" r="3" fill="#4682B4" stroke="#fff" stroke-width="0.6" fill-opacity="0.5" stroke-opacity="0.8"/>
<circle cx="389.68" cy="1071.55" r="3" fill="#4682B4" stroke="#fff" stroke-width="0.6" fill-opacity="0.5" stroke-opacity="0.8"/>
<circle cx="387.71" cy="1077.92" r="3" fill="#4682B4" stroke="#fff" stroke-width="0.6" fill-opacity="0.5" stroke-opacity="0.8"/>
<circle cx="305.66" cy="1126.65" r="3" fill="#4682B4" stroke="#fff" stroke-width="0.6" fill-opacity="0.5" stroke-opacity="0.8"/>
<circle cx="370.87" cy="1096.32" r="3" fill="#4682B4" stroke="#fff" stroke-width="0.6" fill-opacity="0.5" stroke-opacity="0.8"/>
<circle cx="326.3" cy="1103.7" r="3" fill="#4682B4" stroke="#fff" stroke-width="0.6" fill-opacity="0.5" stroke-opacity="0.8"/>
<circle cx="416.66" cy="1042.77" r="3" fill="#4682B4" stroke="#fff" stroke-width="0.6" fill-opacity="0.5" stroke-opacity="0.8"/>
<circle cx="363.01" cy="1097" r="3" fill="#4682B4" stroke="#fff" stroke-width="0.6" fill-opacity="0.5" stroke-opacity="0.8"/>
<circle cx="419.58" cy="1057.76" r="3" fill="#4682B4" stroke="#fff" stroke-width="0.6" fill-opacity="0.5" stroke-opacity="0.8"/>
<circle cx="322.61" cy="1107.36" r="3" fill="#4682B4" stroke="#fff" stroke-width="0.6" fill-opacity="0.5" stroke-opacity="0.8"/>
<circle cx="330.88" cy="1108.87" r="3" fill="#4682B4" stroke="#fff" stroke-width="0.6" fill-opacity="0.5" stroke-opacity="0.8"/>
<circle cx="368.28" cy="1090.53" r="3" fill="#4682B4" stroke="#fff" stroke-width="0.6" fill-opacity="0.5" stroke-opacity="0.8"/>
<circle cx="442.85" cy="985.02" r="3" fill="#4682B4" stroke="#fff" stroke-width="0.6" fill-opacity="0.5" stroke-opacity="0.8"/>
<circle cx="425.6" cy="1037.48" r="3" fill="#4682B4" stroke="#fff" stroke-width="0.6" fill-opacity="0.5" stroke-opacity="0.8"/>
<circle cx="442.82" cy="1013.77" r="3" fill="#4682B4" stroke="#fff" stroke-width="0.6" fill-opacity="0.5" stroke-opacity="0.8"/>
<circle cx="379.06" cy="1085.5" r="3" fill="#4682B4" stroke="#fff" stroke-width="0.6" fill-opacity="0.5" stroke-opacity="0.8"/>
<circle cx="394.19" cy="1082.57" r="3" fill="#4682B4" stroke="#fff" stroke-width="0.6" fill-opacity="0.5" stroke-opacity="0.8"/>
<circle cx="435.44" cy="1010.76" r="3" fill="#4682B4" stroke="#fff" stroke-width="0.6" fill-opacity="0.5" stroke-opacity="0.8"/>
<circle cx="382.76" cy="1057.54" r="3" fill="#4682B4" stroke="#fff" stroke-width="0.6" fill-opacity="0.5" stroke-opacity="0.8"/>
<circle cx="305" cy="1129.65" r="3" fill="#4682B4" stroke="#fff" stroke-width="0.6" fill-opacity="0.5" stroke-opacity="0.8"/>
<circle cx="440.48" cy="1027.96" r="3" fill="#4682B4" stroke="#fff" stroke-width="0.6" fill-opacity="0.5" stroke-opacity="0.8"/>
<circle cx="352.46" cy="1090.01" r="3" fill="#4682B4" stroke="#fff" stroke-width="0.6" fill-opacity="0.5" stroke-opacity="0.8"/>
<circle cx="399.43" cy="1063.53" r="3" fill="#4682B4" stroke="#fff" stroke-width="0.6" fill-opacity="0.5" stroke-opacity="0.8"/>
<circle cx="432.05" cy="1024.2" r="3" fill="#4682B4" stroke="#fff" stroke-width="0.6" fill-opacity="0.5" stroke-opacity="0.8"/>
<circle cx="406.29" cy="1080.25" r="3" fill="#4682B4" stroke="#fff" stroke-width="0.6" fill-opacity="0.5" stroke-opacity="0.8"/>
<circle cx="407.44" cy="1075.65" r="3" fill="#4682B4" stroke="#fff" stroke-width="0.6" fill-opacity="0.5" stroke-opacity="0.8"/>
<circle cx="434.01" cy="1022.84" r="3" fill="#4682B4" stroke="#fff" stroke-width="0.6" fill-opacity="0.5" stroke-opacity="0.8"/>
<circle cx="370.12" cy="1090.79" r="3" fill="#4682B4" stroke="#fff" stroke-width="0.6" fill-opacity="0.5" stroke-opacity="0.8"/>
<circle cx="329.09" cy="1109.73" r="3" fill="#4682B4" stroke="#fff" stroke-width="0.6" fill-opacity="0.5" stroke-opacity="0.8"/>
<circle cx="434.85" cy="999.44" r="3" fill="#4682B4" stroke="#fff" stroke-width="0.6" fill-opacity="0.5" stroke-opacity="0.8"/>
<circle cx="410.91" cy="1054.01" r="3" fill="#4682B4" stroke="#fff" stroke-width="0.6" fill-opacity="0.5" stroke-opacity="0.8"/>
<circle cx="306.81" cy="1127.01" r="3" fill="#4682B4" stroke="#fff" stroke-width="0.6" fill-opacity="0.5" stroke-opacity="0.8"/>
<circle cx="333.68" cy="1103.12" r="3" fill="#4682B4" stroke="#fff" stroke-width="0.6" fill-opacity="0.5" stroke-opacity="0.8"/>
<circle cx="412.81" cy="1070.83" r="3" fill="#4682B4" stroke="#fff" stroke-width="0.6" fill-opacity="0.5" stroke-opacity="0.8"/>
<circle cx="338.75" cy="1105.82" r="3" fill="#4682B4" stroke="#fff" stroke-width="0.6" fill-opacity="0.5" stroke-opacity="0.8"/>
<circle cx="439.48" cy="1012.63" r="3" fill="#4682B4" stroke="#fff" stroke-width="0.6" fill-opacity="0.5" stroke-opacity="0.8"/>
<circle cx="345.63" cy="1108.39" r="3" fill="#4682B4" stroke="#fff" stroke-width="0.6" fill-opacity="0.5" stroke-opacity="0.8"/>
<circle cx="439.74" cy="997.56" r="3" fill="#4682B4" stroke="#fff" stroke-width="0.6" fill-opacity="0.5" stroke-opacity="0.8"/>
<circle cx="439.3" cy="1020.58" r="3" fill="#4682B4" stroke="#fff" stroke-width="0.6" fill-opacity="0.5" stroke-opacity="0.8"/>
<circle cx="319.26" cy="1105.39" r="3" fill="#4682B4" stroke="#fff" stroke-width="0.6" fill-opacity="0.5" stroke-opacity="0.8"/>
<circle cx="411.72" cy="1076.66" r="3" fill="#4682B4" stroke="#fff" stroke-width="0.6" fill-opacity="0.5" stroke-opacity="0.8"/>
<circle cx="424" cy="1048.52" r="3" fill="#4682B4" stroke="#fff" stroke-width="0.6" fill-opacity="0.5" stroke-opacity="0.8"/>
<circle cx="414.83" cy="1053.73" r="3" fill="#4682B4" stroke="#fff" stroke-width="0.6" fill-opacity="0.5" stroke-opacity="0.8"/>
<circle cx="413.3" cy="1048.98" r="3" fill="#4682B4" stroke="#fff" stroke-width="0.6" fill-opacity="0.5" stroke-opacity="0.8"/>
<circle cx="381.71" cy="1073.11" r="3" fill="#4682B4" stroke="#fff" stroke-width="0.6" fill-opacity="0.5" stroke-opacity="0.8"/>
<circle cx="396.81" cy="1065.07" r="3" fill="#4682B4" stroke="#fff" stroke-width="0.6" fill-opacity="0.5" stroke-opacity="0.8"/>
<circle cx="411.01" cy="1054.05" r="3" fill="#4682B4" stroke="#fff" stroke-width="0.6" fill-opacity="0.5" stroke-opacity="0.8"/>
<circle cx="422.94" cy="1039.21" r="3" fill="#4682B4" stroke="#fff" stroke-width="0.6" fill-opacity="0.5" stroke-opacity="0.8"/>
<circle cx="417.97" cy="1041" r="3" fill="#4682B4" stroke="#fff" stroke-width="0.6" fill-opacity="0.5" stroke-opacity="0.8"/>
<circle cx="408.01" cy="1060.25" r="3" fill="#4682B4" stroke="#fff" stroke-width="0.6" fill-opacity="0.5" stroke-opacity="0.8"/>
<circle cx="418.62" cy="1061.75" r="3" fill="#4682B4" stroke="#fff" stroke-width="0.6" fill-opacity="0.5" stroke-opacity="0.8"/>
<circle cx="408.45" cy="1066.46" r="3" fill="#4682B4" stroke="#fff" stroke-width="0.6" fill-opacity="0.5" stroke-opacity="0.8"/>
<circle cx="394.3" cy="1072.38" r="3" fill="#4682B4" stroke="#fff" stroke-width="0.6" fill-opacity="0.5" stroke-opacity="0.8"/>
<circle cx="363.3" cy="1095.87" r="3" fill="#4682B4" stroke="#fff" stroke-width="0.6" fill-opacity="0.5" stroke-opacity="0.8"/>
<circle cx="427.74" cy="1036.43" r="3" fill="#4682B4" stroke="#fff" stroke-width="0.6" fill-opacity="0.5" stroke-opacity="0.8"/>
<circle cx="418.55" cy="1052.91" r="3" fill="#4682B4" stroke="#fff" stroke-width="0.6" fill-opacity="0.5" stroke-opacity="0.8"/>
<circle cx="415.5" cy="1044.6" r="3" fill="#4682B4" stroke="#fff" stroke-width="0.6" fill-opacity="0.5" stroke-opacity="0.8"/>
<circle cx="405.23" cy="1041.86" r="3" fill="#4682B4" stroke="#fff" stroke-width="0.6" fill-opacity="0.5" stroke-opacity="0.8"/>
<circle cx="420.78" cy="1052.57" r="3" fill="#4682B4" stroke="#fff" stroke-width="0.6" fill-opacity="0.5" stroke-opacity="0.8"/>
<circle cx="381.75" cy="1066.14" r="3" fill="#4682B4" stroke="#fff" stroke-width="0.6" fill-opacity="0.5" stroke-opacity="0.8"/>
<circle cx="426.14" cy="1049.88" r="3" fill="#4682B4" stroke="#fff" stroke-width="0.6" fill-opacity="0.5" stroke-opacity="0.8"/>
<circle cx="392.77" cy="1067.26" r="3" fill="#4682B4" stroke="#fff" stroke-width="0.6" fill-opacity="0.5" stroke-opacity="0.8"/>
<circle cx="306.42" cy="1125.73" r="3" fill="#4682B4" stroke="#fff" stroke-width="0.6" fill-opacity="0.5" stroke-opacity="0.8"/>
<circle cx="407.5" cy="1058.21" r="3" fill="#4682B4" stroke="#fff" stroke-width="0.6" fill-opacity="0.5" stroke-opacity="0.8"/>
<circle cx="442.32" cy="1024.02" r="3" fill="#4682B4" stroke="#fff" stroke-width="0.6" fill-opacity="0.5" stroke-opacity="0.8"/>
<circle cx="320.22" cy="1115.43" r="3" fill="#4682B4" stroke="#fff" stroke-width="0.6" fill-opacity="0.5" stroke-opacity="0.8"/>
<circle cx="416.88" cy="1049.46" r="3" fill="#4682B4" stroke="#fff" stroke-width="0.6" fill-opacity="0.5" stroke-opacity="0.8"/>
<circle cx="366.87" cy="1088.45" r="3" fill="#4682B4" stroke="#fff" stroke-width="0.6" fill-opacity="0.5" stroke-opacity="0.8"/>
<circle cx="355.85" cy="1093.79" r="3" fill="#4682B4" stroke="#fff" stroke-width="0.6" fill-opacity="0.5" stroke-opacity="0.8"/>
<circle cx="429.68" cy="1024.16" r="3" fill="#4682B4" stroke="#fff" stroke-width="0.6" fill-opacity="0.5" stroke-opacity="0.8"/>
<circle cx="412.16" cy="1055.77" r="3" fill="#4682B4" stroke="#fff" stroke-width="0.6" fill-opacity="0.5" stroke-opacity="0.8"/>
<circle cx="388.82" cy="1076.52" r="3" fill="#4682B4" stroke="#fff" stroke-width="0.6" fill-opacity="0.5" stroke-opacity="0.8"/>
<circle cx="408.78" cy="1050.66" r="3" fill="#4682B4" stroke="#fff" stroke-width="0.6" fill-opacity="0.5" stroke-opacity="0.8"/>
<circle cx="432.19" cy="1048.48" r="3" fill="#4682B4" stroke="#fff" stroke-width="0.6" fill-opacity="0.5" stroke-opacity="0.8"/>
<circle cx="388.96" cy="1056.28" r="3" fill="#4682B4" stroke="#fff" stroke-width="0.6" fill-opacity="0.5" stroke-opacity="0.8"/>
<circle cx="392.47" cy="1054.76" r="3" fill="#4682B4" stroke="#fff" stroke-width="0.6" fill-opacity="0.5" stroke-opacity="0.8"/>
<circle cx="421.45" cy="1053.88" r="3" fill="#4682B4" stroke="#fff" stroke-width="0.6" fill-opacity="0.5" stroke-opacity="0.8"/>
<circle cx="324.57" cy="1125.13" r="3" fill="#4682B4" stroke="#fff" stroke-width="0.6" fill-opacity="0.5" stroke-opacity="0.8"/>
<circle cx="430.87" cy="1031.07" r="3" fill="#4682B4" stroke="#fff" stroke-width="0.6" fill-opacity="0.5" stroke-opacity="0.8"/>
<circle cx="416.79" cy="1054.66" r="3" fill="#4682B4" stroke="#fff" stroke-width="0.6" fill-opacity="0.5" stroke-opacity="0.8"/>
<circle cx="431.43" cy="1040.35" r="3" fill="#4682B4" stroke="#fff" stroke-width="0.6" fill-opacity="0.5" stroke-opacity="0.8"/>
<circle cx="321.39" cy="1111.94" r="3" fill="#4682B4" stroke="#fff" stroke-width="0.6" fill-opacity="0.5" stroke-opacity="0.8"/>
<circle cx="439.76" cy="1028.04" r="3" fill="#4682B4" stroke="#fff" stroke-width="0.6" fill-opacity="0.5" stroke-opacity="0.8"/>
<circle cx="401.41" cy="1064.91" r="3" fill="#4682B4" stroke="#fff" stroke-width="0.6" fill-opacity="0.5" stroke-opacity="0.8"/>
<circle cx="367.98" cy="1112.07" r="3" fill="#4682B4" stroke="#fff" stroke-width="0.6" fill-opacity="0.5" stroke-opacity="0.8"/>
<circle cx="318.64" cy="1111.09" r="3" fill="#4682B4" stroke="#fff" stroke-width="0.6" fill-opacity="0.5" stroke-opacity="0.8"/>
<circle cx="424.27" cy="1042.64" r="3" fill="#4682B4" stroke="#fff" stroke-width="0.6" fill-opacity="0.5" stroke-opacity="0.8"/>
<circle cx="429.42" cy="1038.48" r="3" fill="#4682B4" stroke="#fff" stroke-width="0.6" fill-opacity="0.5" stroke-opacity="0.8"/>
<circle cx="361.08" cy="1074.84" r="3" fill="#4682B4" stroke="#fff" stroke-width="0.6" fill-opacity="0.5" stroke-opacity="0.8"/>
<circle cx="431.1" cy="1038.81" r="3" fill="#4682B4" stroke="#fff" stroke-width="0.6" fill-opacity="0.5" stroke-opacity="0.8"/>
<circle cx="409.04" cy="1061.26" r="3" fill="#4682B4" stroke="#fff" stroke-width="0.6" fill-opacity="0.5" stroke-opacity="0.8"/>
<circle cx="387.78" cy="1076.47" r="3" fill="#4682B4" stroke="#fff" stroke-width="0.6" fill-opacity="0.5" stroke-opacity="0.8"/>
<circle cx="400.1" cy="1062.37" r="3" fill="#4682B4" stroke="#fff" stroke-width="0.6" fill-opacity="0.5" stroke-opacity="0.8"/>
<circle cx="367.45" cy="1087.87" r="3" fill="#4682B4" stroke="#fff" stroke-width="0.6" fill-opacity="0.5" stroke-opacity="0.8"/>
<circle cx="400.63" cy="1079.44" r="3" fill="#4682B4" stroke="#fff" stroke-width="0.6" fill-opacity="0.5" stroke-opacity="0.8"/>
<circle cx="416.57" cy="1051.16" r="3" fill="#4682B4" stroke="#fff" stroke-width="0.6" fill-opacity="0.5" stroke-opacity="0.8"/>
<circle cx="396.58" cy="1068.05" r="3" fill="#4682B4" stroke="#fff" stroke-width="0.6" fill-opacity="0.5" stroke-opacity="0.8"/>
</g>
<rect x="276.7" y="937.3" width="174.4" height="201" fill="none" stroke="#333333" stroke-width="1"/>
<line x1="312" y1="1138.3" x2="312" y2="1142.3" stroke="#333333" stroke-width="1.3"/>
<text x="312" y="1156.8" font-size="14" text-anchor="middle" fill="#4D4D4D">0.25</text>
<line x1="357.88" y1="1138.3" x2="357.88" y2="1142.3" stroke="#333333" stroke-width="1.3"/>
<text x="357.88" y="1156.8" font-size="14" text-anchor="middle" fill="#4D4D4D">0.50</text>
<line x1="403.75" y1="1138.3" x2="403.75" y2="1142.3" stroke="#333333" stroke-width="1.3"/>
<text x="403.75" y="1156.8" font-size="14" text-anchor="middle" fill="#4D4D4D">0.75</text>
<line x1="449.62" y1="1138.3" x2="449.62" y2="1142.3" stroke="#333333" stroke-width="1.3"/>
<text x="449.62" y="1156.8" font-size="14" text-anchor="middle" fill="#4D4D4D">1.00</text>
<text x="285.3" y="977.2" font-size="14"><tspan font-style="italic">R</tspan> = 0.86</text>
<text x="285" y="998" font-size="14"><tspan font-style="italic">p</tspan> = 0.001</text>
<rect x="460.7" y="911.1" width="174.5" height="26.2" fill="#D9D9D9" stroke="#333333" stroke-width="1"/>
<text x="543.45" y="928.9" font-size="14" text-anchor="middle" fill="#1A1A1A">Temperate&#160; vs Virulent</text>
<rect x="460.7" y="937.3" width="174.5" height="201" fill="#fff"/>
<line x1="460.7" y1="1125.65" x2="635.2" y2="1125.65" stroke="#EDEDED" stroke-width="1.1"/>
<line x1="473.46" y1="937.3" x2="473.46" y2="1138.3" stroke="#EDEDED" stroke-width="1.1"/>
<line x1="460.7" y1="1073.15" x2="635.2" y2="1073.15" stroke="#EDEDED" stroke-width="1.1"/>
<line x1="519.34" y1="937.3" x2="519.34" y2="1138.3" stroke="#EDEDED" stroke-width="1.1"/>
<line x1="460.7" y1="1020.65" x2="635.2" y2="1020.65" stroke="#EDEDED" stroke-width="1.1"/>
<line x1="565.21" y1="937.3" x2="565.21" y2="1138.3" stroke="#EDEDED" stroke-width="1.1"/>
<line x1="460.7" y1="968.15" x2="635.2" y2="968.15" stroke="#EDEDED" stroke-width="1.1"/>
<line x1="611.09" y1="937.3" x2="611.09" y2="1138.3" stroke="#EDEDED" stroke-width="1.1"/>
<line x1="460.7" y1="1099.4" x2="635.2" y2="1099.4" stroke="#E7E7E7" stroke-width="1.5"/>
<line x1="496.4" y1="937.3" x2="496.4" y2="1138.3" stroke="#E7E7E7" stroke-width="1.5"/>
<line x1="460.7" y1="1046.9" x2="635.2" y2="1046.9" stroke="#E7E7E7" stroke-width="1.5"/>
<line x1="542.27" y1="937.3" x2="542.27" y2="1138.3" stroke="#E7E7E7" stroke-width="1.5"/>
<line x1="460.7" y1="994.4" x2="635.2" y2="994.4" stroke="#E7E7E7" stroke-width="1.5"/>
<line x1="588.15" y1="937.3" x2="588.15" y2="1138.3" stroke="#E7E7E7" stroke-width="1.5"/>
<line x1="460.7" y1="941.9" x2="635.2" y2="941.9" stroke="#E7E7E7" stroke-width="1.5"/>
<line x1="634.02" y1="937.3" x2="634.02" y2="1138.3" stroke="#E7E7E7" stroke-width="1.5"/>
<clipPath id="clipj2"><rect x="460.7" y="937.3" width="174.50000000000006" height="201.0"/></clipPath>
<g clip-path="url(#clipj2)">
<line x1="432.17" y1="1172.9" x2="670.72" y2="899.9" stroke="#B0B0B0" stroke-width="1.25" stroke-dasharray="5.5,4"/>
<circle cx="567.01" cy="1012.55" r="3" fill="#4682B4" stroke="#fff" stroke-width="0.6" fill-opacity="0.5" stroke-opacity="0.8"/>
<circle cx="600.28" cy="968.67" r="3" fill="#4682B4" stroke="#fff" stroke-width="0.6" fill-opacity="0.5" stroke-opacity="0.8"/>
<circle cx="608.62" cy="961.82" r="3" fill="#4682B4" stroke="#fff" stroke-width="0.6" fill-opacity="0.5" stroke-opacity="0.8"/>
<circle cx="606.48" cy="971.56" r="3" fill="#4682B4" stroke="#fff" stroke-width="0.6" fill-opacity="0.5" stroke-opacity="0.8"/>
<circle cx="616.38" cy="968.89" r="3" fill="#4682B4" stroke="#fff" stroke-width="0.6" fill-opacity="0.5" stroke-opacity="0.8"/>
<circle cx="527.88" cy="1055.44" r="3" fill="#4682B4" stroke="#fff" stroke-width="0.6" fill-opacity="0.5" stroke-opacity="0.8"/>
<circle cx="610.6" cy="979.94" r="3" fill="#4682B4" stroke="#fff" stroke-width="0.6" fill-opacity="0.5" stroke-opacity="0.8"/>
<circle cx="562.3" cy="1021.22" r="3" fill="#4682B4" stroke="#fff" stroke-width="0.6" fill-opacity="0.5" stroke-opacity="0.8"/>
<circle cx="567.29" cy="1027.92" r="3" fill="#4682B4" stroke="#fff" stroke-width="0.6" fill-opacity="0.5" stroke-opacity="0.8"/>
<circle cx="538.16" cy="1059.44" r="3" fill="#4682B4" stroke="#fff" stroke-width="0.6" fill-opacity="0.5" stroke-opacity="0.8"/>
<circle cx="570.95" cy="1029.15" r="3" fill="#4682B4" stroke="#fff" stroke-width="0.6" fill-opacity="0.5" stroke-opacity="0.8"/>
<circle cx="600.92" cy="981.11" r="3" fill="#4682B4" stroke="#fff" stroke-width="0.6" fill-opacity="0.5" stroke-opacity="0.8"/>
<circle cx="590.31" cy="988.82" r="3" fill="#4682B4" stroke="#fff" stroke-width="0.6" fill-opacity="0.5" stroke-opacity="0.8"/>
<circle cx="602.5" cy="967.23" r="3" fill="#4682B4" stroke="#fff" stroke-width="0.6" fill-opacity="0.5" stroke-opacity="0.8"/>
<circle cx="602.86" cy="987.24" r="3" fill="#4682B4" stroke="#fff" stroke-width="0.6" fill-opacity="0.5" stroke-opacity="0.8"/>
<circle cx="611.97" cy="984.94" r="3" fill="#4682B4" stroke="#fff" stroke-width="0.6" fill-opacity="0.5" stroke-opacity="0.8"/>
<circle cx="626.11" cy="967.13" r="3" fill="#4682B4" stroke="#fff" stroke-width="0.6" fill-opacity="0.5" stroke-opacity="0.8"/>
<circle cx="614" cy="962.7" r="3" fill="#4682B4" stroke="#fff" stroke-width="0.6" fill-opacity="0.5" stroke-opacity="0.8"/>
<circle cx="574" cy="1026.7" r="3" fill="#4682B4" stroke="#fff" stroke-width="0.6" fill-opacity="0.5" stroke-opacity="0.8"/>
<circle cx="607.13" cy="985.34" r="3" fill="#4682B4" stroke="#fff" stroke-width="0.6" fill-opacity="0.5" stroke-opacity="0.8"/>
<circle cx="606.85" cy="990.78" r="3" fill="#4682B4" stroke="#fff" stroke-width="0.6" fill-opacity="0.5" stroke-opacity="0.8"/>
<circle cx="590.54" cy="979.29" r="3" fill="#4682B4" stroke="#fff" stroke-width="0.6" fill-opacity="0.5" stroke-opacity="0.8"/>
<circle cx="529.19" cy="1052.14" r="3" fill="#4682B4" stroke="#fff" stroke-width="0.6" fill-opacity="0.5" stroke-opacity="0.8"/>
<circle cx="570.78" cy="1020.58" r="3" fill="#4682B4" stroke="#fff" stroke-width="0.6" fill-opacity="0.5" stroke-opacity="0.8"/>
<circle cx="592.42" cy="1001.82" r="3" fill="#4682B4" stroke="#fff" stroke-width="0.6" fill-opacity="0.5" stroke-opacity="0.8"/>
<circle cx="555.94" cy="1027.59" r="3" fill="#4682B4" stroke="#fff" stroke-width="0.6" fill-opacity="0.5" stroke-opacity="0.8"/>
<circle cx="559.51" cy="1027.65" r="3" fill="#4682B4" stroke="#fff" stroke-width="0.6" fill-opacity="0.5" stroke-opacity="0.8"/>
<circle cx="541.37" cy="1043.14" r="3" fill="#4682B4" stroke="#fff" stroke-width="0.6" fill-opacity="0.5" stroke-opacity="0.8"/>
<circle cx="509.72" cy="1083.98" r="3" fill="#4682B4" stroke="#fff" stroke-width="0.6" fill-opacity="0.5" stroke-opacity="0.8"/>
<circle cx="601.65" cy="975.63" r="3" fill="#4682B4" stroke="#fff" stroke-width="0.6" fill-opacity="0.5" stroke-opacity="0.8"/>
<circle cx="543.45" cy="1048.88" r="3" fill="#4682B4" stroke="#fff" stroke-width="0.6" fill-opacity="0.5" stroke-opacity="0.8"/>
<circle cx="558.71" cy="1015.01" r="3" fill="#4682B4" stroke="#fff" stroke-width="0.6" fill-opacity="0.5" stroke-opacity="0.8"/>
<circle cx="620.71" cy="976.88" r="3" fill="#4682B4" stroke="#fff" stroke-width="0.6" fill-opacity="0.5" stroke-opacity="0.8"/>
<circle cx="593.05" cy="984.81" r="3" fill="#4682B4" stroke="#fff" stroke-width="0.6" fill-opacity="0.5" stroke-opacity="0.8"/>
<circle cx="510.26" cy="1078.03" r="3" fill="#4682B4" stroke="#fff" stroke-width="0.6" fill-opacity="0.5" stroke-opacity="0.8"/>
<circle cx="627.03" cy="963.09" r="3" fill="#4682B4" stroke="#fff" stroke-width="0.6" fill-opacity="0.5" stroke-opacity="0.8"/>
<circle cx="604.17" cy="969.76" r="3" fill="#4682B4" stroke="#fff" stroke-width="0.6" fill-opacity="0.5" stroke-opacity="0.8"/>
<circle cx="568.83" cy="1016.75" r="3" fill="#4682B4" stroke="#fff" stroke-width="0.6" fill-opacity="0.5" stroke-opacity="0.8"/>
<circle cx="624.93" cy="962.75" r="3" fill="#4682B4" stroke="#fff" stroke-width="0.6" fill-opacity="0.5" stroke-opacity="0.8"/>
<circle cx="604.43" cy="998.05" r="3" fill="#4682B4" stroke="#fff" stroke-width="0.6" fill-opacity="0.5" stroke-opacity="0.8"/>
<circle cx="595.22" cy="983.78" r="3" fill="#4682B4" stroke="#fff" stroke-width="0.6" fill-opacity="0.5" stroke-opacity="0.8"/>
<circle cx="585.42" cy="1011.52" r="3" fill="#4682B4" stroke="#fff" stroke-width="0.6" fill-opacity="0.5" stroke-opacity="0.8"/>
<circle cx="585.39" cy="991.5" r="3" fill="#4682B4" stroke="#fff" stroke-width="0.6" fill-opacity="0.5" stroke-opacity="0.8"/>
<circle cx="604.76" cy="968.72" r="3" fill="#4682B4" stroke="#fff" stroke-width="0.6" fill-opacity="0.5" stroke-opacity="0.8"/>
<circle cx="626.47" cy="957.68" r="3" fill="#4682B4" stroke="#fff" stroke-width="0.6" fill-opacity="0.5" stroke-opacity="0.8"/>
<circle cx="603.45" cy="973.61" r="3" fill="#4682B4" stroke="#fff" stroke-width="0.6" fill-opacity="0.5" stroke-opacity="0.8"/>
<circle cx="540.71" cy="1035.73" r="3" fill="#4682B4" stroke="#fff" stroke-width="0.6" fill-opacity="0.5" stroke-opacity="0.8"/>
<circle cx="563.73" cy="1022.56" r="3" fill="#4682B4" stroke="#fff" stroke-width="0.6" fill-opacity="0.5" stroke-opacity="0.8"/>
<circle cx="604.86" cy="972.99" r="3" fill="#4682B4" stroke="#fff" stroke-width="0.6" fill-opacity="0.5" stroke-opacity="0.8"/>
<circle cx="617.27" cy="964.49" r="3" fill="#4682B4" stroke="#fff" stroke-width="0.6" fill-opacity="0.5" stroke-opacity="0.8"/>
<circle cx="584.07" cy="1010.31" r="3" fill="#4682B4" stroke="#fff" stroke-width="0.6" fill-opacity="0.5" stroke-opacity="0.8"/>
<circle cx="604.26" cy="977.23" r="3" fill="#4682B4" stroke="#fff" stroke-width="0.6" fill-opacity="0.5" stroke-opacity="0.8"/>
<circle cx="582.8" cy="990.65" r="3" fill="#4682B4" stroke="#fff" stroke-width="0.6" fill-opacity="0.5" stroke-opacity="0.8"/>
<circle cx="608.03" cy="982.38" r="3" fill="#4682B4" stroke="#fff" stroke-width="0.6" fill-opacity="0.5" stroke-opacity="0.8"/>
<circle cx="524.68" cy="1055.99" r="3" fill="#4682B4" stroke="#fff" stroke-width="0.6" fill-opacity="0.5" stroke-opacity="0.8"/>
<circle cx="592.14" cy="980.83" r="3" fill="#4682B4" stroke="#fff" stroke-width="0.6" fill-opacity="0.5" stroke-opacity="0.8"/>
<circle cx="536.81" cy="1040.35" r="3" fill="#4682B4" stroke="#fff" stroke-width="0.6" fill-opacity="0.5" stroke-opacity="0.8"/>
<circle cx="581.77" cy="979.86" r="3" fill="#4682B4" stroke="#fff" stroke-width="0.6" fill-opacity="0.5" stroke-opacity="0.8"/>
<circle cx="514.9" cy="1078.94" r="3" fill="#4682B4" stroke="#fff" stroke-width="0.6" fill-opacity="0.5" stroke-opacity="0.8"/>
<circle cx="593.66" cy="986.65" r="3" fill="#4682B4" stroke="#fff" stroke-width="0.6" fill-opacity="0.5" stroke-opacity="0.8"/>
<circle cx="592.06" cy="979.47" r="3" fill="#4682B4" stroke="#fff" stroke-width="0.6" fill-opacity="0.5" stroke-opacity="0.8"/>
<circle cx="559.91" cy="1019.13" r="3" fill="#4682B4" stroke="#fff" stroke-width="0.6" fill-opacity="0.5" stroke-opacity="0.8"/>
<circle cx="586.72" cy="983.36" r="3" fill="#4682B4" stroke="#fff" stroke-width="0.6" fill-opacity="0.5" stroke-opacity="0.8"/>
<circle cx="583.49" cy="995.21" r="3" fill="#4682B4" stroke="#fff" stroke-width="0.6" fill-opacity="0.5" stroke-opacity="0.8"/>
<circle cx="628.27" cy="945.45" r="3" fill="#4682B4" stroke="#fff" stroke-width="0.6" fill-opacity="0.5" stroke-opacity="0.8"/>
<circle cx="627.22" cy="977.48" r="3" fill="#4682B4" stroke="#fff" stroke-width="0.6" fill-opacity="0.5" stroke-opacity="0.8"/>
<circle cx="518.57" cy="1066.8" r="3" fill="#4682B4" stroke="#fff" stroke-width="0.6" fill-opacity="0.5" stroke-opacity="0.8"/>
<circle cx="603.25" cy="984.97" r="3" fill="#4682B4" stroke="#fff" stroke-width="0.6" fill-opacity="0.5" stroke-opacity="0.8"/>
<circle cx="577.85" cy="999.95" r="3" fill="#4682B4" stroke="#fff" stroke-width="0.6" fill-opacity="0.5" stroke-opacity="0.8"/>
<circle cx="577.35" cy="1007.94" r="3" fill="#4682B4" stroke="#fff" stroke-width="0.6" fill-opacity="0.5" stroke-opacity="0.8"/>
<circle cx="620" cy="969.17" r="3" fill="#4682B4" stroke="#fff" stroke-width="0.6" fill-opacity="0.5" stroke-opacity="0.8"/>
<circle cx="611.72" cy="986.89" r="3" fill="#4682B4" stroke="#fff" stroke-width="0.6" fill-opacity="0.5" stroke-opacity="0.8"/>
<circle cx="537.79" cy="1039.11" r="3" fill="#4682B4" stroke="#fff" stroke-width="0.6" fill-opacity="0.5" stroke-opacity="0.8"/>
<circle cx="594.8" cy="1000.22" r="3" fill="#4682B4" stroke="#fff" stroke-width="0.6" fill-opacity="0.5" stroke-opacity="0.8"/>
<circle cx="625.33" cy="955.64" r="3" fill="#4682B4" stroke="#fff" stroke-width="0.6" fill-opacity="0.5" stroke-opacity="0.8"/>
<circle cx="545.15" cy="1041.04" r="3" fill="#4682B4" stroke="#fff" stroke-width="0.6" fill-opacity="0.5" stroke-opacity="0.8"/>
<circle cx="620.32" cy="955.1" r="3" fill="#4682B4" stroke="#fff" stroke-width="0.6" fill-opacity="0.5" stroke-opacity="0.8"/>
<circle cx="627.25" cy="966.65" r="3" fill="#4682B4" stroke="#fff" stroke-width="0.6" fill-opacity="0.5" stroke-opacity="0.8"/>
<circle cx="624.92" cy="957.82" r="3" fill="#4682B4" stroke="#fff" stroke-width="0.6" fill-opacity="0.5" stroke-opacity="0.8"/>
<circle cx="590.47" cy="998.24" r="3" fill="#4682B4" stroke="#fff" stroke-width="0.6" fill-opacity="0.5" stroke-opacity="0.8"/>
<circle cx="577.86" cy="995.33" r="3" fill="#4682B4" stroke="#fff" stroke-width="0.6" fill-opacity="0.5" stroke-opacity="0.8"/>
<circle cx="595.63" cy="985.16" r="3" fill="#4682B4" stroke="#fff" stroke-width="0.6" fill-opacity="0.5" stroke-opacity="0.8"/>
<circle cx="519.98" cy="1069.41" r="3" fill="#4682B4" stroke="#fff" stroke-width="0.6" fill-opacity="0.5" stroke-opacity="0.8"/>
<circle cx="613.81" cy="963.47" r="3" fill="#4682B4" stroke="#fff" stroke-width="0.6" fill-opacity="0.5" stroke-opacity="0.8"/>
<circle cx="527.19" cy="1055.36" r="3" fill="#4682B4" stroke="#fff" stroke-width="0.6" fill-opacity="0.5" stroke-opacity="0.8"/>
<circle cx="580.3" cy="998.42" r="3" fill="#4682B4" stroke="#fff" stroke-width="0.6" fill-opacity="0.5" stroke-opacity="0.8"/>
<circle cx="616.47" cy="966.42" r="3" fill="#4682B4" stroke="#fff" stroke-width="0.6" fill-opacity="0.5" stroke-opacity="0.8"/>
<circle cx="606.04" cy="967.42" r="3" fill="#4682B4" stroke="#fff" stroke-width="0.6" fill-opacity="0.5" stroke-opacity="0.8"/>
<circle cx="615.85" cy="961.72" r="3" fill="#4682B4" stroke="#fff" stroke-width="0.6" fill-opacity="0.5" stroke-opacity="0.8"/>
<circle cx="597.88" cy="975.21" r="3" fill="#4682B4" stroke="#fff" stroke-width="0.6" fill-opacity="0.5" stroke-opacity="0.8"/>
<circle cx="589.74" cy="982.2" r="3" fill="#4682B4" stroke="#fff" stroke-width="0.6" fill-opacity="0.5" stroke-opacity="0.8"/>
<circle cx="565.9" cy="1019.69" r="3" fill="#4682B4" stroke="#fff" stroke-width="0.6" fill-opacity="0.5" stroke-opacity="0.8"/>
<circle cx="584.43" cy="1007.19" r="3" fill="#4682B4" stroke="#fff" stroke-width="0.6" fill-opacity="0.5" stroke-opacity="0.8"/>
<circle cx="621.38" cy="959.74" r="3" fill="#4682B4" stroke="#fff" stroke-width="0.6" fill-opacity="0.5" stroke-opacity="0.8"/>
<circle cx="616.66" cy="971.11" r="3" fill="#4682B4" stroke="#fff" stroke-width="0.6" fill-opacity="0.5" stroke-opacity="0.8"/>
<circle cx="599.53" cy="971.58" r="3" fill="#4682B4" stroke="#fff" stroke-width="0.6" fill-opacity="0.5" stroke-opacity="0.8"/>
<circle cx="568.82" cy="1011.89" r="3" fill="#4682B4" stroke="#fff" stroke-width="0.6" fill-opacity="0.5" stroke-opacity="0.8"/>
<circle cx="541.81" cy="1050.28" r="3" fill="#4682B4" stroke="#fff" stroke-width="0.6" fill-opacity="0.5" stroke-opacity="0.8"/>
<circle cx="554.49" cy="1022.71" r="3" fill="#4682B4" stroke="#fff" stroke-width="0.6" fill-opacity="0.5" stroke-opacity="0.8"/>
<circle cx="577.51" cy="999.62" r="3" fill="#4682B4" stroke="#fff" stroke-width="0.6" fill-opacity="0.5" stroke-opacity="0.8"/>
<circle cx="573.51" cy="1006.14" r="3" fill="#4682B4" stroke="#fff" stroke-width="0.6" fill-opacity="0.5" stroke-opacity="0.8"/>
<circle cx="586.58" cy="996.88" r="3" fill="#4682B4" stroke="#fff" stroke-width="0.6" fill-opacity="0.5" stroke-opacity="0.8"/>
<circle cx="597.72" cy="974.04" r="3" fill="#4682B4" stroke="#fff" stroke-width="0.6" fill-opacity="0.5" stroke-opacity="0.8"/>
<circle cx="581.51" cy="988.37" r="3" fill="#4682B4" stroke="#fff" stroke-width="0.6" fill-opacity="0.5" stroke-opacity="0.8"/>
<circle cx="590.9" cy="972.33" r="3" fill="#4682B4" stroke="#fff" stroke-width="0.6" fill-opacity="0.5" stroke-opacity="0.8"/>
<circle cx="610.23" cy="971.47" r="3" fill="#4682B4" stroke="#fff" stroke-width="0.6" fill-opacity="0.5" stroke-opacity="0.8"/>
<circle cx="626.12" cy="953.3" r="3" fill="#4682B4" stroke="#fff" stroke-width="0.6" fill-opacity="0.5" stroke-opacity="0.8"/>
<circle cx="601.8" cy="973.09" r="3" fill="#4682B4" stroke="#fff" stroke-width="0.6" fill-opacity="0.5" stroke-opacity="0.8"/>
<circle cx="620.9" cy="965.37" r="3" fill="#4682B4" stroke="#fff" stroke-width="0.6" fill-opacity="0.5" stroke-opacity="0.8"/>
<circle cx="610.24" cy="971.3" r="3" fill="#4682B4" stroke="#fff" stroke-width="0.6" fill-opacity="0.5" stroke-opacity="0.8"/>
<circle cx="618.38" cy="980.98" r="3" fill="#4682B4" stroke="#fff" stroke-width="0.6" fill-opacity="0.5" stroke-opacity="0.8"/>
<circle cx="590.01" cy="989.64" r="3" fill="#4682B4" stroke="#fff" stroke-width="0.6" fill-opacity="0.5" stroke-opacity="0.8"/>
<circle cx="590.39" cy="975.11" r="3" fill="#4682B4" stroke="#fff" stroke-width="0.6" fill-opacity="0.5" stroke-opacity="0.8"/>
<circle cx="544.18" cy="1055.17" r="3" fill="#4682B4" stroke="#fff" stroke-width="0.6" fill-opacity="0.5" stroke-opacity="0.8"/>
<circle cx="603.6" cy="987.82" r="3" fill="#4682B4" stroke="#fff" stroke-width="0.6" fill-opacity="0.5" stroke-opacity="0.8"/>
<circle cx="540.29" cy="1037.36" r="3" fill="#4682B4" stroke="#fff" stroke-width="0.6" fill-opacity="0.5" stroke-opacity="0.8"/>
<circle cx="622.89" cy="954.35" r="3" fill="#4682B4" stroke="#fff" stroke-width="0.6" fill-opacity="0.5" stroke-opacity="0.8"/>
<circle cx="597.5" cy="984.76" r="3" fill="#4682B4" stroke="#fff" stroke-width="0.6" fill-opacity="0.5" stroke-opacity="0.8"/>
<circle cx="600.54" cy="974.27" r="3" fill="#4682B4" stroke="#fff" stroke-width="0.6" fill-opacity="0.5" stroke-opacity="0.8"/>
<circle cx="590.71" cy="986.72" r="3" fill="#4682B4" stroke="#fff" stroke-width="0.6" fill-opacity="0.5" stroke-opacity="0.8"/>
<circle cx="597.76" cy="983.77" r="3" fill="#4682B4" stroke="#fff" stroke-width="0.6" fill-opacity="0.5" stroke-opacity="0.8"/>
<circle cx="612.9" cy="974.26" r="3" fill="#4682B4" stroke="#fff" stroke-width="0.6" fill-opacity="0.5" stroke-opacity="0.8"/>
<circle cx="549.02" cy="1034.18" r="3" fill="#4682B4" stroke="#fff" stroke-width="0.6" fill-opacity="0.5" stroke-opacity="0.8"/>
<circle cx="567.1" cy="1026.63" r="3" fill="#4682B4" stroke="#fff" stroke-width="0.6" fill-opacity="0.5" stroke-opacity="0.8"/>
<circle cx="622.29" cy="974.82" r="3" fill="#4682B4" stroke="#fff" stroke-width="0.6" fill-opacity="0.5" stroke-opacity="0.8"/>
<circle cx="625.16" cy="963.18" r="3" fill="#4682B4" stroke="#fff" stroke-width="0.6" fill-opacity="0.5" stroke-opacity="0.8"/>
<circle cx="614.5" cy="969.13" r="3" fill="#4682B4" stroke="#fff" stroke-width="0.6" fill-opacity="0.5" stroke-opacity="0.8"/>
<circle cx="530.97" cy="1065.11" r="3" fill="#4682B4" stroke="#fff" stroke-width="0.6" fill-opacity="0.5" stroke-opacity="0.8"/>
<circle cx="598.15" cy="997.17" r="3" fill="#4682B4" stroke="#fff" stroke-width="0.6" fill-opacity="0.5" stroke-opacity="0.8"/>
<circle cx="587.88" cy="999.19" r="3" fill="#4682B4" stroke="#fff" stroke-width="0.6" fill-opacity="0.5" stroke-opacity="0.8"/>
<circle cx="625.81" cy="946.29" r="3" fill="#4682B4" stroke="#fff" stroke-width="0.6" fill-opacity="0.5" stroke-opacity="0.8"/>
<circle cx="623.43" cy="960.77" r="3" fill="#4682B4" stroke="#fff" stroke-width="0.6" fill-opacity="0.5" stroke-opacity="0.8"/>
<circle cx="621.58" cy="951.06" r="3" fill="#4682B4" stroke="#fff" stroke-width="0.6" fill-opacity="0.5" stroke-opacity="0.8"/>
<circle cx="526.22" cy="1061.79" r="3" fill="#4682B4" stroke="#fff" stroke-width="0.6" fill-opacity="0.5" stroke-opacity="0.8"/>
<circle cx="624.14" cy="966.62" r="3" fill="#4682B4" stroke="#fff" stroke-width="0.6" fill-opacity="0.5" stroke-opacity="0.8"/>
<circle cx="529.02" cy="1056.5" r="3" fill="#4682B4" stroke="#fff" stroke-width="0.6" fill-opacity="0.5" stroke-opacity="0.8"/>
<circle cx="539.81" cy="1031.88" r="3" fill="#4682B4" stroke="#fff" stroke-width="0.6" fill-opacity="0.5" stroke-opacity="0.8"/>
<circle cx="619.02" cy="949.78" r="3" fill="#4682B4" stroke="#fff" stroke-width="0.6" fill-opacity="0.5" stroke-opacity="0.8"/>
<circle cx="518.83" cy="1069.77" r="3" fill="#4682B4" stroke="#fff" stroke-width="0.6" fill-opacity="0.5" stroke-opacity="0.8"/>
<circle cx="559.58" cy="1043.18" r="3" fill="#4682B4" stroke="#fff" stroke-width="0.6" fill-opacity="0.5" stroke-opacity="0.8"/>
<circle cx="624.56" cy="947.12" r="3" fill="#4682B4" stroke="#fff" stroke-width="0.6" fill-opacity="0.5" stroke-opacity="0.8"/>
<circle cx="611.09" cy="963.18" r="3" fill="#4682B4" stroke="#fff" stroke-width="0.6" fill-opacity="0.5" stroke-opacity="0.8"/>
<circle cx="596.29" cy="986.56" r="3" fill="#4682B4" stroke="#fff" stroke-width="0.6" fill-opacity="0.5" stroke-opacity="0.8"/>
<circle cx="608.48" cy="972.34" r="3" fill="#4682B4" stroke="#fff" stroke-width="0.6" fill-opacity="0.5" stroke-opacity="0.8"/>
<circle cx="584.91" cy="997.55" r="3" fill="#4682B4" stroke="#fff" stroke-width="0.6" fill-opacity="0.5" stroke-opacity="0.8"/>
<circle cx="586.31" cy="994.27" r="3" fill="#4682B4" stroke="#fff" stroke-width="0.6" fill-opacity="0.5" stroke-opacity="0.8"/>
<circle cx="588.91" cy="979.27" r="3" fill="#4682B4" stroke="#fff" stroke-width="0.6" fill-opacity="0.5" stroke-opacity="0.8"/>
<circle cx="612.9" cy="965.81" r="3" fill="#4682B4" stroke="#fff" stroke-width="0.6" fill-opacity="0.5" stroke-opacity="0.8"/>
<circle cx="615.55" cy="960.98" r="3" fill="#4682B4" stroke="#fff" stroke-width="0.6" fill-opacity="0.5" stroke-opacity="0.8"/>
<circle cx="622.38" cy="950.57" r="3" fill="#4682B4" stroke="#fff" stroke-width="0.6" fill-opacity="0.5" stroke-opacity="0.8"/>
<circle cx="605.02" cy="968.77" r="3" fill="#4682B4" stroke="#fff" stroke-width="0.6" fill-opacity="0.5" stroke-opacity="0.8"/>
<circle cx="543.2" cy="1060.31" r="3" fill="#4682B4" stroke="#fff" stroke-width="0.6" fill-opacity="0.5" stroke-opacity="0.8"/>
<circle cx="503.69" cy="1085.41" r="3" fill="#4682B4" stroke="#fff" stroke-width="0.6" fill-opacity="0.5" stroke-opacity="0.8"/>
<circle cx="612.83" cy="956.67" r="3" fill="#4682B4" stroke="#fff" stroke-width="0.6" fill-opacity="0.5" stroke-opacity="0.8"/>
<circle cx="612.78" cy="963.58" r="3" fill="#4682B4" stroke="#fff" stroke-width="0.6" fill-opacity="0.5" stroke-opacity="0.8"/>
<circle cx="554.15" cy="1025.36" r="3" fill="#4682B4" stroke="#fff" stroke-width="0.6" fill-opacity="0.5" stroke-opacity="0.8"/>
<circle cx="612.55" cy="980.39" r="3" fill="#4682B4" stroke="#fff" stroke-width="0.6" fill-opacity="0.5" stroke-opacity="0.8"/>
<circle cx="594.19" cy="1000.18" r="3" fill="#4682B4" stroke="#fff" stroke-width="0.6" fill-opacity="0.5" stroke-opacity="0.8"/>
<circle cx="612.27" cy="950.94" r="3" fill="#4682B4" stroke="#fff" stroke-width="0.6" fill-opacity="0.5" stroke-opacity="0.8"/>
<circle cx="570.15" cy="1010.88" r="3" fill="#4682B4" stroke="#fff" stroke-width="0.6" fill-opacity="0.5" stroke-opacity="0.8"/>
<circle cx="556.41" cy="1014.2" r="3" fill="#4682B4" stroke="#fff" stroke-width="0.6" fill-opacity="0.5" stroke-opacity="0.8"/>
<circle cx="507.57" cy="1073.05" r="3" fill="#4682B4" stroke="#fff" stroke-width="0.6" fill-opacity="0.5" stroke-opacity="0.8"/>
<circle cx="609.08" cy="981.06" r="3" fill="#4682B4" stroke="#fff" stroke-width="0.6" fill-opacity="0.5" stroke-opacity="0.8"/>
<circle cx="603.23" cy="959" r="3" fill="#4682B4" stroke="#fff" stroke-width="0.6" fill-opacity="0.5" stroke-opacity="0.8"/>
<circle cx="625.63" cy="950.05" r="3" fill="#4682B4" stroke="#fff" stroke-width="0.6" fill-opacity="0.5" stroke-opacity="0.8"/>
<circle cx="592.77" cy="995.15" r="3" fill="#4682B4" stroke="#fff" stroke-width="0.6" fill-opacity="0.5" stroke-opacity="0.8"/>
<circle cx="587.76" cy="995.68" r="3" fill="#4682B4" stroke="#fff" stroke-width="0.6" fill-opacity="0.5" stroke-opacity="0.8"/>
<circle cx="602.69" cy="987.26" r="3" fill="#4682B4" stroke="#fff" stroke-width="0.6" fill-opacity="0.5" stroke-opacity="0.8"/>
<circle cx="606.61" cy="983.13" r="3" fill="#4682B4" stroke="#fff" stroke-width="0.6" fill-opacity="0.5" stroke-opacity="0.8"/>
<circle cx="619.83" cy="958.52" r="3" fill="#4682B4" stroke="#fff" stroke-width="0.6" fill-opacity="0.5" stroke-opacity="0.8"/>
<circle cx="555" cy="1021.18" r="3" fill="#4682B4" stroke="#fff" stroke-width="0.6" fill-opacity="0.5" stroke-opacity="0.8"/>
<circle cx="611.52" cy="977.64" r="3" fill="#4682B4" stroke="#fff" stroke-width="0.6" fill-opacity="0.5" stroke-opacity="0.8"/>
<circle cx="564.35" cy="1022.69" r="3" fill="#4682B4" stroke="#fff" stroke-width="0.6" fill-opacity="0.5" stroke-opacity="0.8"/>
<circle cx="602.43" cy="988.16" r="3" fill="#4682B4" stroke="#fff" stroke-width="0.6" fill-opacity="0.5" stroke-opacity="0.8"/>
<circle cx="592.71" cy="987.78" r="3" fill="#4682B4" stroke="#fff" stroke-width="0.6" fill-opacity="0.5" stroke-opacity="0.8"/>
<circle cx="606.71" cy="977.14" r="3" fill="#4682B4" stroke="#fff" stroke-width="0.6" fill-opacity="0.5" stroke-opacity="0.8"/>
<circle cx="546.93" cy="1041.7" r="3" fill="#4682B4" stroke="#fff" stroke-width="0.6" fill-opacity="0.5" stroke-opacity="0.8"/>
<circle cx="595.43" cy="980.87" r="3" fill="#4682B4" stroke="#fff" stroke-width="0.6" fill-opacity="0.5" stroke-opacity="0.8"/>
<circle cx="523.69" cy="1059.66" r="3" fill="#4682B4" stroke="#fff" stroke-width="0.6" fill-opacity="0.5" stroke-opacity="0.8"/>
<circle cx="565.28" cy="1022.45" r="3" fill="#4682B4" stroke="#fff" stroke-width="0.6" fill-opacity="0.5" stroke-opacity="0.8"/>
<circle cx="558.4" cy="1057.44" r="3" fill="#4682B4" stroke="#fff" stroke-width="0.6" fill-opacity="0.5" stroke-opacity="0.8"/>
<circle cx="553.07" cy="1048.56" r="3" fill="#4682B4" stroke="#fff" stroke-width="0.6" fill-opacity="0.5" stroke-opacity="0.8"/>
<circle cx="608.82" cy="965.33" r="3" fill="#4682B4" stroke="#fff" stroke-width="0.6" fill-opacity="0.5" stroke-opacity="0.8"/>
<circle cx="606.04" cy="981.51" r="3" fill="#4682B4" stroke="#fff" stroke-width="0.6" fill-opacity="0.5" stroke-opacity="0.8"/>
<circle cx="605.09" cy="973.53" r="3" fill="#4682B4" stroke="#fff" stroke-width="0.6" fill-opacity="0.5" stroke-opacity="0.8"/>
<circle cx="588.14" cy="990.55" r="3" fill="#4682B4" stroke="#fff" stroke-width="0.6" fill-opacity="0.5" stroke-opacity="0.8"/>
<circle cx="605.55" cy="989.88" r="3" fill="#4682B4" stroke="#fff" stroke-width="0.6" fill-opacity="0.5" stroke-opacity="0.8"/>
<circle cx="554.57" cy="1028.3" r="3" fill="#4682B4" stroke="#fff" stroke-width="0.6" fill-opacity="0.5" stroke-opacity="0.8"/>
<circle cx="564.59" cy="1034.08" r="3" fill="#4682B4" stroke="#fff" stroke-width="0.6" fill-opacity="0.5" stroke-opacity="0.8"/>
<circle cx="598.36" cy="981.28" r="3" fill="#4682B4" stroke="#fff" stroke-width="0.6" fill-opacity="0.5" stroke-opacity="0.8"/>
<circle cx="628.17" cy="954.4" r="3" fill="#4682B4" stroke="#fff" stroke-width="0.6" fill-opacity="0.5" stroke-opacity="0.8"/>
<circle cx="591.66" cy="1007.35" r="3" fill="#4682B4" stroke="#fff" stroke-width="0.6" fill-opacity="0.5" stroke-opacity="0.8"/>
<circle cx="598.49" cy="985.54" r="3" fill="#4682B4" stroke="#fff" stroke-width="0.6" fill-opacity="0.5" stroke-opacity="0.8"/>
<circle cx="624.98" cy="952.84" r="3" fill="#4682B4" stroke="#fff" stroke-width="0.6" fill-opacity="0.5" stroke-opacity="0.8"/>
<circle cx="602.64" cy="964.55" r="3" fill="#4682B4" stroke="#fff" stroke-width="0.6" fill-opacity="0.5" stroke-opacity="0.8"/>
<circle cx="619.47" cy="969.32" r="3" fill="#4682B4" stroke="#fff" stroke-width="0.6" fill-opacity="0.5" stroke-opacity="0.8"/>
<circle cx="583.17" cy="1009.38" r="3" fill="#4682B4" stroke="#fff" stroke-width="0.6" fill-opacity="0.5" stroke-opacity="0.8"/>
<circle cx="577.62" cy="1015.31" r="3" fill="#4682B4" stroke="#fff" stroke-width="0.6" fill-opacity="0.5" stroke-opacity="0.8"/>
<circle cx="586.83" cy="996.81" r="3" fill="#4682B4" stroke="#fff" stroke-width="0.6" fill-opacity="0.5" stroke-opacity="0.8"/>
<circle cx="539.21" cy="1048.06" r="3" fill="#4682B4" stroke="#fff" stroke-width="0.6" fill-opacity="0.5" stroke-opacity="0.8"/>
<circle cx="495.27" cy="1098.35" r="3" fill="#4682B4" stroke="#fff" stroke-width="0.6" fill-opacity="0.5" stroke-opacity="0.8"/>
<circle cx="591.19" cy="996.27" r="3" fill="#4682B4" stroke="#fff" stroke-width="0.6" fill-opacity="0.5" stroke-opacity="0.8"/>
<circle cx="595.04" cy="979.06" r="3" fill="#4682B4" stroke="#fff" stroke-width="0.6" fill-opacity="0.5" stroke-opacity="0.8"/>
<circle cx="603.07" cy="985.36" r="3" fill="#4682B4" stroke="#fff" stroke-width="0.6" fill-opacity="0.5" stroke-opacity="0.8"/>
<circle cx="581.86" cy="997.02" r="3" fill="#4682B4" stroke="#fff" stroke-width="0.6" fill-opacity="0.5" stroke-opacity="0.8"/>
<circle cx="520.99" cy="1066.71" r="3" fill="#4682B4" stroke="#fff" stroke-width="0.6" fill-opacity="0.5" stroke-opacity="0.8"/>
<circle cx="593.92" cy="1002.86" r="3" fill="#4682B4" stroke="#fff" stroke-width="0.6" fill-opacity="0.5" stroke-opacity="0.8"/>
<circle cx="502.1" cy="1094.12" r="3" fill="#4682B4" stroke="#fff" stroke-width="0.6" fill-opacity="0.5" stroke-opacity="0.8"/>
<circle cx="506.32" cy="1089.08" r="3" fill="#4682B4" stroke="#fff" stroke-width="0.6" fill-opacity="0.5" stroke-opacity="0.8"/>
<circle cx="568.14" cy="1017.54" r="3" fill="#4682B4" stroke="#fff" stroke-width="0.6" fill-opacity="0.5" stroke-opacity="0.8"/>
<circle cx="499.77" cy="1084.29" r="3" fill="#4682B4" stroke="#fff" stroke-width="0.6" fill-opacity="0.5" stroke-opacity="0.8"/>
<circle cx="592.44" cy="972.7" r="3" fill="#4682B4" stroke="#fff" stroke-width="0.6" fill-opacity="0.5" stroke-opacity="0.8"/>
<circle cx="601.57" cy="966.07" r="3" fill="#4682B4" stroke="#fff" stroke-width="0.6" fill-opacity="0.5" stroke-opacity="0.8"/>
<circle cx="621.31" cy="953.37" r="3" fill="#4682B4" stroke="#fff" stroke-width="0.6" fill-opacity="0.5" stroke-opacity="0.8"/>
<circle cx="620.54" cy="953.49" r="3" fill="#4682B4" stroke="#fff" stroke-width="0.6" fill-opacity="0.5" stroke-opacity="0.8"/>
<circle cx="608.84" cy="974.22" r="3" fill="#4682B4" stroke="#fff" stroke-width="0.6" fill-opacity="0.5" stroke-opacity="0.8"/>
<circle cx="616.85" cy="962.83" r="3" fill="#4682B4" stroke="#fff" stroke-width="0.6" fill-opacity="0.5" stroke-opacity="0.8"/>
<circle cx="607.54" cy="986.13" r="3" fill="#4682B4" stroke="#fff" stroke-width="0.6" fill-opacity="0.5" stroke-opacity="0.8"/>
<circle cx="548.06" cy="1031.2" r="3" fill="#4682B4" stroke="#fff" stroke-width="0.6" fill-opacity="0.5" stroke-opacity="0.8"/>
<circle cx="592.93" cy="980.81" r="3" fill="#4682B4" stroke="#fff" stroke-width="0.6" fill-opacity="0.5" stroke-opacity="0.8"/>
<circle cx="580.78" cy="996.73" r="3" fill="#4682B4" stroke="#fff" stroke-width="0.6" fill-opacity="0.5" stroke-opacity="0.8"/>
<circle cx="604.25" cy="967.68" r="3" fill="#4682B4" stroke="#fff" stroke-width="0.6" fill-opacity="0.5" stroke-opacity="0.8"/>
<circle cx="585.53" cy="1007.06" r="3" fill="#4682B4" stroke="#fff" stroke-width="0.6" fill-opacity="0.5" stroke-opacity="0.8"/>
<circle cx="506.62" cy="1085.84" r="3" fill="#4682B4" stroke="#fff" stroke-width="0.6" fill-opacity="0.5" stroke-opacity="0.8"/>
<circle cx="594.78" cy="992.38" r="3" fill="#4682B4" stroke="#fff" stroke-width="0.6" fill-opacity="0.5" stroke-opacity="0.8"/>
<circle cx="516" cy="1080.39" r="3" fill="#4682B4" stroke="#fff" stroke-width="0.6" fill-opacity="0.5" stroke-opacity="0.8"/>
<circle cx="568.84" cy="1033.09" r="3" fill="#4682B4" stroke="#fff" stroke-width="0.6" fill-opacity="0.5" stroke-opacity="0.8"/>
<circle cx="497.92" cy="1098.61" r="3" fill="#4682B4" stroke="#fff" stroke-width="0.6" fill-opacity="0.5" stroke-opacity="0.8"/>
<circle cx="590.23" cy="982.74" r="3" fill="#4682B4" stroke="#fff" stroke-width="0.6" fill-opacity="0.5" stroke-opacity="0.8"/>
<circle cx="535.58" cy="1049.96" r="3" fill="#4682B4" stroke="#fff" stroke-width="0.6" fill-opacity="0.5" stroke-opacity="0.8"/>
<circle cx="616.65" cy="972.69" r="3" fill="#4682B4" stroke="#fff" stroke-width="0.6" fill-opacity="0.5" stroke-opacity="0.8"/>
<circle cx="602.9" cy="993.86" r="3" fill="#4682B4" stroke="#fff" stroke-width="0.6" fill-opacity="0.5" stroke-opacity="0.8"/>
<circle cx="625.32" cy="946.46" r="3" fill="#4682B4" stroke="#fff" stroke-width="0.6" fill-opacity="0.5" stroke-opacity="0.8"/>
<circle cx="627.06" cy="960.65" r="3" fill="#4682B4" stroke="#fff" stroke-width="0.6" fill-opacity="0.5" stroke-opacity="0.8"/>
<circle cx="611.56" cy="981.11" r="3" fill="#4682B4" stroke="#fff" stroke-width="0.6" fill-opacity="0.5" stroke-opacity="0.8"/>
<circle cx="586.96" cy="989.24" r="3" fill="#4682B4" stroke="#fff" stroke-width="0.6" fill-opacity="0.5" stroke-opacity="0.8"/>
<circle cx="588.99" cy="984.38" r="3" fill="#4682B4" stroke="#fff" stroke-width="0.6" fill-opacity="0.5" stroke-opacity="0.8"/>
<circle cx="538.79" cy="1042.17" r="3" fill="#4682B4" stroke="#fff" stroke-width="0.6" fill-opacity="0.5" stroke-opacity="0.8"/>
<circle cx="608.08" cy="974.81" r="3" fill="#4682B4" stroke="#fff" stroke-width="0.6" fill-opacity="0.5" stroke-opacity="0.8"/>
<circle cx="520.42" cy="1067.68" r="3" fill="#4682B4" stroke="#fff" stroke-width="0.6" fill-opacity="0.5" stroke-opacity="0.8"/>
<circle cx="508.59" cy="1088.22" r="3" fill="#4682B4" stroke="#fff" stroke-width="0.6" fill-opacity="0.5" stroke-opacity="0.8"/>
<circle cx="623.36" cy="947.14" r="3" fill="#4682B4" stroke="#fff" stroke-width="0.6" fill-opacity="0.5" stroke-opacity="0.8"/>
<circle cx="587.37" cy="997.54" r="3" fill="#4682B4" stroke="#fff" stroke-width="0.6" fill-opacity="0.5" stroke-opacity="0.8"/>
<circle cx="585.4" cy="1010.49" r="3" fill="#4682B4" stroke="#fff" stroke-width="0.6" fill-opacity="0.5" stroke-opacity="0.8"/>
<circle cx="540.19" cy="1055.01" r="3" fill="#4682B4" stroke="#fff" stroke-width="0.6" fill-opacity="0.5" stroke-opacity="0.8"/>
<circle cx="575.75" cy="1005.06" r="3" fill="#4682B4" stroke="#fff" stroke-width="0.6" fill-opacity="0.5" stroke-opacity="0.8"/>
<circle cx="625.67" cy="951.14" r="3" fill="#4682B4" stroke="#fff" stroke-width="0.6" fill-opacity="0.5" stroke-opacity="0.8"/>
<circle cx="618.01" cy="960.38" r="3" fill="#4682B4" stroke="#fff" stroke-width="0.6" fill-opacity="0.5" stroke-opacity="0.8"/>
<circle cx="621.12" cy="952.03" r="3" fill="#4682B4" stroke="#fff" stroke-width="0.6" fill-opacity="0.5" stroke-opacity="0.8"/>
<circle cx="524.51" cy="1058.35" r="3" fill="#4682B4" stroke="#fff" stroke-width="0.6" fill-opacity="0.5" stroke-opacity="0.8"/>
</g>
<rect x="460.7" y="937.3" width="174.5" height="201" fill="none" stroke="#333333" stroke-width="1"/>
<line x1="496.4" y1="1138.3" x2="496.4" y2="1142.3" stroke="#333333" stroke-width="1.3"/>
<text x="496.4" y="1156.8" font-size="14" text-anchor="middle" fill="#4D4D4D">0.25</text>
<line x1="542.27" y1="1138.3" x2="542.27" y2="1142.3" stroke="#333333" stroke-width="1.3"/>
<text x="542.27" y="1156.8" font-size="14" text-anchor="middle" fill="#4D4D4D">0.50</text>
<line x1="588.15" y1="1138.3" x2="588.15" y2="1142.3" stroke="#333333" stroke-width="1.3"/>
<text x="588.15" y="1156.8" font-size="14" text-anchor="middle" fill="#4D4D4D">0.75</text>
<line x1="634.02" y1="1138.3" x2="634.02" y2="1142.3" stroke="#333333" stroke-width="1.3"/>
<text x="634.02" y="1156.8" font-size="14" text-anchor="middle" fill="#4D4D4D">1.00</text>
<text x="469.3" y="977.2" font-size="14"><tspan font-style="italic">R</tspan> = 0.95</text>
<text x="469" y="998" font-size="14"><tspan font-style="italic">p</tspan> = 0.001</text>
<line x1="87.9" y1="1099.4" x2="91.9" y2="1099.4" stroke="#333333" stroke-width="1.3"/>
<text x="84" y="1105" font-size="14" text-anchor="end" fill="#4D4D4D">0.25</text>
<line x1="87.9" y1="1046.9" x2="91.9" y2="1046.9" stroke="#333333" stroke-width="1.3"/>
<text x="84" y="1052.5" font-size="14" text-anchor="end" fill="#4D4D4D">0.50</text>
<line x1="87.9" y1="994.4" x2="91.9" y2="994.4" stroke="#333333" stroke-width="1.3"/>
<text x="84" y="1000" font-size="14" text-anchor="end" fill="#4D4D4D">0.75</text>
<line x1="87.9" y1="941.9" x2="91.9" y2="941.9" stroke="#333333" stroke-width="1.3"/>
<text x="84" y="947.5" font-size="14" text-anchor="end" fill="#4D4D4D">1.00</text>
<text x="363.4" y="1189.8" font-size="16.8" text-anchor="middle">Distance in first matrix</text>
<text x="28.9" y="1038" font-size="16.8" text-anchor="middle" transform="rotate(-90 28.9 1038)">Distance in second matrix</text>
<text x="653" y="908.2" font-size="22" font-weight="bold">k</text>
<rect x="722.3" y="937.5" width="181" height="201.1" fill="#fff"/>
<line x1="722.3" y1="1106.59" x2="903.3" y2="1106.59" stroke="#EDEDED" stroke-width="1.1"/>
<line x1="722.3" y1="1060.96" x2="903.3" y2="1060.96" stroke="#EDEDED" stroke-width="1.1"/>
<line x1="722.3" y1="1015.34" x2="903.3" y2="1015.34" stroke="#EDEDED" stroke-width="1.1"/>
<line x1="722.3" y1="969.71" x2="903.3" y2="969.71" stroke="#EDEDED" stroke-width="1.1"/>
<line x1="722.3" y1="1129.4" x2="903.3" y2="1129.4" stroke="#E7E7E7" stroke-width="1.5"/>
<line x1="722.3" y1="1083.78" x2="903.3" y2="1083.78" stroke="#E7E7E7" stroke-width="1.5"/>
<line x1="722.3" y1="1038.15" x2="903.3" y2="1038.15" stroke="#E7E7E7" stroke-width="1.5"/>
<line x1="722.3" y1="992.53" x2="903.3" y2="992.53" stroke="#E7E7E7" stroke-width="1.5"/>
<line x1="722.3" y1="946.9" x2="903.3" y2="946.9" stroke="#E7E7E7" stroke-width="1.5"/>
<line x1="756.2" y1="937.5" x2="756.2" y2="1138.6" stroke="#E7E7E7" stroke-width="1.5"/>
<line x1="813" y1="937.5" x2="813" y2="1138.6" stroke="#E7E7E7" stroke-width="1.5"/>
<line x1="869.6" y1="937.5" x2="869.6" y2="1138.6" stroke="#E7E7E7" stroke-width="1.5"/>
<rect x="736.9" y="1072" width="38.6" height="56.6" fill="#C06A69" stroke="#fff" stroke-width="0.9"/>
<text x="756.2" y="1105.7" font-size="15.2" text-anchor="middle" fill="#fff">32%</text>
<rect x="736.9" y="1036.7" width="38.6" height="35.3" fill="#A0A0A0" stroke="#fff" stroke-width="0.9"/>
<text x="756.2" y="1059.75" font-size="15.2" text-anchor="middle" fill="#fff">19%</text>
<rect x="736.9" y="980.5" width="38.6" height="56.2" fill="#2CA24A" stroke="#fff" stroke-width="0.9"/>
<text x="756.2" y="1014" font-size="15.2" text-anchor="middle" fill="#fff">31%</text>
<rect x="736.9" y="947.4" width="38.6" height="33.1" fill="#1770B8" stroke="#fff" stroke-width="0.9"/>
<text x="756.2" y="969.35" font-size="15.2" text-anchor="middle" fill="#fff">19%</text>
<rect x="793.7" y="1054.5" width="38.6" height="74.1" fill="#C06A69" stroke="#fff" stroke-width="0.9"/>
<text x="813" y="1096.95" font-size="15.2" text-anchor="middle" fill="#fff">41%</text>
<rect x="793.7" y="1015.8" width="38.6" height="38.7" fill="#A0A0A0" stroke="#fff" stroke-width="0.9"/>
<text x="813" y="1040.55" font-size="15.2" text-anchor="middle" fill="#fff">21%</text>
<rect x="793.7" y="979.2" width="38.6" height="36.6" fill="#2CA24A" stroke="#fff" stroke-width="0.9"/>
<text x="813" y="1002.9" font-size="15.2" text-anchor="middle" fill="#fff">20%</text>
<rect x="793.7" y="947.4" width="38.6" height="31.8" fill="#1770B8" stroke="#fff" stroke-width="0.9"/>
<text x="813" y="968.7" font-size="15.2" text-anchor="middle" fill="#fff">18%</text>
<rect x="850.3" y="1051.1" width="38.6" height="77.5" fill="#C06A69" stroke="#fff" stroke-width="0.9"/>
<text x="869.6" y="1095.25" font-size="15.2" text-anchor="middle" fill="#fff">43%</text>
<rect x="850.3" y="1008" width="38.6" height="43.1" fill="#A0A0A0" stroke="#fff" stroke-width="0.9"/>
<text x="869.6" y="1034.95" font-size="15.2" text-anchor="middle" fill="#fff">24%</text>
<rect x="850.3" y="979.2" width="38.6" height="28.8" fill="#2CA24A" stroke="#fff" stroke-width="0.9"/>
<text x="869.6" y="999" font-size="15.2" text-anchor="middle" fill="#fff">16%</text>
<rect x="850.3" y="947.4" width="38.6" height="31.8" fill="#1770B8" stroke="#fff" stroke-width="0.9"/>
<text x="869.6" y="968.7" font-size="15.2" text-anchor="middle" fill="#fff">18%</text>
<rect x="722.3" y="937.5" width="181" height="201.1" fill="none" stroke="#333333" stroke-width="1"/>
<line x1="718.3" y1="1129.4" x2="722.3" y2="1129.4" stroke="#333333" stroke-width="1.3"/>
<text x="714.5" y="1135.3" font-size="14" text-anchor="end" fill="#4D4D4D">0.00</text>
<line x1="718.3" y1="1083.78" x2="722.3" y2="1083.78" stroke="#333333" stroke-width="1.3"/>
<text x="714.5" y="1089.68" font-size="14" text-anchor="end" fill="#4D4D4D">0.25</text>
<line x1="718.3" y1="1038.15" x2="722.3" y2="1038.15" stroke="#333333" stroke-width="1.3"/>
<text x="714.5" y="1044.05" font-size="14" text-anchor="end" fill="#4D4D4D">0.50</text>
<line x1="718.3" y1="992.53" x2="722.3" y2="992.53" stroke="#333333" stroke-width="1.3"/>
<text x="714.5" y="998.43" font-size="14" text-anchor="end" fill="#4D4D4D">0.75</text>
<line x1="718.3" y1="946.9" x2="722.3" y2="946.9" stroke="#333333" stroke-width="1.3"/>
<text x="714.5" y="952.8" font-size="14" text-anchor="end" fill="#4D4D4D">1.00</text>
<line x1="756.2" y1="1138.6" x2="756.2" y2="1142.6" stroke="#333333" stroke-width="1.3"/>
<text x="727.6" y="1156.1" font-size="13.85" fill="#4D4D4D">Bacteria</text>
<line x1="813" y1="1138.6" x2="813" y2="1142.6" stroke="#333333" stroke-width="1.3"/>
<text x="783.9" y="1156.1" font-size="13.85" fill="#4D4D4D">Temperate</text>
<line x1="869.6" y1="1138.6" x2="869.6" y2="1142.6" stroke="#333333" stroke-width="1.3"/>
<text x="854.4" y="1156.1" font-size="13.85" fill="#4D4D4D">Virulent</text>
<text x="679.2" y="1038" font-size="16.8" text-anchor="middle" transform="rotate(-90 679.2 1038)">Variance explained (R²)</text>
</svg>
</body></html>
